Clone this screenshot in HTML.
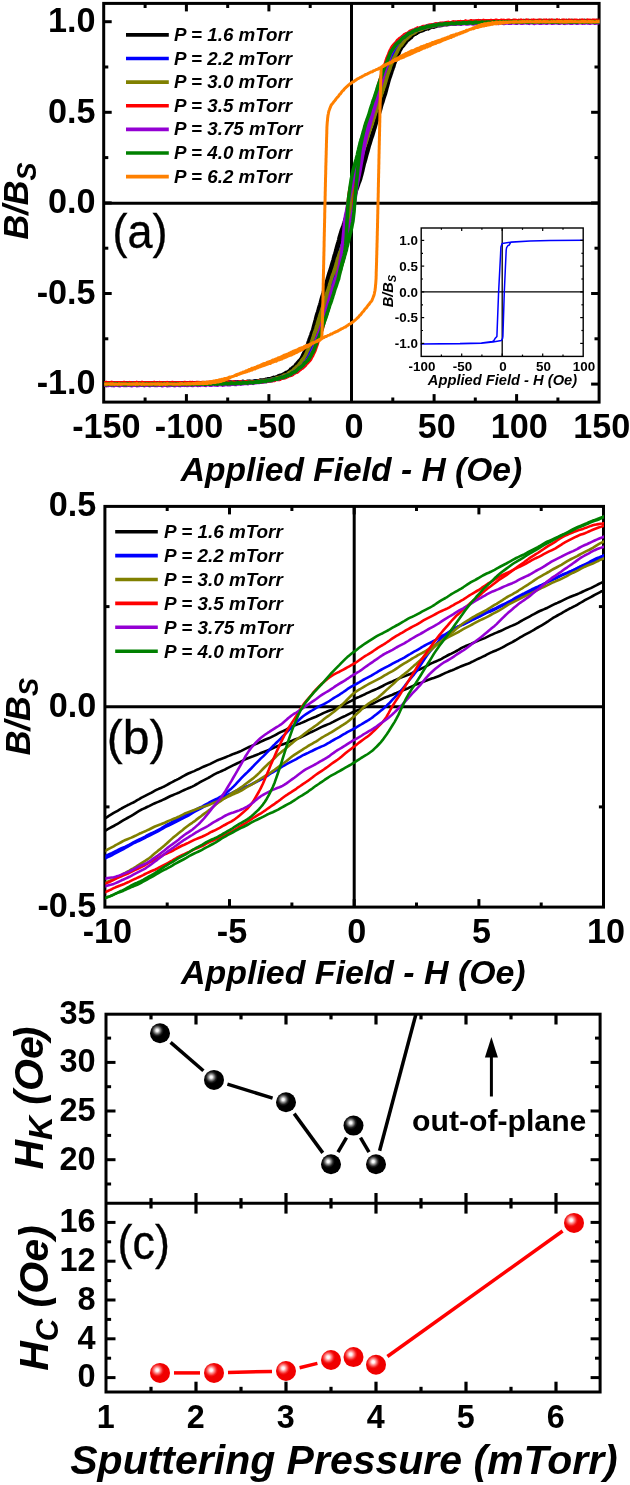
<!DOCTYPE html>
<html lang="en"><head><meta charset="utf-8"><title>Hysteresis loops vs sputtering pressure</title>
<style>html,body{margin:0;padding:0;background:#fff;overflow:hidden}svg{display:block}text{font-family:"Liberation Sans",sans-serif}</style></head><body>
<svg width="630" height="1485" viewBox="0 0 630 1485">
<rect x="0" y="0" width="630" height="1485" fill="#fff"/>
<defs>
<radialGradient id="gk" cx="0.36" cy="0.36" r="0.33" fx="0.36" fy="0.36"><stop offset="0" stop-color="#fff"/><stop offset="0.18" stop-color="#f4f4f4"/><stop offset="0.45" stop-color="#8a8a8a"/><stop offset="0.75" stop-color="#222"/><stop offset="1" stop-color="#000"/></radialGradient>
<radialGradient id="gr" cx="0.36" cy="0.36" r="0.34" fx="0.36" fy="0.36"><stop offset="0" stop-color="#fff"/><stop offset="0.2" stop-color="#fff0f0"/><stop offset="0.5" stop-color="#ff8080"/><stop offset="0.8" stop-color="#f42020"/><stop offset="1" stop-color="#f00000"/></radialGradient>
<clipPath id="ca"><rect x="104.2" y="3.9" width="495.4" height="397.7"/></clipPath>
<clipPath id="cb"><rect x="105.4" y="506.9" width="498.6" height="399.7"/></clipPath>
<clipPath id="cc"><rect x="106" y="1014.2" width="494.1" height="189.1"/></clipPath>
</defs>
<g id="panel-a">
<line x1="351.5" y1="3.4" x2="351.5" y2="402.1" stroke="#000" stroke-width="3" stroke-linecap="butt"/>
<line x1="103.7" y1="203.2" x2="599.1" y2="203.2" stroke="#000" stroke-width="3" stroke-linecap="butt"/>
<line x1="145.1" y1="402.1" x2="145.1" y2="397.5" stroke="#000" stroke-width="3" stroke-linecap="butt"/>
<line x1="145.1" y1="3.4" x2="145.1" y2="8" stroke="#000" stroke-width="3" stroke-linecap="butt"/>
<line x1="186.4" y1="402.1" x2="186.4" y2="394.1" stroke="#000" stroke-width="3" stroke-linecap="butt"/>
<line x1="186.4" y1="3.4" x2="186.4" y2="11.4" stroke="#000" stroke-width="3" stroke-linecap="butt"/>
<line x1="227.7" y1="402.1" x2="227.7" y2="397.5" stroke="#000" stroke-width="3" stroke-linecap="butt"/>
<line x1="227.7" y1="3.4" x2="227.7" y2="8" stroke="#000" stroke-width="3" stroke-linecap="butt"/>
<line x1="268.9" y1="402.1" x2="268.9" y2="394.1" stroke="#000" stroke-width="3" stroke-linecap="butt"/>
<line x1="268.9" y1="3.4" x2="268.9" y2="11.4" stroke="#000" stroke-width="3" stroke-linecap="butt"/>
<line x1="310.2" y1="402.1" x2="310.2" y2="397.5" stroke="#000" stroke-width="3" stroke-linecap="butt"/>
<line x1="310.2" y1="3.4" x2="310.2" y2="8" stroke="#000" stroke-width="3" stroke-linecap="butt"/>
<line x1="351.5" y1="402.1" x2="351.5" y2="394.1" stroke="#000" stroke-width="3" stroke-linecap="butt"/>
<line x1="351.5" y1="3.4" x2="351.5" y2="11.4" stroke="#000" stroke-width="3" stroke-linecap="butt"/>
<line x1="392.8" y1="402.1" x2="392.8" y2="397.5" stroke="#000" stroke-width="3" stroke-linecap="butt"/>
<line x1="392.8" y1="3.4" x2="392.8" y2="8" stroke="#000" stroke-width="3" stroke-linecap="butt"/>
<line x1="434.1" y1="402.1" x2="434.1" y2="394.1" stroke="#000" stroke-width="3" stroke-linecap="butt"/>
<line x1="434.1" y1="3.4" x2="434.1" y2="11.4" stroke="#000" stroke-width="3" stroke-linecap="butt"/>
<line x1="475.3" y1="402.1" x2="475.3" y2="397.5" stroke="#000" stroke-width="3" stroke-linecap="butt"/>
<line x1="475.3" y1="3.4" x2="475.3" y2="8" stroke="#000" stroke-width="3" stroke-linecap="butt"/>
<line x1="516.6" y1="402.1" x2="516.6" y2="394.1" stroke="#000" stroke-width="3" stroke-linecap="butt"/>
<line x1="516.6" y1="3.4" x2="516.6" y2="11.4" stroke="#000" stroke-width="3" stroke-linecap="butt"/>
<line x1="557.9" y1="402.1" x2="557.9" y2="397.5" stroke="#000" stroke-width="3" stroke-linecap="butt"/>
<line x1="557.9" y1="3.4" x2="557.9" y2="8" stroke="#000" stroke-width="3" stroke-linecap="butt"/>
<line x1="103.7" y1="384.1" x2="111.7" y2="384.1" stroke="#000" stroke-width="3" stroke-linecap="butt"/>
<line x1="599.1" y1="384.1" x2="591.1" y2="384.1" stroke="#000" stroke-width="3" stroke-linecap="butt"/>
<line x1="103.7" y1="338.8" x2="108.3" y2="338.8" stroke="#000" stroke-width="3" stroke-linecap="butt"/>
<line x1="599.1" y1="338.8" x2="594.5" y2="338.8" stroke="#000" stroke-width="3" stroke-linecap="butt"/>
<line x1="103.7" y1="293.5" x2="111.7" y2="293.5" stroke="#000" stroke-width="3" stroke-linecap="butt"/>
<line x1="599.1" y1="293.5" x2="591.1" y2="293.5" stroke="#000" stroke-width="3" stroke-linecap="butt"/>
<line x1="103.7" y1="248.2" x2="108.3" y2="248.2" stroke="#000" stroke-width="3" stroke-linecap="butt"/>
<line x1="599.1" y1="248.2" x2="594.5" y2="248.2" stroke="#000" stroke-width="3" stroke-linecap="butt"/>
<line x1="103.7" y1="202.9" x2="111.7" y2="202.9" stroke="#000" stroke-width="3" stroke-linecap="butt"/>
<line x1="599.1" y1="202.9" x2="591.1" y2="202.9" stroke="#000" stroke-width="3" stroke-linecap="butt"/>
<line x1="103.7" y1="157.6" x2="108.3" y2="157.6" stroke="#000" stroke-width="3" stroke-linecap="butt"/>
<line x1="599.1" y1="157.6" x2="594.5" y2="157.6" stroke="#000" stroke-width="3" stroke-linecap="butt"/>
<line x1="103.7" y1="112.3" x2="111.7" y2="112.3" stroke="#000" stroke-width="3" stroke-linecap="butt"/>
<line x1="599.1" y1="112.3" x2="591.1" y2="112.3" stroke="#000" stroke-width="3" stroke-linecap="butt"/>
<line x1="103.7" y1="67" x2="108.3" y2="67" stroke="#000" stroke-width="3" stroke-linecap="butt"/>
<line x1="599.1" y1="67" x2="594.5" y2="67" stroke="#000" stroke-width="3" stroke-linecap="butt"/>
<line x1="103.7" y1="21.7" x2="111.7" y2="21.7" stroke="#000" stroke-width="3" stroke-linecap="butt"/>
<line x1="599.1" y1="21.7" x2="591.1" y2="21.7" stroke="#000" stroke-width="3" stroke-linecap="butt"/>
<rect x="103.7" y="3.4" width="495.4" height="398.7" fill="none" stroke="#000" stroke-width="3"/>
<g clip-path="url(#ca)">
<polyline points="103.8,383.1 104.4,383.5 104.9,383.6 105.5,383.8 106,383.5 106.6,383.4 107.1,383.3 107.7,383.4 108.2,383.1 108.8,383 109.3,383 109.9,383.5 110.4,383.6 111,383.6 111.5,383.4 112.1,383.6 112.6,383.7 113.2,383.5 113.7,383.1 114.3,383 114.8,383.2 115.4,383.3 115.9,383.3 116.5,383.3 117,383.5 117.6,383.8 118.1,383.8 118.7,383.4 119.2,383.3 119.8,383.2 120.3,383.3 120.9,383.1 121.4,383 122,383.1 122.5,383.6 123.1,383.7 123.6,383.6 124.2,383.4 124.7,383.6 125.3,383.5 125.8,383.4 126.4,382.9 126.9,383.1 127.5,383.2 128.1,383.5 128.6,383.3 129.2,383.5 129.7,383.5 130.3,383.9 130.8,383.6 131.4,383.4 131.9,383 132.5,383.3 133,383.2 133.6,383.3 134.1,383 134.7,383.4 135.2,383.6 135.8,383.9 136.3,383.5 136.9,383.5 137.4,383.3 138,383.5 138.5,383.1 139.1,383.1 139.6,382.9 140.2,383.4 140.7,383.4 141.3,383.6 141.8,383.4 142.4,383.7 142.9,383.6 143.5,383.6 144,383.1 144.6,383.1 145.1,383.1 145.7,383.4 146.2,383.2 146.8,383.3 147.3,383.4 147.9,383.8 148.4,383.7 149,383.6 149.5,383.2 150.1,383.4 150.6,383.3 151.2,383.2 151.7,382.9 152.3,383.2 152.8,383.4 153.4,383.7 154,383.5 154.5,383.5 155.1,383.5 155.6,383.7 156.2,383.4 156.7,383.1 157.3,382.9 157.8,383.2 158.4,383.4 158.9,383.4 159.5,383.3 160,383.6 160.6,383.8 161.1,383.7 161.7,383.4 162.2,383.2 162.8,383.2 163.3,383.3 163.9,383.2 164.4,383 165,383.3 165.5,383.6 166.1,383.8 166.6,383.6 167.2,383.5 167.7,383.4 168.3,383.5 168.8,383.2 169.4,383.1 169.9,382.9 170.5,383.3 171,383.4 171.6,383.6 172.1,383.4 172.7,383.7 173.2,383.7 173.8,383.7 174.3,383.2 174.9,383.1 175.4,383 176,383.4 176.5,383.1 177.1,383.3 177.6,383.3 178.2,383.8 178.7,383.7 179.3,383.6 179.8,383.2 180.4,383.4 181,383.2 181.5,383.3 182.1,382.8 182.6,383.1 183.2,383.2 183.7,383.7 184.3,383.4 184.8,383.5 185.4,383.4 185.9,383.7 186.5,383.3 187,383.1 187.6,382.8 188.1,383.1 188.7,383.1 189.2,383.3 189.8,383.1 190.3,383.4 190.9,383.5 191.4,383.7 192,383.2 192.5,383.1 193.1,382.9 193.6,383.2 194.2,382.9 194.7,382.9 195.3,382.9 195.8,383.4 196.4,383.4 196.9,383.4 197.5,383.1 198,383.3 198.6,383.2 199.1,383.1 199.7,382.7 200.2,382.7 200.8,382.8 201.3,383.2 201.9,383.1 202.4,383.1 203,383.2 203.5,383.4 204.1,383.3 204.6,383 205.2,382.7 205.7,382.7 206.3,382.8 206.9,382.8 207.4,382.7 208,382.8 208.5,383.2 209.1,383.3 209.6,383.1 210.2,382.8 210.7,382.9 211.3,382.8 211.8,382.7 212.4,382.4 212.9,382.5 213.5,382.7 214,383 214.6,382.9 215.1,382.9 215.7,382.9 216.2,383.1 216.8,382.8 217.3,382.6 217.9,382.2 218.4,382.5 219,382.5 219.5,382.7 220.1,382.4 220.6,382.8 221.2,382.9 221.7,383.1 222.3,382.6 222.8,382.6 223.4,382.3 223.9,382.6 224.5,382.2 225,382.2 225.6,382.1 226.1,382.6 226.7,382.7 227.2,382.8 227.8,382.4 228.3,382.6 228.9,382.5 229.4,382.5 230,382 230.5,382 231.1,382 231.6,382.4 232.2,382.2 232.7,382.4 233.3,382.3 233.9,382.7 234.4,382.5 235,382.4 235.5,381.9 236.1,382.1 236.6,382 237.2,382.1 237.7,381.8 238.3,382.1 238.8,382.2 239.4,382.6 239.9,382.2 240.5,382.2 241,382 241.6,382.1 242.1,381.8 242.7,381.6 243.2,381.4 243.8,381.8 244.3,381.9 244.9,382 245.4,381.8 246,382 246.5,382 247.1,382 247.6,381.5 248.2,381.3 248.7,381.3 249.3,381.5 249.8,381.4 250.4,381.4 250.9,381.5 251.5,381.8 252,381.8 252.6,381.6 253.1,381.3 253.7,381.2 254.2,381.2 254.8,381 255.3,380.8 255.9,380.7 256.4,381 257,381.2 257.5,381.2 258.1,380.9 258.6,380.9 259.2,380.8 259.8,380.7 260.3,380.2 260.9,380.1 261.4,380 262,380.3 262.5,380.1 263.1,380.1 263.6,380 264.2,380.3 264.7,380.1 265.3,379.8 265.8,379.3 266.4,379.3 266.9,379.1 267.5,379.1 268,378.7 268.6,378.9 269.1,378.9 269.7,379.2 270.2,378.8 270.8,378.7 271.3,378.3 271.9,378.5 272.4,378 273,377.7 273.5,377.3 274.1,377.6 274.6,377.5 275.2,377.6 275.7,377.1 276.3,377.3 276.8,377 277.4,377 277.9,376.3 278.5,376 279,375.6 279.6,375.8 280.1,375.4 280.7,375.3 281.2,375 281.8,375.3 282.3,375 282.9,374.8 283.4,374.1 284,374 284.5,373.6 285.1,373.4 285.7,372.7 286.2,372.5 286.8,372.3 287.3,372.4 287.9,372 288.4,371.6 289,371.1 289.5,370.9 290.1,370.2 290.6,369.6 291.2,368.8 291.7,368.5 292.3,368.1 292.8,367.7 293.4,367.1 293.9,366.8 294.5,366.5 295,366.1 295.6,365.2 296.1,364.4 296.7,363.7 297.2,363.2 297.8,362.5 298.3,361.7 298.9,361.1 299.4,360.6 300,360.2 300.5,359.4 301.1,358.4 301.6,357.5 302.2,356.7 302.7,355.6 303.3,354.3 303.8,352.9 304.4,352 304.9,350.9 305.5,349.8 306,348.3 306.6,347.1 307.1,345.7 307.7,344.4 308.2,342.5 308.8,340.8 309.3,339.1 309.9,337.8 310.4,336.1 311,334.6 311.5,332.8 312.1,331.6 312.7,329.7 313.2,327.9 313.8,325.5 314.3,323.7 314.9,321.5 315.4,319.7 316,317.2 316.5,315.3 317.1,313.4 317.6,312 318.2,309.9 318.7,308.1 319.3,306.1 319.8,304.6 320.4,302.5 320.9,300.5 321.5,298.2 322,296.6 322.6,294.7 323.1,293.2 323.7,291.1 324.2,289.5 324.8,287.8 325.3,286.3 325.9,284.1 326.4,282.2 327,280 327.5,278.4 328.1,276.3 328.6,274.5 329.2,272.5 329.7,271.1 330.3,269.4 330.8,267.7 331.4,265.6 331.9,263.8 332.5,261.9 333,260.2 333.6,257.9 334.1,255.9 334.7,254.1 335.2,252.4 335.8,250.3 336.3,248.2 336.9,246 337.4,244.3 338,242.3 338.6,240.1 339.1,237.8 339.7,235.9 340.2,234.1 340.8,232.4 341.3,230.5 341.9,228.9 342.4,227.5 343,226.2 343.5,224.4 344.1,222.6 344.6,220.9 345.2,219.2 345.7,217.5 346.3,215.4 346.8,213.6 347.4,211.9 347.9,210.6 348.5,208.9 349,207.2 349.6,205.5 350.1,204.2 350.7,202.4 351.2,200.6 351.8,198.4 352.3,196.7 352.9,195 353.4,193.4 354,191.4 354.5,189.9 355.1,188.3 355.6,187 356.2,185 356.7,183.1 357.3,181 357.8,179.3 358.4,177.2 358.9,175.3 359.5,173.2 360,172 360.6,170.4 361.1,169 361.7,167 362.2,165.4 362.8,163.4 363.3,161.7 363.9,159.2 364.4,157.3 365,155.4 365.6,154.1 366.1,152.2 366.7,150.7 367.2,148.9 367.8,147.7 368.3,146 368.9,144.3 369.4,142 370,140.4 370.5,138.6 371.1,137.1 371.6,135 372.2,133.5 372.7,131.9 373.3,130.7 373.8,128.8 374.4,127.1 374.9,125.1 375.5,123.7 376,121.7 376.6,119.9 377.1,117.8 377.7,116.4 378.2,114.9 378.8,113.5 379.3,111.6 379.9,110 380.4,108.4 381,106.9 381.5,104.8 382.1,102.9 382.6,101 383.2,99.5 383.7,97.8 384.3,96 384.8,94.3 385.4,92.8 385.9,91.2 386.5,89.4 387,87.2 387.6,85.2 388.1,83.4 388.7,81.5 389.2,79.5 389.8,77.5 390.3,76 390.9,74.6 391.5,73 392,71.2 392.6,69.6 393.1,68.1 393.7,66.7 394.2,64.8 394.8,63 395.3,61.4 395.9,60.3 396.4,58.8 397,57.5 397.5,56.1 398.1,55.1 398.6,53.9 399.2,52.7 399.7,51.1 400.3,50.1 400.8,49 401.4,48.3 401.9,47.1 402.5,46.5 403,45.8 403.6,45.6 404.1,44.7 404.7,44.1 405.2,43.1 405.8,42.7 406.3,41.9 406.9,41.2 407.4,40.2 408,39.9 408.5,39.5 409.1,39.3 409.6,38.5 410.2,38.3 410.7,37.8 411.3,37.6 411.8,36.7 412.4,36.1 412.9,35.3 413.5,35.2 414,34.6 414.6,34.3 415.1,33.7 415.7,33.8 416.2,33.6 416.8,33.4 417.3,32.7 417.9,32.5 418.5,32.1 419,31.9 419.6,31.3 420.1,31 420.7,30.8 421.2,31 421.8,30.8 422.3,30.6 422.9,30.2 423.4,30.3 424,30 424.5,29.7 425.1,29 425.6,28.9 426.2,28.7 426.7,28.8 427.3,28.4 427.8,28.4 428.4,28.4 428.9,28.5 429.5,28.2 430,27.8 430.6,27.4 431.1,27.3 431.7,27.2 432.2,26.9 432.8,26.6 433.3,26.7 433.9,26.9 434.4,26.9 435,26.6 435.5,26.4 436.1,26.4 436.6,26.2 437.2,25.9 437.7,25.4 438.3,25.3 438.8,25.4 439.4,25.6 439.9,25.3 440.5,25.3 441,25.3 441.6,25.5 442.1,25.1 442.7,24.8 443.2,24.4 443.8,24.5 444.4,24.3 444.9,24.3 445.5,24 446,24.3 446.6,24.4 447.1,24.6 447.7,24.1 448.2,24.1 448.8,23.9 449.3,24 449.9,23.5 450.4,23.4 451,23.2 451.5,23.7 452.1,23.6 452.6,23.7 453.2,23.4 453.7,23.8 454.3,23.6 454.8,23.5 455.4,22.9 455.9,23 456.5,22.9 457,23.2 457.6,22.8 458.1,23 458.7,23 459.2,23.5 459.8,23.2 460.3,23.1 460.9,22.6 461.4,22.8 462,22.6 462.5,22.6 463.1,22.2 463.6,22.5 464.2,22.6 464.7,22.9 465.3,22.6 465.8,22.7 466.4,22.6 466.9,22.7 467.5,22.3 468,22.1 468.6,21.8 469.1,22.2 469.7,22.2 470.3,22.3 470.8,22.1 471.4,22.4 471.9,22.5 472.5,22.4 473,22 473.6,21.8 474.1,21.8 474.7,21.9 475.2,21.7 475.8,21.6 476.3,21.8 476.9,22.2 477.4,22.2 478,22.1 478.5,21.9 479.1,21.9 479.6,21.9 480.2,21.6 480.7,21.4 481.3,21.4 481.8,21.7 482.4,21.8 482.9,21.8 483.5,21.7 484,22 484.6,22 485.1,21.9 485.7,21.4 486.2,21.4 486.8,21.4 487.3,21.6 487.9,21.4 488.4,21.5 489,21.6 489.5,22 490.1,21.9 490.6,21.8 491.2,21.4 491.7,21.6 492.3,21.4 492.8,21.4 493.4,21 493.9,21.3 494.5,21.4 495,21.8 495.6,21.5 496.1,21.6 496.7,21.5 497.3,21.8 497.8,21.3 498.4,21.2 498.9,20.9 499.5,21.3 500,21.2 500.6,21.4 501.1,21.2 501.7,21.6 502.2,21.6 502.8,21.8 503.3,21.2 503.9,21.2 504.4,21 505,21.3 505.5,20.9 506.1,21 506.6,21 507.2,21.5 507.7,21.5 508.3,21.5 508.8,21.2 509.4,21.4 509.9,21.2 510.5,21.2 511,20.7 511.6,20.8 512.1,20.9 512.7,21.3 513.2,21.1 513.8,21.2 514.3,21.2 514.9,21.6 515.4,21.3 516,21.1 516.5,20.7 517.1,20.9 517.6,20.9 518.2,20.9 518.7,20.8 519.3,21.1 519.8,21.3 520.4,21.5 520.9,21.2 521.5,21 522,21 522.6,21.1 523.2,20.8 523.7,20.6 524.3,20.7 524.8,21 525.4,21.2 525.9,21.2 526.5,21.1 527,21.2 527.6,21.3 528.1,21.1 528.7,20.8 529.2,20.6 529.8,20.8 530.3,20.9 530.9,20.9 531.4,20.8 532,21.1 532.5,21.3 533.1,21.4 533.6,21 534.2,20.9 534.7,20.8 535.3,21 535.8,20.7 536.4,20.7 536.9,20.7 537.5,21.2 538,21.2 538.6,21.3 539.1,21 539.7,21.2 540.2,21.1 540.8,21.1 541.3,20.5 541.9,20.7 542.4,20.7 543,21.1 543.5,20.9 544.1,21.1 544.6,21 545.2,21.5 545.7,21.2 546.3,21.1 546.8,20.6 547.4,20.9 547.9,20.8 548.5,20.9 549,20.6 549.6,21 550.2,21.1 550.7,21.5 551.3,21.1 551.8,21.1 552.4,20.9 552.9,21.1 553.5,20.8 554,20.7 554.6,20.5 555.1,21 555.7,21 556.2,21.2 556.8,21 557.3,21.3 557.9,21.2 558.4,21.3 559,20.8 559.5,20.7 560.1,20.7 560.6,21 561.2,20.8 561.7,20.9 562.3,20.9 562.8,21.4 563.4,21.3 563.9,21.2 564.5,20.9 565,20.9 565.6,20.9 566.1,20.8 566.7,20.6 567.2,20.7 567.8,21 568.3,21.3 568.9,21.2 569.4,21.1 570,21.1 570.5,21.2 571.1,21.1 571.6,20.7 572.2,20.6 572.7,20.7 573.3,21 573.8,21 574.4,21 574.9,21.1 575.5,21.4 576.1,21.3 576.6,21.1 577.2,20.7 577.7,20.8 578.3,20.8 578.8,20.9 579.4,20.6 579.9,20.9 580.5,21.1 581,21.4 581.6,21.2 582.1,21.1 582.7,21 583.2,21.2 583.8,20.8 584.3,20.7 584.9,20.5 585.4,20.9 586,21 586.5,21.2 587.1,20.9 587.6,21.3 588.2,21.2 588.7,21.4 589.3,20.8 589.8,20.8 590.4,20.6 590.9,21 591.5,20.7 592,20.9 592.6,20.8 593.1,21.4 593.7,21.3 594.2,21.3 594.8,20.9 595.3,21 595.9,20.9 596.4,20.9 597,20.5 597.5,20.7 598.1,20.8 598.6,21.3 599.2,21.1 599.2,21.2 598.6,21.1 598.1,21.3 597.5,20.9 597,20.7 596.4,20.5 595.9,20.9 595.3,20.9 594.8,21 594.2,20.9 593.7,21.2 593.1,21.3 592.6,21.3 592,20.9 591.5,20.8 590.9,20.8 590.4,20.9 589.8,20.7 589.3,20.7 588.7,20.8 588.2,21.2 587.6,21.3 587.1,21.2 586.5,21.1 586,21.1 585.4,21.1 584.9,20.8 584.3,20.6 583.8,20.6 583.2,20.9 582.7,21 582.1,21 581.6,21 581,21.3 580.5,21.3 579.9,21.2 579.4,20.8 578.8,20.7 578.3,20.7 577.7,20.9 577.2,20.7 576.6,20.8 576.1,20.9 575.5,21.4 574.9,21.3 574.4,21.2 573.8,20.9 573.3,21.1 572.7,20.9 572.2,20.9 571.6,20.5 571.1,20.8 570.5,20.9 570,21.3 569.4,21 568.9,21.2 568.3,21.1 567.8,21.4 567.2,21 566.7,20.8 566.1,20.5 565.6,20.9 565,20.8 564.5,21 563.9,20.8 563.4,21.2 562.8,21.3 562.3,21.4 561.7,20.9 561.2,21 560.6,20.8 560.1,21 559.5,20.6 559,20.7 558.4,20.7 557.9,21.2 557.3,21.2 556.8,21.3 556.2,21 555.7,21.2 555.1,21.1 554.6,21 554,20.5 553.5,20.7 552.9,20.7 552.4,21.1 551.8,20.9 551.3,21.1 550.7,21.1 550.2,21.5 549.6,21.2 549,21 548.5,20.7 547.9,20.9 547.4,20.8 546.8,20.8 546.3,20.6 545.7,21 545.2,21.2 544.6,21.4 544.1,21.1 543.5,21 543,21 542.4,21.1 541.9,20.8 541.3,20.6 540.8,20.6 540.2,20.9 539.7,21.1 539.1,21.1 538.6,21.1 538,21.2 537.5,21.4 536.9,21.1 536.4,20.8 535.8,20.6 535.3,20.8 534.7,20.8 534.2,20.9 533.6,20.8 533.1,21.1 532.5,21.3 532,21.4 531.4,21 530.9,21 530.3,20.9 529.8,21 529.2,20.7 528.7,20.7 528.1,20.6 527.6,21.2 527,21.2 526.5,21.3 525.9,21 525.4,21.3 524.8,21.2 524.3,21.1 523.7,20.6 523.2,20.7 522.6,20.7 522,21.1 521.5,20.9 520.9,21.1 520.4,21.1 519.8,21.6 519.3,21.3 518.7,21.2 518.2,20.8 517.6,21 517.1,20.9 516.5,21 516,20.7 515.4,21.1 514.9,21.2 514.3,21.6 513.8,21.2 513.2,21.3 512.7,21.1 512.1,21.4 511.6,21 511,20.9 510.5,20.7 509.9,21.1 509.4,21.2 508.8,21.4 508.3,21.2 507.7,21.5 507.2,21.5 506.6,21.5 506.1,21 505.5,21 505,21 504.4,21.2 503.9,21 503.3,21.1 502.8,21.2 502.2,21.7 501.7,21.7 501.1,21.5 500.6,21.3 500,21.4 499.5,21.3 498.9,21.2 498.4,21 497.8,21.1 497.3,21.4 496.7,21.7 496.1,21.6 495.6,21.5 495,21.6 494.5,21.7 493.9,21.6 493.4,21.2 492.8,21.1 492.3,21.3 491.7,21.5 491.2,21.4 490.6,21.5 490.1,21.6 489.5,22 489,21.9 488.4,21.7 487.9,21.4 487.3,21.5 486.8,21.5 486.2,21.5 485.7,21.2 485.1,21.5 484.6,21.7 484,22.1 483.5,21.9 482.9,21.9 482.4,21.8 481.8,22 481.3,21.6 480.7,21.5 480.2,21.3 479.6,21.7 479.1,21.8 478.5,22 478,21.8 477.4,22.2 476.9,22.2 476.3,22.3 475.8,21.8 475.2,21.8 474.7,21.6 474.1,22 473.6,21.7 473,21.9 472.5,21.9 471.9,22.5 471.4,22.4 470.8,22.5 470.3,22.1 469.7,22.4 469.1,22.2 468.6,22.3 468,21.9 467.5,22.1 466.9,22.2 466.4,22.7 465.8,22.6 465.3,22.7 464.7,22.7 464.2,23 463.6,22.7 463.1,22.6 462.5,22.2 462,22.6 461.4,22.6 460.9,22.8 460.3,22.7 459.8,23 459.2,23.2 458.7,23.5 458.1,23.1 457.6,23 457,23 456.5,23.2 455.9,23 455.4,22.9 454.8,23 454.3,23.5 453.7,23.7 453.2,23.7 452.6,23.6 452.1,23.7 451.5,23.8 451,23.7 450.4,23.4 449.9,23.3 449.3,23.6 448.8,23.9 448.2,24 447.7,24 447.1,24.3 446.6,24.5 446,24.6 445.5,24.4 444.9,24.2 444.4,24.3 443.8,24.5 443.2,24.5 442.7,24.6 442.1,24.7 441.6,25.3 441,25.5 440.5,25.6 439.9,25.3 439.4,25.6 438.8,25.6 438.3,25.7 437.7,25.4 437.2,25.6 436.6,25.8 436.1,26.4 435.5,26.4 435,26.6 434.4,26.6 433.9,27.1 433.3,27 432.8,27 432.2,26.7 431.7,27.1 431.1,27.2 430.6,27.6 430,27.4 429.5,28 428.9,28.3 428.4,28.8 427.8,28.5 427.3,28.7 426.7,28.6 426.2,29.1 425.6,28.9 425.1,29.1 424.5,29.1 424,29.9 423.4,30.1 422.9,30.5 422.3,30.4 421.8,30.9 421.2,31 420.7,31.3 420.1,31 419.6,31.3 419,31.5 418.5,32.2 417.9,32.3 417.3,32.7 416.8,33 416.2,33.7 415.7,34 415.1,34.2 414.6,34.2 414,34.7 413.5,35.1 412.9,35.6 412.4,35.8 411.8,36.4 411.3,37.2 410.7,38 410.2,38.3 409.6,38.7 409.1,39.2 408.5,39.8 408,40.1 407.4,40.4 406.9,40.9 406.3,41.7 405.8,42.6 405.2,43.3 404.7,43.8 404.1,44.6 403.6,45.5 403,46.2 402.5,46.7 401.9,47.2 401.4,48.1 400.8,49.1 400.3,50.1 399.7,51 399.2,52.3 398.6,53.8 398.1,55.3 397.5,56.4 397,57.6 396.4,58.8 395.9,60.4 395.3,61.7 394.8,63 394.2,64.4 393.7,66.4 393.1,68 392.6,69.8 392,71.1 391.5,73 390.9,74.7 390.3,76.6 389.8,77.9 389.2,79.8 388.7,81.6 388.1,83.9 387.6,85.7 387,87.8 386.5,89.7 385.9,92.1 385.4,93.9 384.8,95.7 384.3,97 383.7,99 383.2,100.7 382.6,102.6 382.1,104 381.5,106.1 381,108 380.4,110.3 379.9,111.8 379.3,113.6 378.8,115.2 378.2,117.3 377.7,118.7 377.1,120.4 376.6,121.8 376,124 375.5,125.8 374.9,127.9 374.4,129.4 373.8,131.5 373.3,133.3 372.7,135.3 372.2,136.7 371.6,138.3 371.1,139.9 370.5,142 370,143.6 369.4,145.5 368.9,147.2 368.3,149.5 367.8,151.5 367.2,153.6 366.7,155.3 366.1,157.5 365.6,159.5 365,161.6 364.4,163.4 363.9,165.6 363.3,168 362.8,170.5 362.2,172.7 361.7,174.7 361.1,176.8 360.6,178.9 360,180.6 359.5,182 358.9,183.3 358.4,184.9 357.8,186.6 357.3,188.2 356.7,189.7 356.2,191.3 355.6,193.2 355.1,194.9 354.5,196.4 354,197.6 353.4,199.2 352.9,200.8 352.3,202.5 351.8,203.8 351.2,205.7 350.7,207.7 350.1,210 349.6,211.7 349,213.6 348.5,215.2 347.9,217 347.4,218.3 346.8,219.6 346.3,220.6 345.7,222.4 345.2,224.1 344.6,226 344.1,227.5 343.5,229.6 343,231.4 342.4,233.5 341.9,235 341.3,236.8 340.8,238.4 340.2,240.6 339.7,242.2 339.1,244 338.6,245.5 338,247.8 337.4,249.8 336.9,252 336.3,253.6 335.8,255.9 335.2,258 334.7,260.1 334.1,261.3 333.6,263.1 333,264.8 332.5,267 331.9,268.6 331.4,270.4 330.8,272 330.3,274.1 329.7,275.6 329.2,277.2 328.6,278.4 328.1,280.3 327.5,282 327,283.9 326.4,285.4 325.9,287.3 325.3,289.2 324.8,291.3 324.2,292.7 323.7,294.2 323.1,295.7 322.6,297.6 322,299.1 321.5,300.7 320.9,302.2 320.4,304.3 319.8,306.3 319.3,308.1 318.7,309.7 318.2,311.5 317.6,313.3 317.1,315.1 316.5,316.6 316,318.2 315.4,320.1 314.9,322.3 314.3,324.2 313.8,326 313.2,327.9 312.7,329.9 312.1,331.8 311.5,333.3 311,334.7 310.4,336.1 309.9,337.8 309.3,339.3 308.8,340.7 308.2,342.1 307.7,344 307.1,345.7 306.6,347.3 306,348.4 305.5,349.8 304.9,351 304.4,352.4 303.8,353.1 303.3,354.2 302.7,355.2 302.2,356.6 301.6,357.5 301.1,358.4 300.5,359.1 300,360.3 299.4,360.9 298.9,361.5 298.3,361.7 297.8,362.5 297.2,363 296.7,363.9 296.1,364.2 295.6,365 295,365.7 294.5,366.7 293.9,366.9 293.4,367.4 292.8,367.6 292.3,368.3 291.7,368.6 291.2,369 290.6,369.1 290.1,370 289.5,370.6 289,371.3 288.4,371.4 287.9,372 287.3,372.3 286.8,372.9 286.2,372.7 285.7,372.9 285.1,373 284.5,373.6 284,373.8 283.4,374.2 282.9,374.3 282.3,375 281.8,375.3 281.2,375.5 280.7,375.3 280.1,375.5 279.6,375.7 279,376 278.5,375.9 277.9,376.2 277.4,376.5 276.8,377.1 276.3,377.3 275.7,377.4 275.2,377.4 274.6,377.7 274.1,377.7 273.5,377.7 273,377.5 272.4,377.8 271.9,378.2 271.3,378.5 270.8,378.5 270.2,378.7 269.7,379 269.1,379.3 268.6,379.2 268,378.9 267.5,378.9 266.9,379.1 266.4,379.3 265.8,379.3 265.3,379.4 264.7,379.8 264.2,380.2 263.6,380.3 263.1,380.2 262.5,380.1 262,380.3 261.4,380.3 260.9,380.2 260.3,380 259.8,380.4 259.2,380.7 258.6,381 258.1,380.9 257.5,381.1 257,381.1 256.4,381.4 255.9,381 255.3,380.9 254.8,380.8 254.2,381.2 253.7,381.1 253.1,381.3 252.6,381.2 252,381.7 251.5,381.8 250.9,381.9 250.4,381.4 249.8,381.5 249.3,381.4 248.7,381.6 248.2,381.3 247.6,381.4 247.1,381.4 246.5,382 246,382 245.4,382.1 244.9,381.8 244.3,382.1 243.8,381.9 243.2,381.9 242.7,381.4 242.1,381.7 241.6,381.8 241,382.1 240.5,381.9 239.9,382.2 239.4,382.2 238.8,382.6 238.3,382.3 237.7,382.1 237.2,381.8 236.6,382.1 236.1,382 235.5,382 235,381.9 234.4,382.3 233.9,382.5 233.3,382.7 232.7,382.4 232.2,382.4 231.6,382.3 231.1,382.4 230.5,382.1 230,382 229.4,382 228.9,382.4 228.3,382.5 227.8,382.6 227.2,382.5 226.7,382.7 226.1,382.8 225.6,382.6 225,382.3 224.5,382.2 223.9,382.3 223.4,382.5 222.8,382.4 222.3,382.4 221.7,382.7 221.2,383 220.6,383 220.1,382.7 219.5,382.6 219,382.6 218.4,382.7 217.9,382.4 217.3,382.3 216.8,382.4 216.2,382.9 215.7,383 215.1,383 214.6,382.8 214,383 213.5,383 212.9,382.9 212.4,382.4 211.8,382.5 211.3,382.6 210.7,382.9 210.2,382.7 209.6,382.9 209.1,383 208.5,383.4 208,383.1 207.4,383 206.9,382.6 206.3,382.9 205.7,382.7 205.2,382.8 204.6,382.6 204.1,383 203.5,383.2 203,383.5 202.4,383.1 201.9,383.2 201.3,383 200.8,383.3 200.2,382.8 199.7,382.8 199.1,382.6 198.6,383.1 198,383.1 197.5,383.3 196.9,383.1 196.4,383.5 195.8,383.4 195.3,383.4 194.7,382.9 194.2,382.9 193.6,382.9 193.1,383.2 192.5,382.9 192,383.1 191.4,383.2 190.9,383.7 190.3,383.5 189.8,383.5 189.2,383.1 188.7,383.3 188.1,383.2 187.6,383.1 187,382.8 186.5,383 185.9,383.3 185.4,383.6 184.8,383.4 184.3,383.5 183.7,383.5 183.2,383.6 182.6,383.3 182.1,383.1 181.5,382.9 181,383.2 180.4,383.3 179.8,383.3 179.3,383.3 178.7,383.5 178.2,383.8 177.6,383.7 177.1,383.4 176.5,383.2 176,383.3 175.4,383.3 174.9,383.2 174.3,383 173.8,383.2 173.2,383.5 172.7,383.8 172.1,383.5 171.6,383.5 171,383.5 170.5,383.6 169.9,383.3 169.4,383.1 168.8,382.9 168.3,383.3 167.7,383.4 167.2,383.5 166.6,383.3 166.1,383.7 165.5,383.7 165,383.7 164.4,383.2 163.9,383.2 163.3,383.1 162.8,383.4 162.2,383.1 161.7,383.2 161.1,383.2 160.6,383.8 160,383.7 159.5,383.7 158.9,383.3 158.4,383.5 157.8,383.3 157.3,383.3 156.7,382.9 156.2,383.1 155.6,383.2 155.1,383.7 154.5,383.4 154,383.6 153.4,383.5 152.8,383.8 152.3,383.4 151.7,383.3 151.2,382.9 150.6,383.3 150.1,383.2 149.5,383.4 149,383.2 148.4,383.6 147.9,383.7 147.3,383.9 146.8,383.4 146.2,383.4 145.7,383.2 145.1,383.4 144.6,383.1 144,383.1 143.5,383.1 142.9,383.6 142.4,383.6 141.8,383.7 141.3,383.4 140.7,383.6 140.2,383.5 139.6,383.4 139.1,383 138.5,383 138,383.1 137.4,383.4 136.9,383.4 136.3,383.4 135.8,383.5 135.2,383.8 134.7,383.7 134.1,383.4 133.6,383.1 133,383.2 132.5,383.3 131.9,383.2 131.4,383.1 130.8,383.3 130.3,383.6 129.7,383.7 129.2,383.6 128.6,383.4 128.1,383.5 127.5,383.4 126.9,383.3 126.4,382.9 125.8,383 125.3,383.2 124.7,383.6 124.2,383.5 123.6,383.5 123.1,383.5 122.5,383.8 122,383.5 121.4,383.3 120.9,383 120.3,383.2 119.8,383.2 119.2,383.3 118.7,383.1 118.1,383.5 117.6,383.6 117,383.9 116.5,383.5 115.9,383.4 115.4,383.2 114.8,383.5 114.3,383.1 113.7,383.1 113.2,383 112.6,383.5 112.1,383.5 111.5,383.7 111,383.4 110.4,383.7 109.9,383.5 109.3,383.6 108.8,383 108.2,383.1 107.7,383 107.1,383.5 106.6,383.3 106,383.4 105.5,383.4 104.9,383.9 104.4,383.6 103.8,383.5" fill="none" stroke="#000000" stroke-width="3.6" stroke-linejoin="round" stroke-linecap="butt" />
<polyline points="103.8,383.7 104.4,383.9 104.9,383.9 105.5,383.6 106,383.5 106.6,383.5 107.1,383.5 107.7,383.3 108.2,383.2 108.8,383.3 109.3,383.7 109.9,383.8 110.4,383.7 111,383.7 111.5,383.8 112.1,383.8 112.6,383.5 113.2,383.3 113.7,383.2 114.3,383.4 114.8,383.5 115.4,383.5 115.9,383.5 116.5,383.8 117,383.9 117.6,383.9 118.1,383.5 118.7,383.4 119.2,383.4 119.8,383.5 120.3,383.2 120.9,383.3 121.4,383.4 122,383.9 122.5,383.8 123.1,383.8 123.6,383.5 124.2,383.8 124.7,383.6 125.3,383.5 125.8,383 126.4,383.3 126.9,383.4 127.5,383.8 128.1,383.5 128.6,383.7 129.2,383.7 129.7,384.1 130.3,383.6 130.8,383.5 131.4,383.2 131.9,383.5 132.5,383.3 133,383.5 133.6,383.2 134.1,383.7 134.7,383.8 135.2,384 135.8,383.6 136.3,383.6 136.9,383.5 137.4,383.7 138,383.2 138.5,383.2 139.1,383.2 139.6,383.7 140.2,383.7 140.7,383.8 141.3,383.6 141.8,383.9 142.4,383.8 142.9,383.7 143.5,383.2 144,383.3 144.6,383.3 145.1,383.6 145.7,383.4 146.2,383.5 146.8,383.7 147.3,384 147.9,383.9 148.4,383.7 149,383.4 149.5,383.5 150.1,383.4 150.6,383.3 151.2,383.2 151.7,383.4 152.3,383.7 152.8,383.9 153.4,383.7 154,383.7 154.5,383.7 155.1,383.7 155.6,383.5 156.2,383.2 156.7,383.2 157.3,383.4 157.8,383.6 158.4,383.5 158.9,383.6 159.5,383.7 160,384 160.6,383.8 161.1,383.5 161.7,383.2 162.2,383.4 162.8,383.4 163.3,383.4 163.9,383.2 164.4,383.6 165,383.8 165.5,384 166.1,383.7 166.6,383.7 167.2,383.5 167.7,383.7 168.3,383.3 168.8,383.2 169.4,383.1 169.9,383.6 170.5,383.6 171,383.8 171.6,383.5 172.1,383.9 172.7,383.8 173.2,383.8 173.8,383.2 174.3,383.3 174.9,383.2 175.4,383.6 176,383.3 176.5,383.5 177.1,383.5 177.6,384 178.2,383.8 178.7,383.8 179.3,383.3 179.8,383.6 180.4,383.4 181,383.4 181.5,383 182.1,383.4 182.6,383.5 183.2,383.9 183.7,383.6 184.3,383.7 184.8,383.6 185.4,383.8 185.9,383.4 186.5,383.2 187,383 187.6,383.4 188.1,383.4 188.7,383.5 189.2,383.4 189.8,383.7 190.3,383.8 190.9,383.8 191.4,383.4 192,383.3 192.5,383.2 193.1,383.4 193.6,383.1 194.2,383.1 194.7,383.2 195.3,383.7 195.8,383.7 196.4,383.6 196.9,383.4 197.5,383.5 198,383.4 198.6,383.2 199.1,382.9 199.7,382.9 200.2,383.2 200.8,383.4 201.3,383.4 201.9,383.4 202.4,383.5 203,383.6 203.5,383.5 204.1,383.1 204.6,383 205.2,383 205.7,383.2 206.3,383 206.9,383.1 207.4,383.2 208,383.6 208.5,383.5 209.1,383.4 209.6,383.1 210.2,383.2 210.7,383.1 211.3,383 211.8,382.7 212.4,382.9 212.9,383.1 213.5,383.5 214,383.2 214.6,383.3 215.1,383.2 215.7,383.5 216.2,383.1 216.8,382.9 217.3,382.6 217.9,382.9 218.4,382.9 219,383.1 219.5,382.8 220.1,383.2 220.6,383.3 221.2,383.5 221.7,382.9 222.3,382.9 222.8,382.7 223.4,383 223.9,382.6 224.5,382.7 225,382.6 225.6,383.2 226.1,383.1 226.7,383.2 227.2,382.8 227.8,383 228.3,382.9 228.9,382.9 229.4,382.3 230,382.5 230.5,382.5 231.1,382.9 231.6,382.7 232.2,382.9 232.7,382.8 233.3,383.2 233.9,382.9 234.4,382.7 235,382.3 235.5,382.5 236.1,382.5 236.6,382.5 237.2,382.3 237.7,382.6 238.3,382.8 238.8,383 239.4,382.7 239.9,382.6 240.5,382.5 241,382.6 241.6,382.3 242.1,382.1 242.7,382.1 243.2,382.4 243.8,382.6 244.3,382.6 244.9,382.4 245.4,382.5 246,382.6 246.5,382.4 247.1,382.1 247.6,381.8 248.2,382 248.7,382.1 249.3,382.1 249.8,382 250.4,382.2 250.9,382.4 251.5,382.5 252,382.1 252.6,382 253.1,381.8 253.7,381.9 254.2,381.7 254.8,381.6 255.3,381.5 255.9,382 256.4,382 257,382.1 257.5,381.7 258.1,381.9 258.6,381.7 259.2,381.7 259.8,381.1 260.3,381.1 260.9,381.1 261.4,381.4 262,381.2 262.5,381.3 263.1,381.2 263.6,381.6 264.2,381.3 264.7,381.1 265.3,380.5 265.8,380.7 266.4,380.5 266.9,380.6 267.5,380.2 268,380.5 268.6,380.5 269.1,380.9 269.7,380.4 270.2,380.3 270.8,380 271.3,380.2 271.9,379.7 272.4,379.5 273,379.2 273.5,379.5 274.1,379.5 274.6,379.6 275.2,379.2 275.7,379.3 276.3,379.2 276.8,379.1 277.4,378.4 277.9,378.2 278.5,378 279,378.1 279.6,377.8 280.1,377.7 280.7,377.6 281.2,377.8 281.8,377.6 282.3,377.3 282.9,376.8 283.4,376.6 284,376.4 284.5,376.2 285.1,375.7 285.7,375.6 286.2,375.6 286.8,375.7 287.3,375.4 287.9,375 288.4,374.8 289,374.6 289.5,374.1 290.1,373.5 290.6,373 291.2,372.8 291.7,372.7 292.3,372.4 292.8,372 293.4,371.7 293.9,371.7 294.5,371.2 295,370.6 295.6,369.8 296.1,369.3 296.7,368.8 297.2,368.4 297.8,367.6 298.3,367.2 298.9,366.9 299.4,366.7 300,365.8 300.5,365.1 301.1,364.3 301.6,363.9 302.2,362.9 302.7,362 303.3,361 303.8,360.7 304.4,360 304.9,359.4 305.5,358.3 306,357.7 306.6,356.8 307.1,356 307.7,354.5 308.2,353.4 308.8,352.2 309.3,351.4 309.9,350.1 310.4,349.1 311,347.8 311.5,347 312.1,345.5 312.7,344.1 313.2,342.1 313.8,340.7 314.3,338.9 314.9,337.3 315.4,335.1 316,333.6 316.5,332 317.1,330.7 317.6,328.8 318.2,327.2 318.7,325.3 319.3,323.9 319.8,321.8 320.4,319.9 320.9,317.7 321.5,316.2 322,314.4 322.6,312.8 323.1,310.7 323.7,309.1 324.2,307.4 324.8,305.7 325.3,303.5 325.9,301.5 326.4,299.4 327,297.8 327.5,295.8 328.1,293.9 328.6,292 329.2,290.5 329.7,288.9 330.3,287 330.8,284.9 331.4,283.1 331.9,281.3 332.5,279.3 333,277.1 333.6,275.1 334.1,273.4 334.7,271.8 335.2,270 335.8,268 336.3,266.2 336.9,264.5 337.4,262.6 338,260.3 338.6,258 339.1,255.9 339.7,254.1 340.2,252.1 340.8,250.2 341.3,248.3 341.9,246.7 342.4,244.8 343,242.3 343.5,238.7 344.1,234.9 344.6,231.2 345.2,227.4 345.7,223.2 346.3,219.6 346.8,216 347.4,212.4 347.9,208.4 348.5,205.7 349,203.4 349.6,201.6 350.1,199.1 350.7,196.7 351.2,194 351.8,192 352.3,189.8 352.9,187.9 353.4,185.5 354,183.7 354.5,181.7 355.1,180 355.6,177.5 356.2,175.4 356.7,173 357.3,171.2 357.8,168.8 358.4,166.7 358.9,164.4 359.5,163 360,161.1 360.6,159.5 361.1,157.3 361.7,155.7 362.2,153.7 362.8,151.9 363.3,149.4 363.9,147.5 364.4,145.5 365,144.2 365.6,142.3 366.1,140.6 366.7,138.8 367.2,137.5 367.8,135.7 368.3,133.8 368.9,131.5 369.4,129.7 370,127.8 370.5,126.1 371.1,124 371.6,122.3 372.2,120.6 372.7,119.2 373.3,117.1 373.8,115.2 374.4,113.2 374.9,111.5 375.5,109.5 376,107.4 376.6,105.4 377.1,103.8 377.7,102.2 378.2,100.5 378.8,98.5 379.3,96.7 379.9,95 380.4,93.2 381,91 381.5,88.9 382.1,87.1 382.6,85.5 383.2,83.8 383.7,82 384.3,80.4 384.8,78.9 385.4,77.5 385.9,75.6 386.5,73.6 387,71.7 387.6,70.1 388.1,68.3 388.7,66.5 389.2,64.7 389.8,63.5 390.3,62.2 390.9,60.9 391.5,59.2 392,58 392.6,56.8 393.1,55.7 393.7,54.1 394.2,53 394.8,51.8 395.3,51.2 395.9,50.2 396.4,49.3 397,48.3 397.5,47.9 398.1,47 398.6,46.1 399.2,44.8 399.7,44.1 400.3,43.3 400.8,42.8 401.4,41.7 401.9,41.3 402.5,40.8 403,40.6 403.6,39.8 404.1,39.2 404.7,38.4 405.2,38.1 405.8,37.3 406.3,36.7 406.9,35.8 407.4,35.7 408,35.3 408.5,35.2 409.1,34.5 409.6,34.4 410.2,34 410.7,33.8 411.3,33 411.8,32.5 412.4,32 412.9,32 413.5,31.6 414,31.3 414.6,30.9 415.1,31.1 415.7,31 416.2,30.8 416.8,30.1 417.3,29.9 417.9,29.7 418.5,29.5 419,29 419.6,28.8 420.1,28.7 420.7,28.9 421.2,28.8 421.8,28.5 422.3,28.3 422.9,28.3 423.4,28 424,27.6 424.5,27.1 425.1,27 425.6,27.1 426.2,27 426.7,26.8 427.3,26.7 427.8,26.8 428.4,26.9 428.9,26.6 429.5,26.1 430,25.9 430.6,25.8 431.1,25.7 431.7,25.4 432.2,25.3 432.8,25.4 433.3,25.7 433.9,25.5 434.4,25.4 435,25.1 435.5,25.2 436.1,24.9 436.6,24.7 437.2,24.2 437.7,24.4 438.3,24.5 438.8,24.7 439.4,24.4 439.9,24.5 440.5,24.5 441,24.7 441.6,24.2 442.1,24 442.7,23.6 443.2,23.9 443.8,23.6 444.4,23.7 444.9,23.4 445.5,23.9 446,23.9 446.6,24 447.1,23.5 447.7,23.6 448.2,23.3 448.8,23.5 449.3,23 449.9,23 450.4,22.9 451,23.4 451.5,23.3 452.1,23.4 452.6,23.1 453.2,23.4 453.7,23.2 454.3,23.1 454.8,22.5 455.4,22.7 455.9,22.6 456.5,22.9 457,22.6 457.6,22.8 458.1,22.9 458.7,23.2 459.2,22.9 459.8,22.7 460.3,22.4 460.9,22.6 461.4,22.4 462,22.3 462.5,22.1 463.1,22.4 463.6,22.6 464.2,22.8 464.7,22.5 465.3,22.5 465.8,22.4 466.4,22.5 466.9,22.1 467.5,21.9 468,21.8 468.6,22.1 469.1,22.2 469.7,22.2 470.3,22.1 470.8,22.3 471.4,22.5 471.9,22.3 472.5,21.9 473,21.7 473.6,21.8 474.1,21.8 474.7,21.7 475.2,21.6 475.8,21.9 476.3,22.2 476.9,22.3 477.4,21.9 478,21.9 478.5,21.8 479.1,21.9 479.6,21.5 480.2,21.4 480.7,21.4 481.3,21.8 481.8,21.8 482.4,21.9 482.9,21.7 483.5,22 484,21.9 484.6,21.9 485.1,21.3 485.7,21.4 486.2,21.4 486.8,21.7 487.3,21.4 487.9,21.6 488.4,21.7 489,22.1 489.5,21.9 490.1,21.8 490.6,21.4 491.2,21.6 491.7,21.4 492.3,21.4 492.8,21 493.4,21.4 493.9,21.6 494.5,21.9 495,21.6 495.6,21.7 496.1,21.6 496.7,21.8 497.3,21.3 497.8,21.2 498.4,21 498.9,21.4 499.5,21.3 500,21.5 500.6,21.3 501.1,21.7 501.7,21.7 502.2,21.8 502.8,21.3 503.3,21.3 503.9,21.1 504.4,21.3 505,21 505.5,21.1 506.1,21.2 506.6,21.7 507.2,21.6 507.7,21.6 508.3,21.3 508.8,21.5 509.4,21.3 509.9,21.2 510.5,20.8 511,21 511.6,21.2 512.1,21.4 512.7,21.3 513.2,21.4 513.8,21.5 514.3,21.6 514.9,21.4 515.4,21.1 516,20.9 516.5,21 517.1,21.1 517.6,21.1 518.2,21 518.7,21.3 519.3,21.6 519.8,21.6 520.4,21.4 520.9,21.1 521.5,21.2 522,21.1 522.6,21 523.2,20.7 523.7,21 524.3,21.2 524.8,21.5 525.4,21.3 525.9,21.3 526.5,21.3 527,21.5 527.6,21.1 528.1,20.9 528.7,20.7 529.2,21.1 529.8,21.1 530.3,21.2 530.9,21 531.4,21.4 532,21.5 532.5,21.6 533.1,21.1 533.6,21.1 534.2,20.9 534.7,21.2 535.3,20.8 535.8,20.9 536.4,20.9 536.9,21.5 537.5,21.4 538,21.5 538.6,21.1 539.1,21.4 539.7,21.2 540.2,21.2 540.8,20.7 541.3,20.9 541.9,20.9 542.4,21.4 543,21.1 543.5,21.3 544.1,21.3 544.6,21.6 545.2,21.3 545.7,21.2 546.3,20.8 546.8,21.1 547.4,21 547.9,21.1 548.5,20.8 549,21.2 549.6,21.4 550.2,21.6 550.7,21.3 551.3,21.2 551.8,21.1 552.4,21.3 552.9,20.9 553.5,20.8 554,20.8 554.6,21.2 555.1,21.3 555.7,21.4 556.2,21.2 556.8,21.4 557.3,21.4 557.9,21.3 558.4,20.9 559,20.8 559.5,20.9 560.1,21.1 560.6,21.1 561.2,21.1 561.7,21.3 562.3,21.5 562.8,21.5 563.4,21.2 563.9,21 564.5,21 565,21.1 565.6,20.9 566.1,20.8 566.7,20.9 567.2,21.3 567.8,21.4 568.3,21.4 568.9,21.2 569.4,21.4 570,21.3 570.5,21.2 571.1,20.8 571.6,20.8 572.2,20.9 572.7,21.3 573.3,21.1 573.8,21.2 574.4,21.3 574.9,21.6 575.5,21.4 576.1,21.2 576.6,20.8 577.2,21.1 577.7,21 578.3,21.1 578.8,20.8 579.4,21.2 579.9,21.3 580.5,21.7 581,21.3 581.6,21.3 582.1,21.1 582.7,21.3 583.2,20.9 583.8,20.9 584.3,20.7 584.9,21.2 585.4,21.2 586,21.4 586.5,21.1 587.1,21.5 587.6,21.4 588.2,21.5 588.7,20.9 589.3,20.9 589.8,20.8 590.4,21.2 590.9,20.9 591.5,21.1 592,21.1 592.6,21.6 593.1,21.5 593.7,21.4 594.2,21 594.8,21.2 595.3,21 595.9,21 596.4,20.7 597,20.9 597.5,21.1 598.1,21.5 598.6,21.3 599.2,21.3 599.2,21.2 598.6,21.4 598.1,21.3 597.5,21.6 597,21.2 596.4,21 595.9,20.7 595.3,21 594.8,21 594.2,21.1 593.7,21 593.1,21.4 592.6,21.5 592,21.6 591.5,21.2 590.9,21.1 590.4,21 589.8,21.2 589.3,20.9 588.7,20.9 588.2,20.9 587.6,21.4 587.1,21.4 586.5,21.4 586,21.2 585.4,21.4 584.9,21.3 584.3,21.2 583.8,20.8 583.2,20.8 582.7,21 582.1,21.2 581.6,21.2 581,21.2 580.5,21.3 579.9,21.6 579.4,21.5 578.8,21.1 578.3,20.9 577.7,21 577.2,21.1 576.6,20.9 576.1,20.9 575.5,21.1 574.9,21.5 574.4,21.5 573.8,21.4 573.3,21.2 572.7,21.3 572.2,21.2 571.6,21.1 571.1,20.7 570.5,20.8 570,21 569.4,21.4 568.9,21.2 568.3,21.3 567.8,21.3 567.2,21.6 566.7,21.3 566.1,21.1 565.6,20.7 565,21 564.5,21 563.9,21.1 563.4,20.9 562.8,21.3 562.3,21.4 561.7,21.7 561.2,21.2 560.6,21.2 560.1,21 559.5,21.2 559,20.8 558.4,20.9 557.9,20.8 557.3,21.3 556.8,21.3 556.2,21.5 555.7,21.2 555.1,21.4 554.6,21.3 554,21.3 553.5,20.8 552.9,20.9 552.4,20.8 551.8,21.3 551.3,21 550.7,21.2 550.2,21.2 549.6,21.7 549,21.4 548.5,21.3 547.9,20.9 547.4,21.1 546.8,21 546.3,21 545.7,20.8 545.2,21.1 544.6,21.3 544.1,21.6 543.5,21.3 543,21.3 542.4,21.2 541.9,21.3 541.3,21 540.8,20.8 540.2,20.7 539.7,21.1 539.1,21.2 538.6,21.3 538,21.2 537.5,21.4 536.9,21.5 536.4,21.4 535.8,21 535.3,20.9 534.7,20.9 534.2,21.1 533.6,21 533.1,20.9 532.5,21.1 532,21.5 531.4,21.6 530.9,21.3 530.3,21.2 529.8,21.1 529.2,21.2 528.7,21 528.1,20.8 527.6,20.8 527,21.2 526.5,21.4 525.9,21.4 525.4,21.2 524.8,21.4 524.3,21.4 523.7,21.4 523.2,20.9 522.6,20.9 522,20.9 521.5,21.2 520.9,21.1 520.4,21.2 519.8,21.2 519.3,21.7 518.7,21.5 518.2,21.4 517.6,21 517.1,21.2 516.5,21.1 516,21.1 515.4,20.8 514.9,21.1 514.3,21.3 513.8,21.7 513.2,21.4 512.7,21.5 512.1,21.3 511.6,21.6 511,21.2 510.5,21.1 509.9,20.8 509.4,21.2 508.8,21.3 508.3,21.5 507.7,21.2 507.2,21.6 506.6,21.6 506.1,21.8 505.5,21.2 505,21.2 504.4,21 503.9,21.4 503.3,21.1 502.8,21.2 502.2,21.2 501.7,21.7 501.1,21.7 500.6,21.7 500,21.4 499.5,21.5 498.9,21.4 498.4,21.4 497.8,21 497.3,21.2 496.7,21.3 496.1,21.7 495.6,21.6 495,21.7 494.5,21.7 493.9,21.9 493.4,21.7 492.8,21.4 492.3,21.1 491.7,21.3 491.2,21.5 490.6,21.5 490.1,21.4 489.5,21.6 489,21.9 488.4,22 487.9,21.8 487.3,21.5 486.8,21.5 486.2,21.6 485.7,21.5 485.1,21.3 484.6,21.4 484,21.7 483.5,22 482.9,21.9 482.4,21.9 481.8,21.8 481.3,22 480.7,21.8 480.2,21.6 479.6,21.3 479.1,21.6 478.5,21.7 478,21.9 477.4,21.8 476.9,22.1 476.3,22.1 475.8,22.3 475.2,21.9 474.7,21.8 474.1,21.6 473.6,21.9 473,21.7 472.5,21.8 471.9,21.8 471.4,22.3 470.8,22.4 470.3,22.5 469.7,22.1 469.1,22.3 468.6,22.2 468,22.3 467.5,21.8 466.9,21.9 466.4,22 465.8,22.5 465.3,22.4 464.7,22.6 464.2,22.5 463.6,22.9 463.1,22.6 462.5,22.5 462,22.1 461.4,22.4 460.9,22.4 460.3,22.6 459.8,22.4 459.2,22.7 458.7,22.9 458.1,23.3 457.6,22.9 457,22.9 456.5,22.7 455.9,22.9 455.4,22.7 454.8,22.7 454.3,22.6 453.7,23.1 453.2,23.2 452.6,23.4 452.1,23.2 451.5,23.4 451,23.4 450.4,23.4 449.9,23 449.3,23 448.8,23.1 448.2,23.4 447.7,23.4 447.1,23.5 446.6,23.6 446,24 445.5,24.1 444.9,23.9 444.4,23.6 443.8,23.7 443.2,23.8 442.7,23.8 442.1,23.8 441.6,23.9 441,24.3 440.5,24.6 439.9,24.7 439.4,24.5 438.8,24.6 438.3,24.7 437.7,24.7 437.2,24.4 436.6,24.4 436.1,24.6 435.5,25.1 435,25.1 434.4,25.3 433.9,25.3 433.3,25.8 432.8,25.7 432.2,25.6 431.7,25.3 431.1,25.6 430.6,25.7 430,26 429.5,25.9 428.9,26.3 428.4,26.6 427.8,27.1 427.3,26.9 426.7,27 426.2,26.9 425.6,27.3 425.1,27.1 424.5,27.3 424,27.2 423.4,27.8 422.9,28.1 422.3,28.5 421.8,28.4 421.2,28.8 420.7,28.9 420.1,29.2 419.6,28.9 419,29 418.5,29.1 417.9,29.7 417.3,29.8 416.8,30.2 416.2,30.3 415.7,31 415.1,31.2 414.6,31.5 414,31.3 413.5,31.7 412.9,31.9 412.4,32.3 411.8,32.3 411.3,32.8 410.7,33.3 410.2,34.2 409.6,34.4 409.1,34.7 408.5,35 408,35.6 407.4,35.8 406.9,36.1 406.3,36.3 405.8,37.1 405.2,37.8 404.7,38.6 404.1,39 403.6,39.7 403,40.5 402.5,41.2 401.9,41.5 401.4,41.9 400.8,42.5 400.3,43.4 399.7,44.1 399.2,44.8 398.6,45.6 398.1,46.8 397.5,47.9 397,48.7 396.4,49.4 395.9,50.2 395.3,51.3 394.8,52.2 394.2,53 393.7,53.9 393.1,55.3 392.6,56.7 392,58.1 391.5,59.2 390.9,60.8 390.3,62.3 389.8,63.9 389.2,65.1 388.7,66.5 388.1,68.1 387.6,70.1 387,71.8 386.5,73.6 385.9,75.3 385.4,77.4 384.8,79.2 384.3,80.9 383.7,82.1 383.2,84 382.6,85.6 382.1,87.5 381.5,89 381,91 380.4,92.9 379.9,95.3 379.3,97 378.8,98.9 378.2,100.5 377.7,102.7 377.1,104.3 376.6,106 376,107.4 375.5,109.6 374.9,111.5 374.4,113.6 373.8,115.2 373.3,117.3 372.7,119.2 372.2,121.4 371.6,122.8 371.1,124.5 370.5,126.1 370,128.3 369.4,130 368.9,131.9 368.3,133.6 367.8,135.9 367.2,137.7 366.7,139.6 366.1,140.9 365.6,142.8 365,144.5 364.4,146.4 363.9,147.8 363.3,149.7 362.8,151.7 362.2,154.1 361.7,155.9 361.1,157.9 360.6,159.6 360,161.8 359.5,163.5 358.9,165 358.4,166.2 357.8,168.5 357.3,171.8 356.7,175.8 356.2,180.7 355.6,186.6 355.1,191.8 354.5,196.6 354,200.5 353.4,203.9 352.9,206.9 352.3,209.4 351.8,211.4 351.2,213.3 350.7,215.4 350.1,217.8 349.6,220.3 349,222.2 348.5,224 347.9,225.8 347.4,227.9 346.8,229.7 346.3,231.8 345.7,233.7 345.2,235.9 344.6,237.9 344.1,240 343.5,241.5 343,243.4 342.4,245.4 341.9,247.6 341.3,249.2 340.8,251 340.2,252.7 339.7,254.9 339.1,256.8 338.6,258.8 338,260.6 337.4,263 336.9,265.1 336.3,267.2 335.8,268.7 335.2,270.7 334.7,272.4 334.1,274.4 333.6,275.8 333,277.6 332.5,279.4 331.9,281.8 331.4,283.5 330.8,285.5 330.3,287.2 329.7,289.5 329.2,291.2 328.6,293 328.1,294.2 327.5,296.2 327,298 326.4,300.1 325.9,301.6 325.3,303.7 324.8,305.6 324.2,308 323.7,309.6 323.1,311.3 322.6,312.8 322,314.9 321.5,316.5 320.9,318.3 320.4,319.7 319.8,321.9 319.3,323.8 318.7,325.8 318.2,327.2 317.6,329 317.1,330.7 316.5,332.6 316,333.9 315.4,335.4 314.9,337 314.3,338.9 313.8,340.6 313.2,342.2 312.7,343.7 312.1,345.5 311.5,347 311,348.3 310.4,349.1 309.9,350.2 309.3,351.3 308.8,352.4 308.2,353.3 307.7,354.3 307.1,355.5 306.6,356.8 306,357.8 305.5,358.5 304.9,359.3 304.4,360.1 303.8,360.9 303.3,361.4 302.7,361.9 302.2,362.6 301.6,363.6 301.1,364.4 300.5,365.1 300,365.6 299.4,366.5 298.9,367.2 298.3,367.6 297.8,367.7 297.2,368.3 296.7,368.8 296.1,369.5 295.6,369.7 295,370.3 294.5,370.8 293.9,371.7 293.4,371.9 292.8,372.3 292.3,372.3 291.7,372.9 291.2,373 290.6,373.3 290.1,373.2 289.5,373.9 289,374.3 288.4,375 287.9,374.9 287.3,375.4 286.8,375.6 286.2,376.1 285.7,375.8 285.1,375.9 284.5,375.8 284,376.4 283.4,376.5 282.9,376.9 282.3,376.9 281.8,377.5 281.2,377.8 280.7,378.1 280.1,377.7 279.6,377.9 279,378 278.5,378.3 277.9,378.1 277.4,378.3 276.8,378.5 276.3,379.2 275.7,379.3 275.2,379.5 274.6,379.3 274.1,379.7 273.5,379.7 273,379.7 272.4,379.3 271.9,379.6 271.3,379.8 270.8,380.2 270.2,380.1 269.7,380.4 269.1,380.5 268.6,380.9 268,380.7 267.5,380.6 266.9,380.4 266.4,380.6 265.8,380.7 265.3,380.7 264.7,380.7 264.2,381 263.6,381.4 263.1,381.5 262.5,381.4 262,381.3 261.4,381.4 260.9,381.4 260.3,381.3 259.8,381.1 259.2,381.2 258.6,381.6 258.1,381.8 257.5,381.8 257,381.9 256.4,382 255.9,382.2 255.3,381.9 254.8,381.7 254.2,381.5 253.7,381.8 253.1,381.8 252.6,381.9 252,381.8 251.5,382.2 250.9,382.4 250.4,382.6 249.8,382.2 249.3,382.2 248.7,382.1 248.2,382.3 247.6,381.9 247.1,382 246.5,382 246,382.5 245.4,382.5 244.9,382.6 244.3,382.4 243.8,382.7 243.2,382.5 242.7,382.5 242.1,382 241.6,382.2 241,382.2 240.5,382.6 239.9,382.4 239.4,382.6 238.8,382.6 238.3,383.1 237.7,382.8 237.2,382.7 236.6,382.3 236.1,382.6 235.5,382.4 235,382.5 234.4,382.3 233.9,382.7 233.3,382.9 232.7,383.2 232.2,382.8 231.6,382.9 231.1,382.8 230.5,383 230,382.6 229.4,382.5 228.9,382.3 228.3,382.8 227.8,382.9 227.2,383 226.7,382.8 226.1,383.2 225.6,383.2 225,383.2 224.5,382.7 223.9,382.7 223.4,382.7 222.8,382.9 222.3,382.7 221.7,382.8 221.2,383 220.6,383.4 220.1,383.4 219.5,383.2 219,383 218.4,383 217.9,383 217.3,382.9 216.8,382.6 216.2,382.8 215.7,383.1 215.1,383.3 214.6,383.3 214,383.2 213.5,383.3 212.9,383.4 212.4,383.2 211.8,382.8 211.3,382.8 210.7,382.9 210.2,383.2 209.6,383.1 209.1,383.2 208.5,383.3 208,383.7 207.4,383.5 206.9,383.3 206.3,383 205.7,383.2 205.2,383.1 204.6,383.1 204.1,382.8 203.5,383.2 203,383.4 202.4,383.7 201.9,383.4 201.3,383.5 200.8,383.4 200.2,383.6 199.7,383.2 199.1,383.1 198.6,382.8 198,383.3 197.5,383.3 196.9,383.5 196.4,383.3 195.8,383.7 195.3,383.7 194.7,383.8 194.2,383.2 193.6,383.2 193.1,383.1 192.5,383.4 192,383.1 191.4,383.3 190.9,383.3 190.3,383.8 189.8,383.7 189.2,383.8 188.7,383.4 188.1,383.6 187.6,383.4 187,383.4 186.5,383 185.9,383.2 185.4,383.4 184.8,383.8 184.3,383.6 183.7,383.7 183.2,383.6 182.6,383.9 182.1,383.6 181.5,383.4 181,383.1 180.4,383.4 179.8,383.4 179.3,383.5 178.7,383.4 178.2,383.7 177.6,383.9 177.1,384 176.5,383.6 176,383.5 175.4,383.4 174.9,383.5 174.3,383.3 173.8,383.2 173.2,383.3 172.7,383.7 172.1,383.9 171.6,383.8 171,383.7 170.5,383.7 169.9,383.8 169.4,383.6 168.8,383.3 168.3,383.1 167.7,383.4 167.2,383.6 166.6,383.6 166.1,383.5 165.5,383.8 165,383.9 164.4,383.9 163.9,383.5 163.3,383.4 162.8,383.3 162.2,383.5 161.7,383.3 161.1,383.3 160.6,383.4 160,383.9 159.5,383.9 158.9,383.9 158.4,383.5 157.8,383.7 157.3,383.6 156.7,383.5 156.2,383.1 155.6,383.3 155.1,383.4 154.5,383.8 154,383.6 153.4,383.7 152.8,383.6 152.3,384 151.7,383.7 151.2,383.5 150.6,383.1 150.1,383.4 149.5,383.4 149,383.5 148.4,383.3 147.9,383.7 147.3,383.8 146.8,384.1 146.2,383.6 145.7,383.6 145.1,383.4 144.6,383.6 144,383.3 143.5,383.3 142.9,383.1 142.4,383.7 141.8,383.7 141.3,383.9 140.7,383.6 140.2,383.8 139.6,383.7 139.1,383.7 138.5,383.2 138,383.2 137.4,383.2 136.9,383.6 136.3,383.5 135.8,383.6 135.2,383.6 134.7,384 134.1,383.9 133.6,383.7 133,383.3 132.5,383.4 131.9,383.4 131.4,383.4 130.8,383.2 130.3,383.4 129.7,383.7 129.2,384 128.6,383.8 128.1,383.7 127.5,383.6 126.9,383.7 126.4,383.5 125.8,383.2 125.3,383.1 124.7,383.4 124.2,383.6 123.6,383.7 123.1,383.6 122.5,383.7 122,383.9 121.4,383.8 120.9,383.5 120.3,383.2 119.8,383.3 119.2,383.4 118.7,383.5 118.1,383.3 117.6,383.5 117,383.8 116.5,384 115.9,383.7 115.4,383.6 114.8,383.5 114.3,383.6 113.7,383.4 113.2,383.3 112.6,383.1 112.1,383.6 111.5,383.7 111,383.9 110.4,383.6 109.9,383.8 109.3,383.7 108.8,383.8 108.2,383.3 107.7,383.3 107.1,383.2 106.6,383.6 106,383.4 105.5,383.6 104.9,383.5 104.4,384 103.8,383.9" fill="none" stroke="#0000ff" stroke-width="3.6" stroke-linejoin="round" stroke-linecap="butt" />
<polyline points="103.8,384.4 104.4,384.4 104.9,384 105.5,384.1 106,384 106.6,384 107.1,383.7 107.7,383.9 108.2,384.1 108.8,384.4 109.3,384.3 109.9,384.3 110.4,384.2 111,384.4 111.5,384.1 112.1,383.9 112.6,383.7 113.2,383.9 113.7,384.1 114.3,384.1 114.8,384.1 115.4,384.2 115.9,384.5 116.5,384.5 117,384.2 117.6,383.9 118.1,383.9 118.7,384 119.2,383.9 119.8,383.8 120.3,384 120.9,384.2 121.4,384.5 122,384.3 122.5,384.2 123.1,384.1 123.6,384.3 124.2,384 124.7,383.8 125.3,383.6 125.8,384 126.4,384.1 126.9,384.3 127.5,384.1 128.1,384.4 128.6,384.4 129.2,384.5 129.7,383.9 130.3,383.9 130.8,383.7 131.4,384.1 131.9,383.9 132.5,384 133,384 133.6,384.5 134.1,384.4 134.7,384.4 135.2,384 135.8,384.2 136.3,384 136.9,384.1 137.4,383.6 138,383.9 138.5,384 139.1,384.4 139.6,384.2 140.2,384.3 140.7,384.2 141.3,384.5 141.8,384.1 142.4,384 142.9,383.6 143.5,383.9 144,383.9 144.6,384.2 145.1,383.9 145.7,384.3 146.2,384.4 146.8,384.6 147.3,384.1 147.9,384 148.4,383.8 149,384.1 149.5,383.9 150.1,383.9 150.6,383.8 151.2,384.3 151.7,384.4 152.3,384.4 152.8,384.1 153.4,384.2 154,384.2 154.5,384.2 155.1,383.8 155.6,383.7 156.2,383.8 156.7,384.2 157.3,384.2 157.8,384.2 158.4,384.2 158.9,384.5 159.5,384.4 160,384.1 160.6,383.8 161.1,383.8 161.7,384 162.2,384 162.8,383.9 163.3,384 163.9,384.3 164.4,384.5 165,384.4 165.5,384.1 166.1,384.1 166.6,384.1 167.2,384 167.7,383.7 168.3,383.8 168.8,383.9 169.4,384.3 169.9,384.2 170.5,384.3 171,384.2 171.6,384.5 172.1,384.2 172.7,384 173.2,383.6 173.8,383.9 174.3,383.9 174.9,384.1 175.4,383.9 176,384.2 176.5,384.3 177.1,384.6 177.6,384.2 178.2,384.1 178.7,383.8 179.3,384.1 179.8,383.8 180.4,383.8 181,383.7 181.5,384.2 182.1,384.3 182.6,384.4 183.2,384.1 183.7,384.3 184.3,384.1 184.8,384.2 185.4,383.7 185.9,383.7 186.5,383.6 187,384.1 187.6,384 188.1,384.1 188.7,384 189.2,384.4 189.8,384.3 190.3,384.2 190.9,383.7 191.4,383.8 192,383.8 192.5,383.9 193.1,383.6 193.6,383.9 194.2,384 194.7,384.4 195.3,384.2 195.8,384.1 196.4,383.9 196.9,384.1 197.5,383.8 198,383.6 198.6,383.4 199.1,383.8 199.7,383.9 200.2,384.1 200.8,383.9 201.3,384 201.9,384.1 202.4,384.1 203,383.8 203.5,383.5 204.1,383.5 204.6,383.7 205.2,383.7 205.7,383.6 206.3,383.7 206.9,384 207.4,384.2 208,384 208.5,383.7 209.1,383.6 209.6,383.7 210.2,383.6 210.7,383.4 211.3,383.3 211.8,383.7 212.4,383.9 212.9,384 213.5,383.7 214,383.8 214.6,383.8 215.1,383.8 215.7,383.4 216.2,383.3 216.8,383.2 217.3,383.6 217.9,383.5 218.4,383.6 219,383.5 219.5,384 220.1,383.9 220.6,383.8 221.2,383.3 221.7,383.4 222.3,383.3 222.8,383.4 223.4,383.1 223.9,383.3 224.5,383.4 225,383.9 225.6,383.6 226.1,383.6 226.7,383.3 227.2,383.6 227.8,383.3 228.3,383.2 228.9,382.8 229.4,383.1 230,383.2 230.5,383.5 231.1,383.2 231.6,383.4 232.2,383.4 232.7,383.6 233.3,383.1 233.9,382.9 234.4,382.7 235,383 235.5,382.9 236.1,382.9 236.6,382.8 237.2,383.3 237.7,383.3 238.3,383.3 238.8,382.9 239.4,382.9 239.9,382.8 240.5,382.8 241,382.4 241.6,382.4 242.1,382.5 242.7,383 243.2,382.9 243.8,382.8 244.3,382.7 244.9,382.9 245.4,382.7 246,382.5 246.5,382.1 247.1,382.2 247.6,382.3 248.2,382.4 248.7,382.3 249.3,382.3 249.8,382.5 250.4,382.7 250.9,382.4 251.5,382.1 252,381.9 252.6,382 253.1,381.9 253.7,381.7 254.2,381.7 254.8,381.9 255.3,382.2 255.9,382.1 256.4,382 257,381.8 257.5,381.9 258.1,381.7 258.6,381.4 259.2,381 259.8,381.2 260.3,381.3 260.9,381.5 261.4,381.2 262,381.3 262.5,381.3 263.1,381.5 263.6,381 264.2,380.7 264.7,380.4 265.3,380.6 265.8,380.4 266.4,380.4 266.9,380.2 267.5,380.6 268,380.6 268.6,380.6 269.1,380.1 269.7,380.1 270.2,379.8 270.8,379.8 271.3,379.3 271.9,379.2 272.4,379.1 273,379.5 273.5,379.3 274.1,379.2 274.6,378.9 275.2,379.1 275.7,378.7 276.3,378.5 276.8,377.8 277.4,377.8 277.9,377.6 278.5,377.8 279,377.3 279.6,377.4 280.1,377.3 280.7,377.5 281.2,376.9 281.8,376.6 282.3,376.1 282.9,376.1 283.4,375.7 284,375.5 284.5,375 285.1,375.2 285.7,375.1 286.2,375.1 286.8,374.5 287.3,374.3 287.9,373.9 288.4,373.7 289,372.9 289.5,372.4 290.1,372 290.6,372 291.2,371.6 291.7,371.2 292.3,370.8 292.8,370.6 293.4,370.3 293.9,369.6 294.5,368.8 295,368.2 295.6,367.8 296.1,367.3 296.7,366.6 297.2,366.1 297.8,365.8 298.3,365.5 298.9,364.8 299.4,363.9 300,363.2 300.5,362.5 301.1,361.8 301.6,360.7 302.2,359.8 302.7,359.1 303.3,358.7 303.8,357.9 304.4,357 304.9,355.9 305.5,355.2 306,354.1 306.6,352.9 307.1,351.4 307.7,350.3 308.2,349.2 308.8,348.3 309.3,346.9 309.9,345.8 310.4,344.7 311,343.8 311.5,342.2 312.1,340.7 312.7,339.1 313.2,338 313.8,336.4 314.3,334.9 314.9,333.2 315.4,332.2 316,330.8 316.5,329.7 317.1,327.9 317.6,326.6 318.2,325.1 318.7,323.9 319.3,322 319.8,320.5 320.4,318.9 320.9,317.9 321.5,316.4 322,315.2 322.6,313.5 323.1,312.6 323.7,311.1 324.2,309.7 324.8,307.8 325.3,306.4 325.9,304.9 326.4,303.7 327,302 327.5,300.7 328.1,299.4 328.6,298.6 329.2,297.1 329.7,295.7 330.3,294.1 330.8,292.9 331.4,291.4 331.9,289.9 332.5,288.2 333,287.1 333.6,285.9 334.1,284.9 334.7,283.4 335.2,282 335.8,280.2 336.3,278.4 336.9,275.9 337.4,273.2 338,270.3 338.6,267.7 339.1,264.6 339.7,261.2 340.2,258.1 340.8,255.6 341.3,253.1 341.9,250.1 342.4,246.7 343,243.9 343.5,241.6 344.1,239 344.6,236.1 345.2,232.8 345.7,229.3 346.3,226 346.8,222.8 347.4,219.5 347.9,216.7 348.5,213.9 349,211.2 349.6,208.1 350.1,205.1 350.7,201.9 351.2,198.3 351.8,195.3 352.3,193.2 352.9,191 353.4,189.2 354,187.1 354.5,184.9 355.1,182.2 355.6,180 356.2,177.6 356.7,175.6 357.3,173.1 357.8,170.9 358.4,168.7 358.9,167.2 359.5,165.2 360,163.4 360.6,161.1 361.1,159.4 361.7,157.1 362.2,155 362.8,152.5 363.3,150.8 363.9,149 364.4,147.6 365,145.5 365.6,143.9 366.1,142.1 366.7,140.7 367.2,138.6 367.8,136.7 368.3,134.7 368.9,133.4 369.4,131.6 370,130.1 370.5,128.2 371.1,127 371.6,125.5 372.2,124 372.7,121.9 373.3,120.3 373.8,118.5 374.4,117 374.9,114.9 375.5,113.2 376,111.4 376.6,110.2 377.1,108.6 377.7,107 378.2,105 378.8,103.6 379.3,101.8 379.9,99.9 380.4,97.7 381,96 381.5,94.3 382.1,92.9 382.6,91 383.2,89.4 383.7,87.8 384.3,86.4 384.8,84.7 385.4,82.7 385.9,80.7 386.5,79 387,77.2 387.6,75.3 388.1,73.4 388.7,71.8 389.2,70.5 389.8,68.9 390.3,67.2 390.9,65.5 391.5,64.1 392,62.7 392.6,61.2 393.1,59.5 393.7,58.4 394.2,57.3 394.8,56.5 395.3,55.2 395.9,54.2 396.4,53.2 397,52.4 397.5,51.2 398.1,50 398.6,48.7 399.2,48 399.7,47 400.3,46.2 400.8,45.2 401.4,44.8 401.9,44.3 402.5,43.8 403,42.8 403.6,42.1 404.1,41.3 404.7,40.8 405.2,39.8 405.8,39.2 406.3,38.5 406.9,38.4 407.4,37.9 408,37.6 408.5,36.8 409.1,36.7 409.6,36.1 410.2,35.7 410.7,34.7 411.3,34.4 411.8,33.9 412.4,33.8 412.9,33.2 413.5,33 414,32.6 414.6,32.8 415.1,32.3 415.7,31.9 416.2,31.2 416.8,31.1 417.3,30.7 417.9,30.5 418.5,29.9 419,30 419.6,29.9 420.1,30.1 420.7,29.6 421.2,29.5 421.8,29.1 422.3,29.2 422.9,28.6 423.4,28.2 424,27.8 424.5,28 425.1,27.9 425.6,27.8 426.2,27.5 426.7,27.6 427.3,27.6 427.8,27.5 428.4,26.9 428.9,26.6 429.5,26.4 430,26.4 430.6,26.2 431.1,26 431.7,26 432.2,26.3 432.8,26.3 433.3,26.1 433.9,25.8 434.4,25.7 435,25.6 435.5,25.3 436.1,25 436.6,24.8 437.2,25.1 437.7,25.2 438.3,25.2 438.8,25 439.4,25.1 439.9,25.1 440.5,25 441,24.5 441.6,24.3 442.1,24.2 442.7,24.4 443.2,24.2 443.8,24.2 444.4,24.2 444.9,24.6 445.5,24.5 446,24.3 446.6,23.9 447.1,24 447.7,23.8 448.2,23.8 448.8,23.3 449.3,23.6 449.9,23.7 450.4,24.1 451,23.8 451.5,23.8 452.1,23.7 452.6,23.9 453.2,23.5 453.7,23.3 454.3,22.9 454.8,23.3 455.4,23.2 455.9,23.4 456.5,23.1 457,23.5 457.6,23.5 458.1,23.7 458.7,23.2 459.2,23.1 459.8,22.9 460.3,23.1 460.9,22.8 461.4,22.8 462,22.7 462.5,23.2 463.1,23.2 463.6,23.3 464.2,22.9 464.7,23.1 465.3,22.9 465.8,22.9 466.4,22.4 466.9,22.4 467.5,22.5 468,22.9 468.6,22.7 469.1,22.8 469.7,22.8 470.3,23.1 470.8,22.8 471.4,22.6 471.9,22.2 472.5,22.4 473,22.4 473.6,22.4 474.1,22.2 474.7,22.4 475.2,22.7 475.8,22.9 476.3,22.6 476.9,22.4 477.4,22.4 478,22.4 478.5,22.2 479.1,22 479.6,22 480.2,22.2 480.7,22.5 481.3,22.5 481.8,22.4 482.4,22.4 482.9,22.6 483.5,22.4 484,22.1 484.6,21.8 485.1,22 485.7,22.1 486.2,22.2 486.8,22 487.3,22.3 487.9,22.5 488.4,22.6 489,22.2 489.5,22.1 490.1,21.9 490.6,22.1 491.2,21.9 491.7,21.8 492.3,21.7 492.8,22.2 493.4,22.3 493.9,22.4 494.5,22.1 495,22.3 495.6,22.1 496.1,22.2 496.7,21.6 497.3,21.7 497.8,21.7 498.4,22.1 498.9,21.9 499.5,22.1 500,22 500.6,22.4 501.1,22.2 501.7,22.1 502.2,21.6 502.8,21.8 503.3,21.7 503.9,21.9 504.4,21.5 505,21.9 505.5,22 506.1,22.4 506.6,22 507.2,22 507.7,21.8 508.3,22 508.8,21.7 509.4,21.6 509.9,21.3 510.5,21.8 511,21.9 511.6,22.1 512.1,21.8 512.7,22.1 513.2,22.1 513.8,22.1 514.3,21.6 514.9,21.5 515.4,21.4 516,21.7 516.5,21.6 517.1,21.7 517.6,21.7 518.2,22.1 518.7,22.1 519.3,22 519.8,21.7 520.4,21.7 520.9,21.7 521.5,21.6 522,21.4 522.6,21.4 523.2,21.7 523.7,22 524.3,22 524.8,21.8 525.4,21.9 525.9,21.9 526.5,21.8 527,21.5 527.6,21.3 528.1,21.4 528.7,21.7 529.2,21.7 529.8,21.7 530.3,21.8 530.9,22.1 531.4,22 532,21.9 532.5,21.5 533.1,21.6 533.6,21.5 534.2,21.6 534.7,21.3 535.3,21.6 535.8,21.7 536.4,22.2 536.9,21.9 537.5,21.9 538,21.7 538.6,21.9 539.1,21.6 539.7,21.5 540.2,21.2 540.8,21.6 541.3,21.7 541.9,21.9 542.4,21.7 543,22 543.5,21.9 544.1,22.1 544.6,21.6 545.2,21.5 545.7,21.3 546.3,21.7 546.8,21.5 547.4,21.6 547.9,21.5 548.5,22.1 549,22 549.6,22.1 550.2,21.6 550.7,21.7 551.3,21.6 551.8,21.7 552.4,21.3 552.9,21.4 553.5,21.5 554,22 554.6,21.9 555.1,21.9 555.7,21.8 556.2,22.1 556.8,21.8 557.3,21.6 557.9,21.2 558.4,21.5 559,21.5 559.5,21.8 560.1,21.6 560.6,21.8 561.2,22 561.7,22.2 562.3,21.8 562.8,21.6 563.4,21.5 563.9,21.6 564.5,21.5 565,21.4 565.6,21.4 566.1,21.8 566.7,22 567.2,22 567.8,21.8 568.3,21.8 568.9,21.8 569.4,21.8 570,21.4 570.5,21.3 571.1,21.4 571.6,21.7 572.2,21.8 572.7,21.7 573.3,21.8 573.8,22 574.4,22.1 574.9,21.7 575.5,21.5 576.1,21.4 576.6,21.6 577.2,21.5 577.7,21.5 578.3,21.5 578.8,21.9 579.4,22 579.9,22.1 580.5,21.7 581,21.8 581.6,21.7 582.1,21.7 582.7,21.3 583.2,21.4 583.8,21.4 584.3,21.9 584.9,21.8 585.4,21.9 586,21.7 586.5,22.1 587.1,21.8 587.6,21.7 588.2,21.2 588.7,21.5 589.3,21.5 589.8,21.8 590.4,21.5 590.9,21.8 591.5,21.9 592,22.2 592.6,21.8 593.1,21.8 593.7,21.4 594.2,21.7 594.8,21.5 595.3,21.5 595.9,21.3 596.4,21.8 597,21.9 597.5,22.1 598.1,21.7 598.6,21.9 599.2,21.8 599.2,21.9 598.6,21.8 598.1,21.9 597.5,21.8 597,22.1 596.4,21.9 595.9,21.8 595.3,21.3 594.8,21.5 594.2,21.5 593.7,21.7 593.1,21.5 592.6,21.7 592,21.9 591.5,22.2 590.9,22 590.4,21.8 589.8,21.6 589.3,21.7 588.7,21.6 588.2,21.4 587.6,21.3 587.1,21.6 586.5,21.9 586,22 585.4,21.8 584.9,21.8 584.3,22 583.8,21.9 583.2,21.6 582.7,21.3 582.1,21.4 581.6,21.6 581,21.7 580.5,21.6 579.9,21.8 579.4,21.9 578.8,22.2 578.3,21.9 577.7,21.7 577.2,21.4 576.6,21.7 576.1,21.5 575.5,21.5 574.9,21.3 574.4,21.8 573.8,21.9 573.3,22.1 572.7,21.8 572.2,21.9 571.6,21.7 571.1,21.9 570.5,21.4 570,21.4 569.4,21.3 568.9,21.8 568.3,21.7 567.8,21.9 567.2,21.7 566.7,22.1 566.1,22 565.6,21.9 565,21.4 564.5,21.5 563.9,21.4 563.4,21.7 562.8,21.4 562.3,21.6 561.7,21.7 561.2,22.2 560.6,21.9 560.1,21.9 559.5,21.6 559,21.8 558.4,21.5 557.9,21.5 557.3,21.2 556.8,21.6 556.2,21.7 555.7,22 555.1,21.7 554.6,21.9 554,21.9 553.5,22 552.9,21.6 552.4,21.4 551.8,21.3 551.3,21.6 550.7,21.6 550.2,21.7 549.6,21.6 549,22 548.5,22.1 547.9,22 547.4,21.6 546.8,21.6 546.3,21.6 545.7,21.6 545.2,21.4 544.6,21.4 544.1,21.6 543.5,22 543,22 542.4,21.9 541.9,21.8 541.3,21.9 540.8,21.8 540.2,21.5 539.7,21.3 539.1,21.4 538.6,21.7 538,21.8 537.5,21.7 536.9,21.7 536.4,22 535.8,22.1 535.3,21.9 534.7,21.5 534.2,21.5 533.6,21.5 533.1,21.6 532.5,21.4 532,21.5 531.4,21.7 530.9,22.1 530.3,22 529.8,21.9 529.2,21.6 528.7,21.8 528.1,21.6 527.6,21.5 527,21.2 526.5,21.5 525.9,21.7 525.4,22 524.8,21.7 524.3,21.9 523.7,21.9 523.2,22.1 522.6,21.7 522,21.5 521.5,21.3 520.9,21.7 520.4,21.6 519.8,21.7 519.3,21.6 518.7,22.1 518.2,22.1 517.6,22.2 517.1,21.7 516.5,21.8 516,21.6 515.4,21.8 514.9,21.4 514.3,21.5 513.8,21.5 513.2,22.1 512.7,22 512.1,22.1 511.6,21.8 511,22.1 510.5,21.9 509.9,21.8 509.4,21.4 508.8,21.6 508.3,21.7 507.7,22 507.2,21.8 506.6,22 506.1,22.1 505.5,22.4 505,22.1 504.4,21.9 503.9,21.6 503.3,21.8 502.8,21.8 502.2,21.7 501.7,21.6 501.1,22 500.6,22.2 500,22.4 499.5,22.1 498.9,22 498.4,22.1 497.8,22.1 497.3,21.8 496.7,21.6 496.1,21.7 495.6,22 495,22.2 494.5,22.2 493.9,22.2 493.4,22.3 492.8,22.4 492.3,22.2 491.7,21.9 491.2,21.7 490.6,22 490.1,22 489.5,22 489,22 488.4,22.3 487.9,22.5 487.3,22.6 486.8,22.2 486.2,22.2 485.7,22.1 485.1,22.2 484.6,21.9 484,21.9 483.5,21.9 482.9,22.5 482.4,22.5 481.8,22.5 481.3,22.3 480.7,22.6 480.2,22.5 479.6,22.4 479.1,21.9 478.5,22.1 478,22.1 477.4,22.5 476.9,22.3 476.3,22.5 475.8,22.5 475.2,23 474.7,22.7 474.1,22.6 473.6,22.2 473,22.5 472.5,22.3 471.9,22.4 471.4,22.2 470.8,22.6 470.3,22.8 469.7,23.1 469.1,22.8 468.6,22.9 468,22.7 467.5,23 466.9,22.5 466.4,22.5 465.8,22.4 465.3,22.9 464.7,22.9 464.2,23.1 463.6,22.9 463.1,23.3 462.5,23.3 462,23.3 461.4,22.8 460.9,22.8 460.3,22.8 459.8,23.1 459.2,22.9 458.7,23 458.1,23.2 457.6,23.7 457,23.6 456.5,23.5 455.9,23.3 455.4,23.4 454.8,23.4 454.3,23.3 453.7,23 453.2,23.3 452.6,23.6 452.1,23.9 451.5,23.8 451,23.8 450.4,23.9 449.9,24 449.3,23.8 448.8,23.5 448.2,23.5 447.7,23.7 447.1,23.9 446.6,23.9 446,24 445.5,24.2 444.9,24.6 444.4,24.6 443.8,24.4 443.2,24.2 442.7,24.4 442.1,24.4 441.6,24.4 441,24.2 440.5,24.6 439.9,24.9 439.4,25.3 438.8,25.1 438.3,25.2 437.7,25.2 437.2,25.4 436.6,25.1 436.1,25.1 435.5,25 435,25.5 434.4,25.6 433.9,25.9 433.3,25.8 432.8,26.2 432.2,26.3 431.7,26.5 431.1,26.1 430.6,26.2 430,26.2 429.5,26.7 428.9,26.5 428.4,26.8 427.8,27 427.3,27.7 426.7,27.7 426.2,27.9 425.6,27.6 425.1,28.1 424.5,28 424,28.2 423.4,28 422.9,28.4 422.3,28.7 421.8,29.4 421.2,29.3 420.7,29.7 420.1,29.8 419.6,30.3 419,30.2 418.5,30.2 417.9,30.2 417.3,30.7 416.8,31 416.2,31.4 415.7,31.5 415.1,32.2 414.6,32.6 414,33.1 413.5,33.1 412.9,33.4 412.4,33.7 411.8,34.2 411.3,34.3 410.7,34.7 410.2,35.2 409.6,36.1 409.1,36.6 408.5,37.1 408,37.4 407.4,38 406.9,38.6 406.3,38.9 405.8,39.2 405.2,39.7 404.7,40.5 404.1,41.3 403.6,42 403,42.6 402.5,43.5 401.9,44.4 401.4,45.2 400.8,45.5 400.3,46.2 399.7,47 399.2,48 398.6,48.8 398.1,49.7 397.5,50.8 397,52.3 396.4,53.3 395.9,54.4 395.3,55.2 394.8,56.5 394.2,57.5 393.7,58.7 393.1,59.5 392.6,60.9 392,62.3 391.5,64.1 390.9,65.3 390.3,66.9 389.8,68.3 389.2,70.1 388.7,71.3 388.1,72.7 387.6,73.9 387,75.8 386.5,77.3 385.9,79.1 385.4,80.4 384.8,82.3 384.3,84 383.7,85.8 383.2,86.8 382.6,88.4 382.1,89.7 381.5,91.5 381,92.7 380.4,94.2 379.9,95.6 379.3,97.7 378.8,99.3 378.2,101 377.7,102.2 377.1,104 376.6,105.4 376,107 375.5,107.9 374.9,109.5 374.4,111 373.8,112.8 373.3,114.2 372.7,115.8 372.2,117.3 371.6,119.2 371.1,120.5 370.5,121.8 370,122.9 369.4,124.5 368.9,125.9 368.3,127.3 367.8,128.8 367.2,131 366.7,133.3 366.1,135.7 365.6,137.6 365,139.7 364.4,141.8 363.9,144.1 363.3,146.2 362.8,148.2 362.2,150.4 361.7,152.9 361.1,155.4 360.6,157.7 360,159.9 359.5,162.3 358.9,164.8 358.4,167.4 357.8,170.1 357.3,172.8 356.7,176.1 356.2,179.6 355.6,183 355.1,186.2 354.5,189.8 354,193.5 353.4,197.2 352.9,199.9 352.3,202.3 351.8,205.5 351.2,208.8 350.7,211.1 350.1,213.4 349.6,215.6 349,218.3 348.5,220.7 347.9,223.4 347.4,225.8 346.8,228.8 346.3,231.4 345.7,234 345.2,235.8 344.6,238 344.1,240.1 343.5,242.5 343,244.1 342.4,245.9 341.9,247.3 341.3,249.2 340.8,250.4 340.2,251.7 339.7,252.8 339.1,254.7 338.6,256.2 338,258 337.4,259.3 336.9,261.4 336.3,263.4 335.8,265.7 335.2,267.4 334.7,269.2 334.1,270.7 333.6,272.7 333,274 332.5,275.6 331.9,276.9 331.4,279 330.8,280.8 330.3,282.7 329.7,284.2 329.2,286.2 328.6,288 328.1,289.8 327.5,291.1 327,292.7 326.4,294.3 325.9,296.3 325.3,297.8 324.8,299.7 324.2,301.4 323.7,303.7 323.1,305.5 322.6,307.3 322,308.7 321.5,310.6 320.9,312.3 320.4,314 319.8,315.4 319.3,317.2 318.7,319.1 318.2,321.2 317.6,322.9 317.1,324.7 316.5,326.5 316,328.5 315.4,330.2 314.9,331.7 314.3,333.2 313.8,335.1 313.2,337 312.7,338.7 312.1,340.3 311.5,341.9 311,343.6 310.4,345 309.9,346.1 309.3,347 308.8,348.2 308.2,349.4 307.7,350.5 307.1,351.3 306.6,352.5 306,353.8 305.5,355.2 304.9,356.1 304.4,357 303.8,357.8 303.3,358.9 302.7,359.5 302.2,360.1 301.6,360.5 301.1,361.6 300.5,362.3 300,363.3 299.4,363.7 298.9,364.7 298.3,365.4 297.8,366.2 297.2,366.3 296.7,366.8 296.1,367.1 295.6,367.9 295,368.2 294.5,368.8 293.9,369.1 293.4,370.1 292.8,370.6 292.3,371.2 291.7,371.2 291.2,371.8 290.6,372 290.1,372.5 289.5,372.3 289,372.8 288.4,373.2 287.9,374 287.3,374.2 286.8,374.6 286.2,374.7 285.7,375.4 285.1,375.4 284.5,375.5 284,375.2 283.4,375.7 282.9,375.9 282.3,376.3 281.8,376.3 281.2,376.8 280.7,377.1 280.1,377.7 279.6,377.5 279,377.6 278.5,377.6 277.9,377.9 277.4,377.9 276.8,377.9 276.3,378 275.7,378.5 275.2,378.9 274.6,379.2 274.1,379.1 273.5,379.3 273,379.5 272.4,379.6 271.9,379.3 271.3,379.3 270.8,379.4 270.2,379.8 269.7,380 269.1,380 268.6,380.2 268,380.6 267.5,380.8 266.9,380.6 266.4,380.4 265.8,380.4 265.3,380.6 264.7,380.6 264.2,380.6 263.6,380.7 263.1,381.1 262.5,381.4 262,381.5 261.4,381.3 260.9,381.4 260.3,381.5 259.8,381.5 259.2,381.2 258.6,381.2 258.1,381.3 257.5,381.8 257,381.8 256.4,381.9 255.9,381.9 255.3,382.3 254.8,382.2 254.2,382.1 253.7,381.7 253.1,381.9 252.6,381.9 252,382.1 251.5,381.9 250.9,382.2 250.4,382.3 249.8,382.8 249.3,382.5 248.7,382.5 248.2,382.2 247.6,382.5 247.1,382.3 246.5,382.3 246,382 245.4,382.5 244.9,382.6 244.3,382.9 243.8,382.7 243.2,382.9 242.7,382.9 242.1,383.1 241.6,382.6 241,382.5 240.5,382.4 239.9,382.8 239.4,382.7 238.8,382.9 238.3,382.8 237.7,383.3 237.2,383.3 236.6,383.3 236.1,382.9 235.5,383 235,382.9 234.4,383 233.9,382.7 233.3,382.9 232.7,383.1 232.2,383.6 231.6,383.5 231.1,383.4 230.5,383.3 230,383.5 229.4,383.3 228.9,383.1 228.3,382.9 227.8,383.1 227.2,383.3 226.7,383.5 226.1,383.4 225.6,383.5 225,383.7 224.5,383.8 223.9,383.6 223.4,383.3 222.8,383.2 222.3,383.4 221.7,383.4 221.2,383.3 220.6,383.4 220.1,383.6 219.5,384 219,383.9 218.4,383.7 217.9,383.5 217.3,383.7 216.8,383.5 216.2,383.4 215.7,383.1 215.1,383.5 214.6,383.7 214,383.9 213.5,383.7 212.9,383.9 212.4,383.9 211.8,384.1 211.3,383.6 210.7,383.5 210.2,383.3 209.6,383.7 209.1,383.6 208.5,383.7 208,383.6 207.4,384.1 206.9,384.1 206.3,384.2 205.7,383.7 205.2,383.8 204.6,383.6 204.1,383.8 203.5,383.4 203,383.6 202.4,383.6 201.9,384.2 201.3,384 200.8,384.1 200.2,383.9 199.7,384.2 199.1,383.9 198.6,383.9 198,383.4 197.5,383.7 196.9,383.7 196.4,384.1 195.8,383.8 195.3,384.1 194.7,384.1 194.2,384.5 193.6,384.1 193.1,383.9 192.5,383.6 192,383.9 191.4,383.8 190.9,383.8 190.3,383.6 189.8,384.1 189.2,384.3 188.7,384.4 188.1,384.1 187.6,384.1 187,384 186.5,384.1 185.9,383.7 185.4,383.7 184.8,383.7 184.3,384.1 183.7,384.2 183.2,384.2 182.6,384.1 182.1,384.4 181.5,384.4 181,384.2 180.4,383.8 179.8,383.8 179.3,383.9 178.7,384 178.2,383.9 177.6,384 177.1,384.3 176.5,384.5 176,384.4 175.4,384.1 174.9,384 174.3,384 173.8,384.1 173.2,383.8 172.7,383.7 172.1,383.9 171.6,384.3 171,384.3 170.5,384.3 169.9,384.2 169.4,384.4 168.8,384.3 168.3,384.1 167.7,383.7 167.2,383.8 166.6,383.9 166.1,384.2 165.5,384 165,384.2 164.4,384.3 163.9,384.6 163.3,384.3 162.8,384.1 162.2,383.8 161.7,384.1 161.1,383.9 160.6,383.9 160,383.7 159.5,384.2 158.9,384.3 158.4,384.6 157.8,384.2 157.3,384.3 156.7,384.1 156.2,384.3 155.6,383.8 155.1,383.8 154.5,383.7 154,384.2 153.4,384.1 152.8,384.3 152.3,384.1 151.7,384.5 151.2,384.4 150.6,384.4 150.1,383.8 149.5,383.9 149,383.8 148.4,384.1 147.9,383.8 147.3,384 146.8,384.1 146.2,384.6 145.7,384.4 145.1,384.3 144.6,384 144,384.2 143.5,384 142.9,383.9 142.4,383.6 141.8,383.9 141.3,384.1 140.7,384.4 140.2,384.2 139.6,384.3 139.1,384.3 138.5,384.4 138,384.1 137.4,383.8 136.9,383.7 136.3,384 135.8,384 135.2,384 134.7,384 134.1,384.3 133.6,384.5 133,384.4 132.5,384.1 131.9,383.9 131.4,384 130.8,384 130.3,383.8 129.7,383.7 129.2,384 128.6,384.3 128.1,384.5 127.5,384.3 126.9,384.2 126.4,384.2 125.8,384.3 125.3,383.9 124.7,383.8 124.2,383.7 123.6,384.1 123.1,384.1 122.5,384.2 122,384.1 121.4,384.4 120.9,384.4 120.3,384.4 119.8,383.9 119.2,383.9 118.7,383.8 118.1,384.1 117.6,383.8 117,384 116.5,384 115.9,384.5 115.4,384.4 114.8,384.4 114.3,384 113.7,384.2 113.2,384 112.6,384 112.1,383.6 111.5,383.9 111,384 110.4,384.4 109.9,384.1 109.3,384.3 108.8,384.2 108.2,384.5 107.7,384.1 107.1,383.9 106.6,383.6 106,384 105.5,383.9 104.9,384.1 104.4,383.9 103.8,384.3" fill="none" stroke="#808000" stroke-width="3.6" stroke-linejoin="round" stroke-linecap="butt" />
<polyline points="103.8,383.1 104.4,382.8 104.9,383 105.5,382.9 106,382.8 106.6,382.6 107.1,382.9 107.7,383.2 108.2,383.4 108.8,383.2 109.3,383.1 109.9,383.1 110.4,383.2 111,382.9 111.5,382.7 112.1,382.6 112.6,382.9 113.2,383.1 113.7,383 114.3,383 114.8,383.2 115.4,383.4 115.9,383.3 116.5,383 117,382.7 117.6,382.9 118.1,382.9 118.7,382.8 119.2,382.7 119.8,383 120.3,383.3 120.9,383.5 121.4,383.1 122,383.1 122.5,383 123.1,383.1 123.6,382.8 124.2,382.7 124.7,382.6 125.3,383.1 125.8,383.1 126.4,383.2 126.9,383 127.5,383.3 128.1,383.3 128.6,383.2 129.2,382.7 129.7,382.8 130.3,382.7 130.8,383 131.4,382.8 131.9,383 132.5,383 133,383.5 133.6,383.3 134.1,383.2 134.7,382.8 135.2,383 135.8,382.9 136.3,382.9 136.9,382.5 137.4,382.9 138,383 138.5,383.4 139.1,383.1 139.6,383.2 140.2,383.1 140.7,383.3 141.3,382.9 141.8,382.8 142.4,382.5 142.9,382.9 143.5,382.9 144,383.1 144.6,382.9 145.1,383.3 145.7,383.3 146.2,383.4 146.8,382.9 147.3,382.9 147.9,382.8 148.4,383 149,382.7 149.5,382.8 150.1,382.8 150.6,383.3 151.2,383.3 151.7,383.3 152.3,383 152.8,383.1 153.4,383.1 154,382.9 154.5,382.6 155.1,382.7 155.6,382.9 156.2,383.2 156.7,383.1 157.3,383.1 157.8,383.2 158.4,383.4 158.9,383.2 159.5,382.9 160,382.7 160.6,382.8 161.1,382.9 161.7,382.8 162.2,382.9 162.8,383 163.3,383.4 163.9,383.4 164.4,383.2 165,382.9 165.5,383 166.1,382.9 166.6,382.9 167.2,382.6 167.7,382.8 168.3,383 168.8,383.3 169.4,383.1 169.9,383.2 170.5,383.1 171,383.4 171.6,383 172.1,382.8 172.7,382.5 173.2,382.9 173.8,382.9 174.3,383.1 174.9,382.9 175.4,383.2 176,383.3 176.5,383.5 177.1,383 177.6,382.9 178.2,382.7 178.7,383 179.3,382.7 179.8,382.8 180.4,382.7 181,383.3 181.5,383.2 182.1,383.3 182.6,383 183.2,383.2 183.7,383 184.3,383 184.8,382.5 185.4,382.7 185.9,382.7 186.5,383.1 187,382.9 187.6,383.1 188.1,383 188.7,383.4 189.2,383.1 189.8,383 190.3,382.6 190.9,382.8 191.4,382.7 192,382.8 192.5,382.6 193.1,382.9 193.6,383.1 194.2,383.4 194.7,383.1 195.3,383 195.8,382.8 196.4,383 196.9,382.7 197.5,382.5 198,382.5 198.6,382.9 199.1,383 199.7,383.1 200.2,382.9 200.8,383.1 201.3,383.1 201.9,383 202.4,382.6 203,382.5 203.5,382.6 204.1,382.8 204.6,382.8 205.2,382.7 205.7,382.9 206.3,383.1 206.9,383.2 207.4,382.9 208,382.7 208.5,382.6 209.1,382.7 209.6,382.5 210.2,382.4 210.7,382.5 211.3,382.9 211.8,383 212.4,383 212.9,382.8 213.5,382.9 214,382.8 214.6,382.8 215.1,382.3 215.7,382.4 216.2,382.4 216.8,382.8 217.3,382.6 217.9,382.8 218.4,382.7 219,383.1 219.5,382.9 220.1,382.8 220.6,382.3 221.2,382.5 221.7,382.4 222.3,382.5 222.8,382.2 223.4,382.6 223.9,382.7 224.5,383.1 225,382.7 225.6,382.7 226.1,382.5 226.7,382.7 227.2,382.3 227.8,382.2 228.3,382 228.9,382.5 229.4,382.5 230,382.8 230.5,382.5 231.1,382.8 231.6,382.7 232.2,382.8 232.7,382.3 233.3,382.2 233.9,382.1 234.4,382.5 235,382.3 235.5,382.4 236.1,382.4 236.6,382.8 237.2,382.8 237.7,382.7 238.3,382.3 238.8,382.4 239.4,382.3 239.9,382.3 240.5,382 241,382.1 241.6,382.3 242.1,382.7 242.7,382.5 243.2,382.5 243.8,382.4 244.3,382.6 244.9,382.4 245.4,382.1 246,381.8 246.5,382 247.1,382.2 247.6,382.3 248.2,382.2 248.7,382.3 249.3,382.6 249.8,382.6 250.4,382.3 250.9,382 251.5,381.9 252,382 252.6,382 253.1,381.8 253.7,381.9 254.2,382.2 254.8,382.4 255.3,382.2 255.9,382.1 256.4,381.9 257,382.1 257.5,381.8 258.1,381.6 258.6,381.3 259.2,381.6 259.8,381.7 260.3,381.9 260.9,381.6 261.4,381.8 262,381.8 262.5,381.9 263.1,381.3 263.6,381.2 264.2,381 264.7,381.3 265.3,381 265.8,381.1 266.4,381 266.9,381.4 267.5,381.3 268,381.3 268.6,380.8 269.1,380.9 269.7,380.6 270.2,380.7 270.8,380.1 271.3,380.3 271.9,380.3 272.4,380.7 273,380.4 273.5,380.4 274.1,380.1 274.6,380.4 275.2,379.9 275.7,379.7 276.3,379.2 276.8,379.4 277.4,379.3 277.9,379.4 278.5,379 279,379.2 279.6,379.1 280.1,379.3 280.7,378.7 281.2,378.4 281.8,378 282.3,378.1 282.9,377.7 283.4,377.6 284,377.3 284.5,377.6 285.1,377.6 285.7,377.5 286.2,377 286.8,376.9 287.3,376.7 287.9,376.4 288.4,375.8 289,375.5 289.5,375.4 290.1,375.5 290.6,375.2 291.2,375 291.7,374.7 292.3,374.7 292.8,374.4 293.4,373.8 293.9,373.2 294.5,372.9 295,372.7 295.6,372.4 296.1,372 296.7,371.8 297.2,371.8 297.8,371.6 298.3,371.2 298.9,370.5 299.4,370.1 300,369.7 300.5,369.3 301.1,368.5 301.6,368.1 302.2,367.8 302.7,367.7 303.3,367.2 303.8,366.7 304.4,366.1 304.9,365.9 305.5,365.2 306,364.4 306.6,363.4 307.1,363 307.7,362.5 308.2,362 308.8,361.1 309.3,360.7 309.9,360.1 310.4,359.6 311,358.4 311.5,357.5 312.1,356.3 312.7,355.4 313.2,354 313.8,352.6 314.3,351 314.9,350 315.4,348.5 316,347.1 316.5,345 317.1,343.5 317.6,341.7 318.2,340.2 318.7,338 319.3,336.3 319.8,334.4 320.4,333.1 320.9,331.1 321.5,329.4 322,327.4 322.6,325.9 323.1,323.9 323.7,321.8 324.2,319.4 324.8,317.6 325.3,315.6 325.9,313.8 326.4,311.6 327,310 327.5,308.3 328.1,306.8 328.6,304.7 329.2,302.8 329.7,300.7 330.3,299 330.8,296.9 331.4,294.9 331.9,292.8 332.5,291.2 333,289.6 333.6,287.9 334.1,285.8 334.7,284.1 335.2,282.4 335.8,280.7 336.3,278.6 336.9,276.6 337.4,274.7 338,273.1 338.6,271.2 339.1,269.2 339.7,267.3 340.2,265.7 340.8,264.1 341.3,262.1 341.9,260 342.4,258 343,256.3 343.5,254 344.1,251 344.6,247.2 345.2,241.8 345.7,233.7 346.3,224.8 346.8,216.6 347.4,210.3 347.9,204.3 348.5,199.2 349,194.6 349.6,191 350.1,188.3 350.7,186.5 351.2,184.4 351.8,182.2 352.3,179.5 352.9,177.4 353.4,174.9 354,172.6 354.5,169.8 355.1,167.8 355.6,165.5 356.2,163.7 356.7,161.3 357.3,159.5 357.8,157.5 358.4,156 358.9,153.6 359.5,151.3 360,148.6 360.6,146.6 361.1,144.2 361.7,142.1 362.2,139.8 362.8,138.2 363.3,136.3 363.9,134.6 364.4,132.4 365,130.6 365.6,128.5 366.1,126.9 366.7,124.8 367.2,123.1 367.8,121.4 368.3,120.1 368.9,118.2 369.4,116.5 370,114.5 370.5,113.1 371.1,111.4 371.6,109.6 372.2,107.3 372.7,105.6 373.3,103.6 373.8,101.9 374.4,99.7 374.9,97.9 375.5,96.2 376,94.8 376.6,92.9 377.1,91.1 377.7,89.1 378.2,87.4 378.8,85.4 379.3,83.3 379.9,81 380.4,79.2 381,77.5 381.5,75.8 382.1,73.8 382.6,72.2 383.2,70.6 383.7,69.1 384.3,67.3 384.8,65.3 385.4,63.5 385.9,62 386.5,60.3 387,58.5 387.6,56.9 388.1,55.6 388.7,54.5 389.2,53.1 389.8,51.7 390.3,50.4 390.9,49.5 391.5,48.4 392,47.4 392.6,46.2 393.1,45.7 393.7,45.1 394.2,44.6 394.8,43.8 395.3,43.3 395.9,42.7 396.4,42.4 397,41.4 397.5,40.7 398.1,39.9 398.6,39.7 399.2,39.1 399.7,38.6 400.3,38 400.8,38 401.4,37.7 401.9,37.4 402.5,36.5 403,36.2 403.6,35.6 404.1,35.4 404.7,34.6 405.2,34.3 405.8,33.9 406.3,34.1 406.9,33.7 407.4,33.5 408,32.9 408.5,33 409.1,32.5 409.6,32.1 410.2,31.3 410.7,31.2 411.3,30.9 411.8,31 412.4,30.4 412.9,30.4 413.5,30.2 414,30.4 414.6,29.9 415.1,29.5 415.7,29 416.2,29 416.8,28.6 417.3,28.5 417.9,28 418.5,28.3 419,28.3 419.6,28.4 420.1,27.9 420.7,27.8 421.2,27.6 421.8,27.6 422.3,27 422.9,26.7 423.4,26.5 424,26.7 424.5,26.6 425.1,26.6 425.6,26.4 426.2,26.5 426.7,26.5 427.3,26.2 427.8,25.7 428.4,25.5 428.9,25.4 429.5,25.4 430,25.1 430.6,25 431.1,25.1 431.7,25.4 432.2,25.3 432.8,25 433.3,24.7 433.9,24.7 434.4,24.6 435,24.2 435.5,24 436.1,23.9 436.6,24.3 437.2,24.3 437.7,24.2 438.3,24 438.8,24.2 439.4,24.1 439.9,23.9 440.5,23.3 441,23.3 441.6,23.3 442.1,23.4 442.7,23.2 443.2,23.3 443.8,23.3 444.4,23.7 444.9,23.4 445.5,23.2 446,22.8 446.6,23 447.1,22.7 447.7,22.7 448.2,22.3 448.8,22.7 449.3,22.8 449.9,23.1 450.4,22.7 451,22.8 451.5,22.6 452.1,22.8 452.6,22.3 453.2,22.2 453.7,21.9 454.3,22.3 454.8,22.2 455.4,22.4 455.9,22.1 456.5,22.5 457,22.5 457.6,22.5 458.1,21.9 458.7,21.9 459.2,21.7 459.8,22 460.3,21.6 460.9,21.7 461.4,21.7 462,22.2 462.5,22.1 463.1,22 463.6,21.7 464.2,21.9 464.7,21.7 465.3,21.6 465.8,21.1 466.4,21.3 466.9,21.4 467.5,21.7 468,21.5 468.6,21.6 469.1,21.6 469.7,21.8 470.3,21.5 470.8,21.2 471.4,20.9 471.9,21.1 472.5,21.1 473,21.1 473.6,21 474.1,21.3 474.7,21.5 475.2,21.5 475.8,21.2 476.3,21 476.9,21.1 477.4,21 478,20.9 478.5,20.6 479.1,20.8 479.6,21.1 480.2,21.3 480.7,21.2 481.3,21.2 481.8,21.2 482.4,21.3 482.9,21 483.5,20.7 484,20.5 484.6,20.8 485.1,20.9 485.7,21 486.2,20.8 486.8,21.2 487.3,21.3 487.9,21.3 488.4,20.9 489,20.8 489.5,20.7 490.1,20.9 490.6,20.6 491.2,20.6 491.7,20.6 492.3,21.2 492.8,21.1 493.4,21.2 493.9,20.8 494.5,21.1 495,20.9 495.6,20.8 496.1,20.3 496.7,20.5 497.3,20.6 497.8,21 498.4,20.8 498.9,21 499.5,20.9 500,21.3 500.6,20.9 501.1,20.8 501.7,20.4 502.2,20.7 502.8,20.6 503.3,20.7 503.9,20.4 504.4,20.8 505,21 505.5,21.2 506.1,20.8 506.6,20.8 507.2,20.6 507.7,20.8 508.3,20.4 508.8,20.4 509.4,20.3 509.9,20.8 510.5,20.8 511,20.9 511.6,20.7 512.1,21 512.7,20.9 513.2,20.9 513.8,20.4 514.3,20.3 514.9,20.4 515.4,20.7 516,20.5 516.5,20.6 517.1,20.7 517.6,21.1 518.2,21 518.7,20.8 519.3,20.5 519.8,20.5 520.4,20.6 520.9,20.4 521.5,20.3 522,20.4 522.6,20.8 523.2,21 523.7,20.9 524.3,20.7 524.8,20.8 525.4,20.8 525.9,20.6 526.5,20.2 527,20.2 527.6,20.4 528.1,20.7 528.7,20.6 529.2,20.7 529.8,20.7 530.3,21.1 530.9,20.9 531.4,20.6 532,20.3 532.5,20.5 533.1,20.4 533.6,20.5 534.2,20.3 534.7,20.6 535.3,20.8 535.8,21.1 536.4,20.7 536.9,20.7 537.5,20.6 538,20.8 538.6,20.4 539.1,20.3 539.7,20.1 540.2,20.6 540.8,20.7 541.3,20.9 541.9,20.6 542.4,20.9 543,20.8 543.5,20.9 544.1,20.3 544.6,20.4 545.2,20.3 545.7,20.6 546.3,20.4 546.8,20.6 547.4,20.6 547.9,21.1 548.5,20.9 549,20.9 549.6,20.4 550.2,20.6 550.7,20.5 551.3,20.5 551.8,20.1 552.4,20.4 552.9,20.6 553.5,21 554,20.8 554.6,20.8 555.1,20.7 555.7,20.9 556.2,20.6 556.8,20.4 557.3,20.1 557.9,20.5 558.4,20.5 559,20.7 559.5,20.5 560.1,20.8 560.6,21 561.2,21 561.7,20.6 562.3,20.4 562.8,20.4 563.4,20.5 563.9,20.4 564.5,20.3 565,20.4 565.6,20.8 566.1,21 566.7,20.9 567.2,20.7 567.8,20.7 568.3,20.7 568.9,20.5 569.4,20.3 570,20.2 570.5,20.5 571.1,20.7 571.6,20.8 572.2,20.6 572.7,20.8 573.3,20.9 573.8,20.9 574.4,20.5 574.9,20.3 575.5,20.3 576.1,20.6 576.6,20.4 577.2,20.5 577.7,20.5 578.3,21 578.8,21 579.4,20.9 579.9,20.5 580.5,20.6 581,20.5 581.6,20.5 582.1,20.1 582.7,20.4 583.2,20.5 583.8,21 584.3,20.7 584.9,20.8 585.4,20.7 586,21 586.5,20.6 587.1,20.5 587.6,20.1 588.2,20.5 588.7,20.5 589.3,20.7 589.8,20.4 590.4,20.8 590.9,20.9 591.5,21.1 592,20.6 592.6,20.6 593.1,20.3 593.7,20.6 594.2,20.3 594.8,20.4 595.3,20.3 595.9,20.8 596.4,20.9 597,21 597.5,20.6 598.1,20.8 598.6,20.7 599.2,20.7 599.2,20.2 598.6,20.7 598.1,20.6 597.5,20.8 597,20.6 596.4,21 595.9,20.9 595.3,20.9 594.8,20.4 594.2,20.4 593.7,20.4 593.1,20.6 592.6,20.4 592,20.5 591.5,20.6 590.9,21 590.4,20.9 589.8,20.8 589.3,20.5 588.7,20.7 588.2,20.6 587.6,20.4 587.1,20.2 586.5,20.4 586,20.7 585.4,20.9 584.9,20.8 584.3,20.7 583.8,20.8 583.2,20.9 582.7,20.7 582.1,20.3 581.6,20.3 581,20.4 580.5,20.6 579.9,20.5 579.4,20.6 578.8,20.8 578.3,21.1 577.7,20.9 577.2,20.7 576.6,20.4 576.1,20.6 575.5,20.5 574.9,20.4 574.4,20.2 573.8,20.5 573.3,20.8 572.7,21 572.2,20.7 571.6,20.8 571.1,20.7 570.5,20.9 570,20.4 569.4,20.3 568.9,20.1 568.3,20.6 567.8,20.6 567.2,20.8 566.7,20.6 566.1,21 565.6,20.9 565,21 564.5,20.4 563.9,20.4 563.4,20.3 562.8,20.6 562.3,20.3 561.7,20.5 561.2,20.5 560.6,21 560.1,20.9 559.5,20.9 559,20.5 558.4,20.8 557.9,20.5 557.3,20.5 556.8,20.1 556.2,20.4 555.7,20.5 555.1,20.9 554.6,20.7 554,20.8 553.5,20.8 552.9,21 552.4,20.6 551.8,20.5 551.3,20.2 550.7,20.5 550.2,20.5 549.6,20.6 549,20.4 548.5,20.8 547.9,20.9 547.4,21.1 546.8,20.6 546.3,20.6 545.7,20.5 545.2,20.6 544.6,20.3 544.1,20.3 543.5,20.4 543,20.8 542.4,20.9 541.9,20.8 541.3,20.7 540.8,20.8 540.2,20.8 539.7,20.6 539.1,20.3 538.6,20.2 538,20.4 537.5,20.6 536.9,20.6 536.4,20.6 535.8,20.8 535.3,21 534.7,20.9 534.2,20.6 533.6,20.4 533.1,20.4 532.5,20.5 532,20.4 531.4,20.4 530.9,20.5 530.3,20.9 529.8,20.9 529.2,20.9 528.7,20.6 528.1,20.8 527.6,20.6 527,20.6 526.5,20.1 525.9,20.3 525.4,20.5 524.8,20.9 524.3,20.7 523.7,20.8 523.2,20.8 522.6,21.1 522,20.7 521.5,20.6 520.9,20.2 520.4,20.5 519.8,20.5 519.3,20.6 518.7,20.4 518.2,20.8 517.6,20.9 517.1,21.2 516.5,20.7 516,20.7 515.4,20.5 514.9,20.8 514.3,20.4 513.8,20.4 513.2,20.3 512.7,20.9 512.1,20.9 511.6,21 511,20.7 510.5,21 509.9,20.9 509.4,20.9 508.8,20.3 508.3,20.4 507.7,20.4 507.2,20.8 506.6,20.6 506.1,20.8 505.5,20.8 505,21.2 504.4,21 503.9,20.9 503.3,20.5 502.8,20.7 502.2,20.6 501.7,20.6 501.1,20.4 500.6,20.7 500,20.9 499.5,21.2 498.9,21 498.4,20.9 497.8,20.9 497.3,21 496.7,20.7 496.1,20.5 495.6,20.4 495,20.7 494.5,20.9 493.9,21 493.4,20.9 492.8,21.1 492.3,21.2 491.7,21.1 491.2,20.8 490.6,20.6 490.1,20.7 489.5,20.8 489,20.8 488.4,20.7 487.9,20.9 487.3,21.2 486.8,21.4 486.2,21.1 485.7,21 485.1,20.9 484.6,21 484,20.7 483.5,20.7 482.9,20.6 482.4,21 481.8,21.2 481.3,21.3 480.7,21 480.2,21.3 479.6,21.2 479.1,21.3 478.5,20.7 478,20.8 477.4,20.7 476.9,21.1 476.3,20.9 475.8,21.1 475.2,21.1 474.7,21.6 474.1,21.5 473.6,21.4 473,21 472.5,21.2 471.9,21.1 471.4,21.2 470.8,20.9 470.3,21.2 469.7,21.4 469.1,21.9 468.6,21.6 468,21.7 467.5,21.5 466.9,21.8 466.4,21.5 465.8,21.4 465.3,21.1 464.7,21.6 464.2,21.6 463.6,21.9 463.1,21.7 462.5,22.1 462,22.1 461.4,22.3 460.9,21.8 460.3,21.8 459.8,21.7 459.2,22 458.7,21.8 458.1,21.9 457.6,21.9 457,22.5 456.5,22.5 455.9,22.5 455.4,22.2 454.8,22.4 454.3,22.3 453.7,22.3 453.2,22 452.6,22.1 452.1,22.4 451.5,22.7 451,22.7 450.4,22.7 449.9,22.8 449.3,23 448.8,22.9 448.2,22.7 447.7,22.5 447.1,22.6 446.6,22.9 446,22.9 445.5,22.9 444.9,23.1 444.4,23.5 443.8,23.6 443.2,23.5 442.7,23.3 442.1,23.4 441.6,23.4 441,23.5 440.5,23.2 439.9,23.5 439.4,23.8 438.8,24.2 438.3,24.1 437.7,24.2 437.2,24.2 436.6,24.5 436.1,24.3 435.5,24.2 435,24 434.4,24.4 433.9,24.5 433.3,24.8 432.8,24.7 432.2,25.1 431.7,25.3 431.1,25.6 430.6,25.2 430,25.2 429.5,25.1 428.9,25.6 428.4,25.4 427.8,25.6 427.3,25.7 426.7,26.4 426.2,26.5 425.6,26.8 425.1,26.5 424.5,26.8 424,26.8 423.4,27 422.9,26.6 422.3,26.9 421.8,27.1 421.2,27.7 420.7,27.7 420.1,28 419.6,28 419,28.6 418.5,28.5 417.9,28.5 417.3,28.2 416.8,28.7 416.2,28.8 415.7,29.2 415.1,29.2 414.6,29.7 414,30.1 413.5,30.7 412.9,30.6 412.4,30.7 411.8,30.8 411.3,31.2 410.7,31.3 410.2,31.4 409.6,31.6 409.1,32.3 408.5,32.8 408,33.2 407.4,33.3 406.9,33.7 406.3,34.1 405.8,34.4 405.2,34.4 404.7,34.6 404.1,35 403.6,35.7 403,36.1 402.5,36.5 401.9,37 401.4,37.7 400.8,38.2 400.3,38.4 399.7,38.6 399.2,39 398.6,39.7 398.1,40.1 397.5,40.5 397,41.1 396.4,42.1 395.9,42.8 395.3,43.5 394.8,43.8 394.2,44.6 393.7,45.3 393.1,46 392.6,46.3 392,47.2 391.5,48.1 390.9,49.4 390.3,50.3 389.8,51.6 389.2,52.8 388.7,54.5 388.1,55.8 387.6,57.1 387,58.2 386.5,60 385.9,61.6 385.4,63.4 384.8,64.8 384.3,66.7 383.7,68.4 383.2,70.5 382.6,71.9 382.1,73.7 381.5,75.2 381,77.3 380.4,78.8 379.9,80.6 379.3,82.2 378.8,84.6 378.2,86.6 377.7,88.7 377.1,90.2 376.6,92.3 376,94 375.5,96 374.9,97.2 374.4,99 373.8,100.7 373.3,102.9 372.7,104.5 372.2,106.5 371.6,108.2 371.1,110.5 370.5,112.2 370,114 369.4,115.3 368.9,117.3 368.3,119 367.8,120.2 367.2,120.7 366.7,122 366.1,123.5 365.6,125.6 365,127.7 364.4,130 363.9,132.3 363.3,135.1 362.8,137.5 362.2,139.9 361.7,142.2 361.1,145 360.6,148 360,151.1 359.5,154.2 358.9,157.7 358.4,161.5 357.8,165.4 357.3,169.5 356.7,174 356.2,179.2 355.6,185 355.1,191.1 354.5,196.9 354,203.1 353.4,209.6 352.9,213.8 352.3,217 351.8,219.7 351.2,222.4 350.7,225.4 350.1,227.9 349.6,230.5 349,232.9 348.5,235.9 347.9,238.8 347.4,241.7 346.8,244.1 346.3,246.9 345.7,249.5 345.2,252.1 344.6,254 344.1,256.1 343.5,258.2 343,260.7 342.4,262.5 341.9,264.4 341.3,266.1 340.8,268.3 340.2,270.1 339.7,272.1 339.1,273.5 338.6,275.5 338,277.2 337.4,279.2 336.9,280.6 336.3,282.5 335.8,284.3 335.2,286.6 334.7,288.1 334.1,289.9 333.6,291.5 333,293.6 332.5,295.1 331.9,296.7 331.4,298.1 330.8,300.1 330.3,302 329.7,304 329.2,305.6 328.6,307.6 328.1,309.4 327.5,311.5 327,312.8 326.4,314.5 325.9,316 325.3,318.1 324.8,319.8 324.2,321.7 323.7,323.4 323.1,325.7 322.6,327.7 322,329.6 321.5,331.1 320.9,332.9 320.4,334.6 319.8,336.3 319.3,337.6 318.7,339.1 318.2,340.8 317.6,342.7 317.1,344.4 316.5,346 316,347.5 315.4,349.3 314.9,350.7 314.3,351.9 313.8,352.9 313.2,354.1 312.7,355.4 312.1,356.5 311.5,357.3 311,358.2 310.4,359.3 309.9,360.3 309.3,360.9 308.8,361.3 308.2,361.9 307.7,362.6 307.1,363.2 306.6,363.5 306,364.1 305.5,364.8 304.9,365.8 304.4,366.3 303.8,366.7 303.3,367.1 302.7,367.8 302.2,368.1 301.6,368.4 301.1,368.4 300.5,369 300,369.5 299.4,370.2 298.9,370.3 298.3,371 297.8,371.4 297.2,372.1 296.7,372.1 296.1,372.3 295.6,372.3 295,372.9 294.5,373 293.9,373.3 293.4,373.4 292.8,374.1 292.3,374.5 291.7,375.1 291.2,374.9 290.6,375.3 290.1,375.4 289.5,375.8 289,375.6 288.4,375.8 287.9,375.9 287.3,376.7 286.8,376.8 286.2,377.1 285.7,377.1 285.1,377.7 284.5,377.8 284,377.9 283.4,377.5 282.9,377.8 282.3,377.9 281.8,378.3 281.2,378.2 280.7,378.5 280.1,378.8 279.6,379.4 279,379.3 278.5,379.3 277.9,379.2 277.4,379.5 276.8,379.4 276.3,379.5 275.7,379.3 275.2,379.7 274.6,380 274.1,380.4 273.5,380.3 273,380.4 272.4,380.6 271.9,380.8 271.3,380.5 270.8,380.3 270.2,380.3 269.7,380.6 269.1,380.8 268.6,380.8 268,380.9 267.5,381.2 266.9,381.5 266.4,381.4 265.8,381.2 265.3,381.1 264.7,381.2 264.2,381.2 263.6,381.1 263.1,381.1 262.5,381.4 262,381.8 261.4,382 260.9,381.8 260.3,381.8 259.8,381.8 259.2,381.9 258.6,381.6 258.1,381.5 257.5,381.5 257,381.9 256.4,381.9 255.9,382.1 255.3,382 254.8,382.4 254.2,382.4 253.7,382.3 253.1,381.9 252.6,381.9 252,381.9 251.5,382.1 250.9,381.8 250.4,382 249.8,382.1 249.3,382.7 248.7,382.5 248.2,382.5 247.6,382.1 247.1,382.4 246.5,382.2 246,382.2 245.4,381.8 244.9,382.1 244.3,382.3 243.8,382.6 243.2,382.4 242.7,382.6 242.1,382.5 241.6,382.8 241,382.3 240.5,382.2 239.9,381.9 239.4,382.3 238.8,382.2 238.3,382.4 237.7,382.2 237.2,382.7 236.6,382.8 236.1,382.9 235.5,382.4 235,382.4 234.4,382.3 233.9,382.5 233.3,382.1 232.7,382.2 232.2,382.2 231.6,382.7 231.1,382.7 230.5,382.7 230,382.5 229.4,382.8 228.9,382.6 228.3,382.5 227.8,382.1 227.2,382.2 226.7,382.4 226.1,382.6 225.6,382.5 225,382.6 224.5,382.8 223.9,383 223.4,382.8 222.8,382.5 222.3,382.4 221.7,382.5 221.2,382.5 220.6,382.4 220.1,382.4 219.5,382.6 219,383 218.4,383 217.9,382.9 217.3,382.7 216.8,382.8 216.2,382.7 215.7,382.6 215.1,382.2 214.6,382.4 214,382.6 213.5,382.9 212.9,382.8 212.4,382.9 211.8,382.9 211.3,383.2 210.7,382.8 210.2,382.6 209.6,382.4 209.1,382.7 208.5,382.6 208,382.7 207.4,382.5 206.9,383 206.3,383.1 205.7,383.3 205.2,382.8 204.6,382.8 204.1,382.7 203.5,382.9 203,382.5 202.4,382.5 201.9,382.5 201.3,383.1 200.8,383 200.2,383.2 199.7,382.9 199.1,383.2 198.6,383 198,383 197.5,382.5 196.9,382.6 196.4,382.6 195.8,383 195.3,382.8 194.7,383 194.2,383 193.6,383.4 193.1,383.1 192.5,383 192,382.6 191.4,382.9 190.9,382.7 190.3,382.8 189.8,382.5 189.2,382.9 188.7,383.1 188.1,383.4 187.6,383.1 187,383.1 186.5,383 185.9,383.2 185.4,382.8 184.8,382.6 184.3,382.5 183.7,382.9 183.2,383 182.6,383.1 182.1,383 181.5,383.3 181,383.3 180.4,383.3 179.8,382.8 179.3,382.7 178.7,382.8 178.2,382.9 177.6,382.8 177.1,382.8 176.5,383 176,383.4 175.4,383.4 174.9,383.2 174.3,383 173.8,383 173.2,383 172.7,382.8 172.1,382.6 171.6,382.7 171,383.1 170.5,383.2 169.9,383.2 169.4,383.1 168.8,383.3 168.3,383.3 167.7,383.1 167.2,382.7 166.6,382.7 166.1,382.7 165.5,383 165,382.9 164.4,383 163.9,383.1 163.3,383.5 162.8,383.3 162.2,383.2 161.7,382.8 161.1,383 160.6,382.8 160,382.9 159.5,382.6 158.9,382.9 158.4,383.1 157.8,383.5 157.3,383.1 156.7,383.2 156.2,383 155.6,383.3 155.1,382.9 154.5,382.8 154,382.5 153.4,383 152.8,383 152.3,383.2 151.7,382.9 151.2,383.3 150.6,383.3 150.1,383.4 149.5,382.8 149,382.8 148.4,382.7 147.9,383 147.3,382.7 146.8,382.9 146.2,382.9 145.7,383.4 145.1,383.3 144.6,383.3 144,382.9 143.5,383.1 142.9,383 142.4,382.9 141.8,382.5 141.3,382.7 140.7,382.9 140.2,383.3 139.6,383.1 139.1,383.2 138.5,383.2 138,383.4 137.4,383.1 136.9,382.9 136.3,382.6 135.8,382.8 135.2,382.9 134.7,383 134.1,382.8 133.6,383.1 133,383.4 132.5,383.4 131.9,383.1 131.4,382.9 130.8,382.9 130.3,383 129.7,382.8 129.2,382.6 128.6,382.8 128.1,383.1 127.5,383.3 126.9,383.2 126.4,383.1 125.8,383.1 125.3,383.3 124.7,383 124.2,382.7 123.6,382.6 123.1,382.9 122.5,383 122,383.1 121.4,382.9 120.9,383.2 120.3,383.3 119.8,383.4 119.2,383 118.7,382.9 118.1,382.7 117.6,383 117,382.7 116.5,382.8 115.9,382.8 115.4,383.3 114.8,383.3 114.3,383.3 113.7,383 113.2,383.2 112.6,383 112.1,383 111.5,382.5 111,382.7 110.4,382.8 109.9,383.3 109.3,383 108.8,383.2 108.2,383.1 107.7,383.5 107.1,383.1 106.6,383 106,382.6 105.5,382.9 104.9,382.8 104.4,383 103.8,382.7" fill="none" stroke="#ff0000" stroke-width="3.6" stroke-linejoin="round" stroke-linecap="butt" />
<polyline points="103.8,384.9 104.4,385.2 104.9,384.9 105.5,385 106,385 106.6,385.5 107.1,385.5 107.7,385.5 108.2,385.1 108.8,385.4 109.3,385.2 109.9,385.2 110.4,384.7 111,384.9 111.5,385 112.1,385.4 112.6,385.2 113.2,385.4 113.7,385.3 114.3,385.7 114.8,385.3 115.4,385.1 115.9,384.8 116.5,385.1 117,385 117.6,385.1 118.1,384.9 118.7,385.3 119.2,385.5 119.8,385.7 120.3,385.2 120.9,385.2 121.4,385.1 122,385.3 122.5,384.9 123.1,384.9 123.6,384.8 124.2,385.3 124.7,385.4 125.3,385.4 125.8,385.2 126.4,385.5 126.9,385.4 127.5,385.3 128.1,384.9 128.6,384.8 129.2,384.9 129.7,385.2 130.3,385.1 130.8,385.2 131.4,385.3 131.9,385.6 132.5,385.5 133,385.2 133.6,385 134.1,385.1 134.7,385.1 135.2,385 135.8,384.8 136.3,385 136.9,385.4 137.4,385.5 138,385.4 138.5,385.2 139.1,385.4 139.6,385.3 140.2,385.2 140.7,384.8 141.3,384.8 141.8,385 142.4,385.3 142.9,385.2 143.5,385.3 144,385.3 144.6,385.6 145.1,385.4 145.7,385.2 146.2,384.8 146.8,385.1 147.3,385 147.9,385.1 148.4,384.9 149,385.2 149.5,385.4 150.1,385.7 150.6,385.3 151.2,385.3 151.7,385.1 152.3,385.3 152.8,384.9 153.4,384.9 154,384.7 154.5,385.3 155.1,385.3 155.6,385.5 156.2,385.2 156.7,385.5 157.3,385.4 157.8,385.4 158.4,384.9 158.9,384.9 159.5,384.9 160,385.2 160.6,385 161.1,385.2 161.7,385.2 162.2,385.7 162.8,385.5 163.3,385.4 163.9,385 164.4,385.2 165,385 165.5,385.1 166.1,384.7 166.6,385 167.2,385.2 167.7,385.6 168.3,385.3 168.8,385.4 169.4,385.3 169.9,385.5 170.5,385.1 171,384.9 171.6,384.7 172.1,385.1 172.7,385.2 173.2,385.3 173.8,385.1 174.3,385.4 174.9,385.5 175.4,385.5 176,385.1 176.5,385 177.1,385 177.6,385.1 178.2,385 178.7,384.9 179.3,385 179.8,385.4 180.4,385.6 181,385.4 181.5,385.2 182.1,385.2 182.6,385.2 183.2,385 183.7,384.8 184.3,384.7 184.8,385.1 185.4,385.2 185.9,385.3 186.5,385.1 187,385.4 187.6,385.4 188.1,385.4 188.7,384.9 189.2,384.8 189.8,384.8 190.3,385.1 190.9,384.9 191.4,385 192,385 192.5,385.5 193.1,385.4 193.6,385.3 194.2,384.9 194.7,385 195.3,384.9 195.8,384.9 196.4,384.5 196.9,384.8 197.5,384.9 198,385.4 198.6,385.1 199.1,385.2 199.7,385 200.2,385.3 200.8,384.9 201.3,384.8 201.9,384.4 202.4,384.8 203,384.8 203.5,385 204.1,384.7 204.6,385.1 205.2,385.2 205.7,385.4 206.3,384.8 206.9,384.8 207.4,384.6 208,384.8 208.5,384.5 209.1,384.6 209.6,384.5 210.2,385.1 210.7,385.1 211.3,385.1 211.8,384.8 212.4,384.9 212.9,384.8 213.5,384.8 214,384.3 214.6,384.4 215.1,384.5 215.7,384.9 216.2,384.7 216.8,384.8 217.3,384.8 217.9,385.1 218.4,384.9 219,384.6 219.5,384.3 220.1,384.4 220.6,384.5 221.2,384.5 221.7,384.4 222.3,384.6 222.8,384.8 223.4,385 223.9,384.8 224.5,384.5 225,384.5 225.6,384.5 226.1,384.4 226.7,384.1 227.2,384.1 227.8,384.4 228.3,384.7 228.9,384.6 229.4,384.5 230,384.5 230.5,384.6 231.1,384.4 231.6,384.1 232.2,383.8 232.7,384 233.3,384 233.9,384.1 234.4,383.9 235,384.2 235.5,384.3 236.1,384.5 236.6,384 237.2,383.9 237.7,383.7 238.3,383.9 238.8,383.6 239.4,383.5 239.9,383.4 240.5,383.9 241,383.9 241.6,384 242.1,383.6 242.7,383.8 243.2,383.6 243.8,383.6 244.3,383 244.9,383.1 245.4,383 246,383.5 246.5,383.3 247.1,383.4 247.6,383.3 248.2,383.6 248.7,383.4 249.3,383.2 249.8,382.7 250.4,382.9 250.9,382.7 251.5,382.9 252,382.5 252.6,382.8 253.1,382.9 253.7,383.2 254.2,382.8 254.8,382.8 255.3,382.5 255.9,382.6 256.4,382.3 257,382.1 257.5,381.8 258.1,382.2 258.6,382.3 259.2,382.4 259.8,382.1 260.3,382.2 260.9,382.2 261.4,382.1 262,381.6 262.5,381.4 263.1,381.3 263.6,381.5 264.2,381.3 264.7,381.3 265.3,381.2 265.8,381.5 266.4,381.5 266.9,381.2 267.5,380.8 268,380.7 268.6,380.6 269.1,380.5 269.7,380.2 270.2,380.1 270.8,380.3 271.3,380.5 271.9,380.4 272.4,380.1 273,380 273.5,379.9 274.1,379.7 274.6,379.2 275.2,378.9 275.7,378.9 276.3,379.1 276.8,378.9 277.4,378.8 277.9,378.7 278.5,378.9 279,378.6 279.6,378.3 280.1,377.7 280.7,377.7 281.2,377.5 281.8,377.4 282.3,377 282.9,377 283.4,377 284,377.3 284.5,376.8 285.1,376.6 285.7,376.2 286.2,376.2 286.8,375.7 287.3,375.4 287.9,374.8 288.4,375 289,374.9 289.5,374.9 290.1,374.3 290.6,374.3 291.2,374 291.7,373.9 292.3,373 292.8,372.6 293.4,372.1 293.9,372.2 294.5,371.7 295,371.4 295.6,371 296.1,371.1 296.7,370.7 297.2,370.3 297.8,369.4 298.3,369.1 298.9,368.6 299.4,368.2 300,367.3 300.5,367 301.1,366.6 301.6,366.6 302.2,365.9 302.7,365.5 303.3,364.8 303.8,364.5 304.4,363.7 304.9,362.9 305.5,361.9 306,361.6 306.6,361 307.1,360.5 307.7,359.6 308.2,359.1 308.8,358.5 309.3,357.9 309.9,356.7 310.4,355.5 311,354.4 311.5,353.4 312.1,352.1 312.7,350.7 313.2,349.3 313.8,348.2 314.3,347 314.9,345.4 315.4,343.6 316,342 316.5,340.4 317.1,338.6 317.6,336.7 318.2,334.9 318.7,333.5 319.3,332.1 319.8,330.6 320.4,328.7 320.9,327.1 321.5,325.4 322,323.7 322.6,321.5 323.1,319.4 323.7,317.4 324.2,315.8 324.8,313.8 325.3,312 325.9,310.1 326.4,308.8 327,307 327.5,305.3 328.1,303.1 328.6,301.3 329.2,299.4 329.7,297.7 330.3,295.5 330.8,293.8 331.4,292.1 331.9,290.8 332.5,288.9 333,287.1 333.6,285.2 334.1,283.7 334.7,281.6 335.2,280.3 335.8,278.9 336.3,277.8 336.9,276.3 337.4,274.8 338,272.4 338.6,270 339.1,267.2 339.7,264.6 340.2,261.2 340.8,258.3 341.3,254.9 341.9,250.9 342.4,246.1 343,240.9 343.5,234.5 344.1,228.5 344.6,222.3 345.2,218.2 345.7,214.8 346.3,212.7 346.8,209.9 347.4,206.9 347.9,204.1 348.5,201.7 349,199 349.6,196.8 350.1,194.2 350.7,191.9 351.2,189.5 351.8,187.3 352.3,184.7 352.9,182 353.4,179.3 354,177.2 354.5,175.2 355.1,173.1 355.6,170.7 356.2,168.6 356.7,166.5 357.3,164.6 357.8,162.2 358.4,159.8 358.9,157.5 359.5,155.4 360,153.2 360.6,150.9 361.1,149 361.7,147.5 362.2,146.1 362.8,144.4 363.3,142.2 363.9,140.1 364.4,138.2 365,136.2 365.6,134 366.1,131.8 366.7,130 367.2,128.3 367.8,126.7 368.3,124.8 368.9,123.1 369.4,121.5 370,120 370.5,117.9 371.1,115.9 371.6,113.8 372.2,112.2 372.7,110.2 373.3,108.4 373.8,106.3 374.4,105 374.9,103.3 375.5,101.7 376,99.6 376.6,97.9 377.1,96 377.7,94.3 378.2,91.9 378.8,90 379.3,87.9 379.9,86.5 380.4,84.6 381,82.9 381.5,80.9 382.1,79.5 382.6,77.6 383.2,75.9 383.7,73.6 384.3,72.1 384.8,70.4 385.4,69 385.9,67 386.5,65.5 387,64 387.6,62.9 388.1,61 388.7,59.5 389.2,57.6 389.8,56.4 390.3,54.8 390.9,53.4 391.5,51.8 392,51 392.6,50.1 393.1,49.5 393.7,48.4 394.2,47.8 394.8,47 395.3,46.5 395.9,45.3 396.4,44.5 397,43.6 397.5,43.3 398.1,42.6 398.6,42.1 399.2,41.5 399.7,41.3 400.3,40.9 400.8,40.4 401.4,39.5 401.9,39 402.5,38.4 403,38 403.6,37.3 404.1,36.7 404.7,36.5 405.2,36.4 405.8,36.1 406.3,35.6 406.9,35.1 407.4,34.9 408,34.5 408.5,33.9 409.1,33.2 409.6,32.9 410.2,32.9 410.7,32.6 411.3,32.3 411.8,32 412.4,32 412.9,31.8 413.5,31.5 414,30.8 414.6,30.5 415.1,30.2 415.7,30.1 416.2,29.6 416.8,29.5 417.3,29.5 417.9,29.7 418.5,29.5 419,29.2 419.6,28.8 420.1,28.8 420.7,28.5 421.2,28.2 421.8,27.6 422.3,27.7 422.9,27.7 423.4,27.9 424,27.5 424.5,27.5 425.1,27.4 425.6,27.5 426.2,27 426.7,26.7 427.3,26.3 427.8,26.5 428.4,26.2 428.9,26.3 429.5,26 430,26.3 430.6,26.3 431.1,26.4 431.7,25.9 432.2,25.8 432.8,25.6 433.3,25.7 433.9,25.2 434.4,25.1 435,25 435.5,25.5 436.1,25.4 436.6,25.4 437.2,25.1 437.7,25.4 438.3,25.2 438.8,25 439.4,24.5 439.9,24.5 440.5,24.5 441,24.8 441.6,24.5 442.1,24.6 442.7,24.7 443.2,25 443.8,24.7 444.4,24.5 444.9,24.2 445.5,24.3 446,24.2 446.6,24 447.1,23.8 447.7,24.1 448.2,24.4 448.8,24.5 449.3,24.3 449.9,24.2 450.4,24.2 451,24.2 451.5,23.9 452.1,23.6 452.6,23.6 453.2,23.9 453.7,24 454.3,24 454.8,24 455.4,24.1 455.9,24.3 456.5,24 457,23.7 457.6,23.5 458.1,23.7 458.7,23.6 459.2,23.6 459.8,23.5 460.3,23.8 460.9,24 461.4,24.2 462,23.8 462.5,23.8 463.1,23.6 463.6,23.8 464.2,23.4 464.7,23.3 465.3,23.3 465.8,23.7 466.4,23.7 466.9,23.9 467.5,23.6 468,23.9 468.6,23.8 469.1,23.8 469.7,23.2 470.3,23.3 470.8,23.3 471.4,23.6 471.9,23.3 472.5,23.5 473,23.6 473.6,24 474.1,23.8 474.7,23.7 475.2,23.3 475.8,23.5 476.3,23.3 476.9,23.3 477.4,23 478,23.4 478.5,23.5 479.1,23.8 479.6,23.5 480.2,23.6 480.7,23.5 481.3,23.7 481.8,23.2 482.4,23.1 482.9,22.9 483.5,23.3 484,23.3 484.6,23.4 485.1,23.2 485.7,23.6 486.2,23.6 486.8,23.6 487.3,23.1 487.9,23.1 488.4,23 489,23.2 489.5,23 490.1,23 490.6,23.1 491.2,23.5 491.7,23.5 492.3,23.4 492.8,23.2 493.4,23.3 493.9,23.2 494.5,23 495,22.7 495.6,22.8 496.1,23.1 496.7,23.3 497.3,23.2 497.8,23.2 498.4,23.3 498.9,23.4 499.5,23.2 500,22.9 500.6,22.7 501.1,22.8 501.7,23 502.2,22.9 502.8,22.9 503.3,23 503.9,23.4 504.4,23.3 505,23.2 505.5,22.9 506.1,23 506.6,22.9 507.2,22.8 507.7,22.5 508.3,22.8 508.8,23 509.4,23.3 509.9,23.1 510.5,23.1 511,23 511.6,23.2 512.1,22.8 512.7,22.7 513.2,22.4 513.8,22.8 514.3,22.8 514.9,23 515.4,22.7 516,23.1 516.5,23.2 517.1,23.3 517.6,22.8 518.2,22.8 518.7,22.6 519.3,22.8 519.8,22.5 520.4,22.6 520.9,22.6 521.5,23.2 522,23.1 522.6,23.2 523.2,22.8 523.7,23 524.3,22.8 524.8,22.8 525.4,22.3 525.9,22.5 526.5,22.6 527,23 527.6,22.8 528.1,23 528.7,22.9 529.2,23.3 529.8,22.9 530.3,22.8 530.9,22.4 531.4,22.6 532,22.6 532.5,22.7 533.1,22.5 533.6,22.9 534.2,23 534.7,23.3 535.3,22.9 535.8,22.8 536.4,22.7 536.9,22.8 537.5,22.6 538,22.4 538.6,22.4 539.1,22.8 539.7,23 540.2,23 540.8,22.9 541.3,23 541.9,23.1 542.4,22.9 543,22.5 543.5,22.4 544.1,22.6 544.6,22.7 545.2,22.7 545.7,22.7 546.3,22.9 546.8,23.1 547.4,23.2 547.9,22.8 548.5,22.7 549,22.6 549.6,22.8 550.2,22.5 550.7,22.5 551.3,22.5 551.8,23 552.4,23.1 552.9,23.1 553.5,22.8 554,23 554.6,22.9 555.1,22.8 555.7,22.4 556.2,22.5 556.8,22.5 557.3,22.9 557.9,22.8 558.4,22.9 559,22.9 559.5,23.3 560.1,23 560.6,22.9 561.2,22.4 561.7,22.7 562.3,22.6 562.8,22.7 563.4,22.4 563.9,22.8 564.5,22.9 565,23.3 565.6,22.9 566.1,22.9 566.7,22.7 567.2,22.9 567.8,22.6 568.3,22.5 568.9,22.3 569.4,22.8 570,22.9 570.5,23.1 571.1,22.8 571.6,23.1 572.2,23 572.7,23.1 573.3,22.5 573.8,22.5 574.4,22.4 574.9,22.8 575.5,22.6 576.1,22.7 576.6,22.8 577.2,23.2 577.7,23.1 578.3,23 578.8,22.6 579.4,22.7 579.9,22.7 580.5,22.7 581,22.4 581.6,22.6 582.1,22.8 582.7,23.1 583.2,23 583.8,22.9 584.3,22.9 584.9,23 585.4,22.8 586,22.5 586.5,22.3 587.1,22.6 587.6,22.8 588.2,22.8 588.7,22.8 589.3,22.9 589.8,23.2 590.4,23.1 590.9,22.8 591.5,22.5 592,22.6 592.6,22.6 593.1,22.6 593.7,22.5 594.2,22.7 594.8,22.9 595.3,23.2 595.9,23 596.4,22.9 597,22.8 597.5,22.9 598.1,22.6 598.6,22.5 599.2,22.3 599.2,22.6 598.6,22.4 598.1,22.4 597.5,22.7 597,22.8 596.4,22.9 595.9,22.8 595.3,23.1 594.8,23.1 594.2,23.1 593.7,22.6 593.1,22.6 592.6,22.5 592,22.8 591.5,22.5 590.9,22.6 590.4,22.7 589.8,23.2 589.3,23.1 588.7,23 588.2,22.7 587.6,23 587.1,22.7 586.5,22.7 586,22.3 585.4,22.6 584.9,22.7 584.3,23.1 583.8,22.8 583.2,23 582.7,22.9 582.1,23.2 581.6,22.8 581,22.7 580.5,22.3 579.9,22.7 579.4,22.6 578.8,22.8 578.3,22.5 577.7,23 577.2,23.1 576.6,23.3 576.1,22.8 575.5,22.8 574.9,22.6 574.4,22.8 573.8,22.4 573.3,22.5 572.7,22.5 572.2,23 571.6,23 571.1,23.1 570.5,22.8 570,23.1 569.4,22.9 568.9,22.8 568.3,22.4 567.8,22.5 567.2,22.6 566.7,22.9 566.1,22.7 565.6,22.8 565,23 564.5,23.2 563.9,23.1 563.4,22.8 562.8,22.5 562.3,22.7 561.7,22.7 561.2,22.6 560.6,22.5 560.1,22.7 559.5,23 559,23.2 558.4,23 557.9,22.8 557.3,22.9 556.8,22.9 556.2,22.7 555.7,22.4 555.1,22.5 554.6,22.7 554,23 553.5,22.8 552.9,22.9 552.4,23 551.8,23.2 551.3,22.9 550.7,22.7 550.2,22.4 549.6,22.6 549,22.6 548.5,22.7 547.9,22.5 547.4,22.9 546.8,23.1 546.3,23.3 545.7,22.8 545.2,22.8 544.6,22.7 544.1,22.9 543.5,22.5 543,22.5 542.4,22.4 541.9,22.9 541.3,22.9 540.8,23.1 540.2,22.8 539.7,23.1 539.1,23 538.6,23 538,22.4 537.5,22.5 536.9,22.5 536.4,22.9 535.8,22.6 535.3,22.8 534.7,22.8 534.2,23.3 533.6,23 533.1,22.9 532.5,22.5 532,22.8 531.4,22.6 530.9,22.7 530.3,22.3 529.8,22.7 529.2,22.9 528.7,23.2 528.1,22.9 527.6,23 527,22.8 526.5,23 525.9,22.7 525.4,22.5 524.8,22.3 524.3,22.7 523.7,22.8 523.2,22.9 522.6,22.8 522,23.1 521.5,23.2 520.9,23.1 520.4,22.7 519.8,22.6 519.3,22.6 518.7,22.8 518.2,22.6 517.6,22.6 517.1,22.8 516.5,23.2 516,23.3 515.4,23.1 514.9,22.9 514.3,22.9 513.8,22.9 513.2,22.7 512.7,22.5 512.1,22.6 511.6,22.9 511,23.1 510.5,23.1 509.9,23 509.4,23.2 508.8,23.2 508.3,23.1 507.7,22.7 507.2,22.6 506.6,22.7 506.1,23 505.5,22.8 505,22.9 504.4,23 503.9,23.5 503.3,23.3 502.8,23.2 502.2,22.8 501.7,23 501.1,22.9 500.6,22.9 500,22.6 499.5,22.9 498.9,23.1 498.4,23.5 497.8,23.2 497.3,23.3 496.7,23.2 496.1,23.4 495.6,23 495,22.9 494.5,22.6 493.9,23.1 493.4,23.1 492.8,23.3 492.3,23.1 491.7,23.5 491.2,23.5 490.6,23.6 490.1,23.1 489.5,23.1 489,22.9 488.4,23.2 487.9,23 487.3,23.1 486.8,23.1 486.2,23.6 485.7,23.6 485.1,23.6 484.6,23.3 484,23.5 483.5,23.3 482.9,23.3 482.4,22.9 481.8,23.1 481.3,23.2 480.7,23.6 480.2,23.5 479.6,23.6 479.1,23.6 478.5,23.8 478,23.6 477.4,23.4 476.9,23.1 476.3,23.3 475.8,23.4 475.2,23.5 474.7,23.3 474.1,23.6 473.6,23.8 473,24 472.5,23.7 471.9,23.5 471.4,23.5 470.8,23.5 470.3,23.4 469.7,23.2 469.1,23.3 468.6,23.6 468,23.9 467.5,23.8 466.9,23.7 466.4,23.8 465.8,23.9 465.3,23.7 464.7,23.4 464.2,23.2 463.6,23.5 463.1,23.6 462.5,23.7 462,23.6 461.4,23.9 460.9,24.1 460.3,24.2 459.8,23.8 459.2,23.6 458.7,23.5 458.1,23.8 457.6,23.6 457,23.6 456.5,23.6 455.9,24.1 455.4,24.2 454.8,24.3 454.3,23.9 453.7,24.1 453.2,24 452.6,24 452.1,23.6 451.5,23.7 451,23.8 450.4,24.3 449.9,24.1 449.3,24.3 448.8,24.2 448.2,24.6 447.7,24.4 447.1,24.3 446.6,23.8 446,24.2 445.5,24.1 444.9,24.4 444.4,24.1 443.8,24.5 443.2,24.7 442.7,25.1 442.1,24.7 441.6,24.7 441,24.6 440.5,24.9 439.9,24.6 439.4,24.6 438.8,24.5 438.3,25 437.7,25.2 437.2,25.4 436.6,25.2 436.1,25.5 435.5,25.5 435,25.6 434.4,25.2 433.9,25.2 433.3,25.3 432.8,25.7 432.2,25.7 431.7,25.8 431.1,26 430.6,26.4 430,26.5 429.5,26.4 428.9,26.2 428.4,26.3 427.8,26.5 427.3,26.5 426.7,26.4 426.2,26.7 425.6,27.1 425.1,27.6 424.5,27.6 424,27.6 423.4,27.8 422.9,28 422.3,28 421.8,27.8 421.2,27.9 420.7,28.2 420.1,28.7 419.6,28.9 419,29.1 418.5,29.3 417.9,29.8 417.3,29.9 416.8,29.8 416.2,29.7 415.7,30 415.1,30.3 414.6,30.6 414,30.6 413.5,31.1 412.9,31.6 412.4,32.2 411.8,32.2 411.3,32.5 410.7,32.6 410.2,33.1 409.6,33.1 409.1,33.3 408.5,33.5 408,34.3 407.4,34.7 406.9,35.3 406.3,35.4 405.8,36.1 405.2,36.4 404.7,37 404.1,36.9 403.6,37.3 403,37.6 402.5,38.5 401.9,38.8 401.4,39.5 400.8,39.9 400.3,41 399.7,41.4 399.2,41.9 398.6,42 398.1,42.8 397.5,43.2 397,44 396.4,44.2 395.9,45.1 395.3,46 394.8,47.2 394.2,47.8 393.7,48.6 393.1,49.3 392.6,50.5 392,51.2 391.5,52.2 390.9,53.1 390.3,54.8 389.8,56.4 389.2,58.2 388.7,59.7 388.1,61.6 387.6,63.4 387,65.3 386.5,66.6 385.9,68.2 385.4,69.9 384.8,71.8 384.3,73.4 383.7,75.2 383.2,77 382.6,79.3 382.1,81.3 381.5,83.2 381,84.9 380.4,86.9 379.9,88.9 379.3,90.8 378.8,92.5 378.2,94.4 377.7,96.6 377.1,98.8 376.6,100.9 376,102.7 375.5,104.7 374.9,106.8 374.4,108.7 373.8,110.2 373.3,111.9 372.7,113.8 372.2,116 371.6,117.9 371.1,119.8 370.5,121.8 370,124.1 369.4,126.1 368.9,128 368.3,129.5 367.8,131.3 367.2,132.9 366.7,135.1 366.1,137.1 365.6,139.7 365,142.4 364.4,145.7 363.9,148.7 363.3,151.8 362.8,154.5 362.2,157.8 361.7,160.7 361.1,164 360.6,166.9 360,170.4 359.5,173.3 358.9,176.3 358.4,178.6 357.8,181.5 357.3,184 356.7,187.2 356.2,190.6 355.6,194.9 355.1,198.7 354.5,202.9 354,206.2 353.4,209.3 352.9,211.9 352.3,214.8 351.8,217.1 351.2,219.5 350.7,221.6 350.1,224.2 349.6,226.3 349,228.5 348.5,230.1 347.9,232.5 347.4,235.3 346.8,238.4 346.3,240.2 345.7,242.1 345.2,244.4 344.6,247.5 344.1,249.6 343.5,250.8 343,251.7 342.4,253.9 341.9,256.3 341.3,258.7 340.8,260.7 340.2,263.3 339.7,266.2 339.1,269.3 338.6,271.9 338,274.4 337.4,276.5 336.9,278.7 336.3,280.5 335.8,282 335.2,283.3 334.7,285 334.1,287 333.6,288.8 333,290.4 332.5,292.1 331.9,294 331.4,295.6 330.8,297.1 330.3,298.5 329.7,300.3 329.2,302.1 328.6,304 328.1,305.6 327.5,307.4 327,309.4 326.4,311.3 325.9,312.8 325.3,314.3 324.8,315.9 324.2,317.8 323.7,319.4 323.1,321.2 322.6,322.8 322,325 321.5,326.9 320.9,328.8 320.4,330.1 319.8,331.9 319.3,333.4 318.7,335 318.2,336.1 317.6,337.6 317.1,339.1 316.5,341.1 316,342.5 315.4,344.2 314.9,345.6 314.3,347.4 313.8,348.7 313.2,350 312.7,350.8 312.1,352.1 311.5,353.2 311,354.6 310.4,355.3 309.9,356.5 309.3,357.4 308.8,358.7 308.2,359.2 307.7,359.9 307.1,360.3 306.6,361.3 306,361.7 305.5,362.2 304.9,362.5 304.4,363.5 303.8,364.2 303.3,365 302.7,365.3 302.2,366 301.6,366.5 301.1,367.2 300.5,367.2 300,367.5 299.4,367.8 298.9,368.6 298.3,369 297.8,369.5 297.2,369.8 296.7,370.7 296.1,371.1 295.6,371.5 295,371.4 294.5,371.8 293.9,372.1 293.4,372.5 292.8,372.5 292.3,372.8 291.7,373.3 291.2,374 290.6,374.3 290.1,374.5 289.5,374.7 289,375.1 288.4,375.3 287.9,375.2 287.3,375.2 286.8,375.5 286.2,376 285.7,376.3 285.1,376.4 284.5,376.6 284,377.1 283.4,377.4 282.9,377.4 282.3,377.1 281.8,377.3 281.2,377.5 280.7,377.7 280.1,377.7 279.6,378 279,378.3 278.5,378.9 277.9,378.9 277.4,378.9 276.8,378.8 276.3,379.2 275.7,379.1 275.2,379.2 274.6,378.9 274.1,379.4 273.5,379.7 273,380.1 272.4,380 271.9,380.3 271.3,380.4 270.8,380.7 270.2,380.4 269.7,380.4 269.1,380.2 268.6,380.7 268,380.6 267.5,380.9 266.9,380.8 266.4,381.4 265.8,381.5 265.3,381.7 264.7,381.3 264.2,381.5 263.6,381.4 263.1,381.6 262.5,381.3 262,381.5 261.4,381.6 260.9,382.2 260.3,382.2 259.8,382.3 259.2,382.1 258.6,382.5 258.1,382.4 257.5,382.4 257,381.9 256.4,382.2 255.9,382.3 255.3,382.7 254.8,382.5 254.2,382.8 253.7,382.9 253.1,383.3 252.6,383 252,382.9 251.5,382.6 250.9,382.9 250.4,382.8 249.8,382.8 249.3,382.7 248.7,383.1 248.2,383.4 247.6,383.6 247.1,383.4 246.5,383.4 246,383.4 245.4,383.5 244.9,383.2 244.3,383 243.8,383.1 243.2,383.5 242.7,383.7 242.1,383.7 241.6,383.7 241,383.9 240.5,384.1 239.9,383.9 239.4,383.6 238.8,383.5 238.3,383.7 237.7,383.8 237.2,383.8 236.6,383.8 236.1,384.1 235.5,384.4 235,384.5 234.4,384.1 233.9,384.1 233.3,384.1 232.7,384.2 232.2,383.9 231.6,383.9 231.1,384 230.5,384.5 230,384.5 229.4,384.6 228.9,384.4 228.3,384.7 227.8,384.6 227.2,384.6 226.7,384.1 226.1,384.2 225.6,384.2 225,384.6 224.5,384.4 223.9,384.6 223.4,384.7 222.8,385.1 222.3,384.8 221.7,384.7 221.2,384.3 220.6,384.6 220.1,384.4 219.5,384.5 219,384.2 218.4,384.7 217.9,384.8 217.3,385.1 216.8,384.8 216.2,384.9 215.7,384.7 215.1,385 214.6,384.5 214,384.4 213.5,384.3 212.9,384.8 212.4,384.8 211.8,384.9 211.3,384.7 210.7,385.1 210.2,385.1 209.6,385.1 209.1,384.6 208.5,384.6 208,384.6 207.4,384.8 206.9,384.6 206.3,384.7 205.7,384.8 205.2,385.3 204.6,385.2 204.1,385.1 203.5,384.8 203,385 202.4,384.9 201.9,384.8 201.3,384.5 200.8,384.7 200.2,385 199.7,385.2 199.1,385.1 198.6,385.1 198,385.2 197.5,385.3 196.9,385.1 196.4,384.7 195.8,384.6 195.3,384.8 194.7,385 194.2,384.9 193.6,385 193.1,385.2 192.5,385.5 192,385.4 191.4,385.2 190.9,384.9 190.3,385 189.8,385 189.2,384.9 188.7,384.7 188.1,385 187.6,385.2 187,385.5 186.5,385.2 185.9,385.3 185.4,385.2 184.8,385.4 184.3,385 183.7,384.9 183.2,384.7 182.6,385.1 182.1,385.1 181.5,385.3 181,385.1 180.4,385.5 179.8,385.5 179.3,385.5 178.7,385 178.2,385 177.6,384.9 177.1,385.2 176.5,384.9 176,385 175.4,385 174.9,385.6 174.3,385.5 173.8,385.5 173.2,385.1 172.7,385.3 172.1,385.1 171.6,385.1 171,384.7 170.5,384.9 169.9,385 169.4,385.5 168.8,385.2 168.3,385.4 167.7,385.3 167.2,385.6 166.6,385.3 166.1,385.1 165.5,384.7 165,385.1 164.4,385 163.9,385.1 163.3,385 162.8,385.3 162.2,385.5 161.7,385.7 161.1,385.2 160.6,385.2 160,385.1 159.5,385.2 158.9,384.9 158.4,384.9 157.8,384.9 157.3,385.3 156.7,385.4 156.2,385.4 155.6,385.3 155.1,385.4 154.5,385.4 154,385.2 153.4,384.9 152.8,384.8 152.3,385 151.7,385.2 151.2,385.2 150.6,385.2 150.1,385.4 149.5,385.6 149,385.5 148.4,385.2 147.9,385 147.3,385 146.8,385.1 146.2,384.9 145.7,384.9 145.1,385 144.6,385.5 144,385.5 143.5,385.5 142.9,385.2 142.4,385.3 141.8,385.2 141.3,385.2 140.7,384.7 140.2,384.9 139.6,385 139.1,385.4 138.5,385.2 138,385.3 137.4,385.3 136.9,385.6 136.3,385.3 135.8,385.2 135.2,384.8 134.7,385.1 134.1,385 133.6,385.1 133,384.9 132.5,385.3 131.9,385.4 131.4,385.7 130.8,385.3 130.3,385.3 129.7,385 129.2,385.3 128.6,384.9 128.1,384.9 127.5,384.8 126.9,385.3 126.4,385.3 125.8,385.5 125.3,385.2 124.7,385.5 124.2,385.4 123.6,385.4 123.1,384.8 122.5,384.9 122,384.9 121.4,385.2 120.9,385 120.3,385.2 119.8,385.2 119.2,385.7 118.7,385.5 118.1,385.4 117.6,385 117,385.1 116.5,385 115.9,385.1 115.4,384.8 114.8,385 114.3,385.3 113.7,385.6 113.2,385.4 112.6,385.3 112.1,385.3 111.5,385.4 111,385.1 110.4,384.9 109.9,384.7 109.3,385 108.8,385.2 108.2,385.3 107.7,385.2 107.1,385.4 106.6,385.6 106,385.5 105.5,385.1 104.9,384.9 104.4,385 103.8,385.1" fill="none" stroke="#9400d3" stroke-width="3.6" stroke-linejoin="round" stroke-linecap="butt" />
<polyline points="103.8,384.3 104.4,383.9 104.9,384.1 105.5,384.1 106,384.7 106.6,384.6 107.1,384.6 107.7,384.2 108.2,384.4 108.8,384.3 109.3,384.2 109.9,383.8 110.4,384 111,384.2 111.5,384.5 112.1,384.3 112.6,384.4 113.2,384.5 113.7,384.7 114.3,384.4 114.8,384.1 115.4,383.9 115.9,384.1 116.5,384.1 117,384.2 117.6,384.1 118.1,384.4 118.7,384.6 119.2,384.7 119.8,384.4 120.3,384.2 120.9,384.2 121.4,384.3 122,384 122.5,383.9 123.1,384 123.6,384.4 124.2,384.6 124.7,384.5 125.3,384.4 125.8,384.5 126.4,384.6 126.9,384.3 127.5,384 128.1,383.8 128.6,384.1 129.2,384.2 129.7,384.3 130.3,384.2 130.8,384.5 131.4,384.6 131.9,384.7 132.5,384.2 133,384.2 133.6,384.1 134.1,384.3 134.7,384 135.2,384 135.8,384.1 136.3,384.6 136.9,384.6 137.4,384.6 138,384.3 138.5,384.5 139.1,384.3 139.6,384.3 140.2,383.8 140.7,384 141.3,384.1 141.8,384.5 142.4,384.3 142.9,384.4 143.5,384.4 144,384.8 144.6,384.4 145.1,384.3 145.7,383.9 146.2,384.2 146.8,384.1 147.3,384.2 147.9,384 148.4,384.4 149,384.5 149.5,384.8 150.1,384.4 150.6,384.4 151.2,384.2 151.7,384.4 152.3,384 152.8,384 153.4,383.9 154,384.4 154.5,384.4 155.1,384.6 155.6,384.3 156.2,384.6 156.7,384.5 157.3,384.5 157.8,384 158.4,384 158.9,384 159.5,384.3 160,384.2 160.6,384.3 161.1,384.4 161.7,384.7 162.2,384.6 162.8,384.4 163.3,384.1 163.9,384.2 164.4,384.2 165,384.1 165.5,383.9 166.1,384.1 166.6,384.4 167.2,384.6 167.7,384.5 168.3,384.4 168.8,384.4 169.4,384.4 169.9,384.3 170.5,383.9 171,383.9 171.6,384.1 172.1,384.4 172.7,384.3 173.2,384.3 173.8,384.4 174.3,384.7 174.9,384.5 175.4,384.3 176,383.9 176.5,384.1 177.1,384.1 177.6,384.1 178.2,383.9 178.7,384.3 179.3,384.5 179.8,384.7 180.4,384.4 181,384.3 181.5,384.2 182.1,384.4 182.6,384 183.2,383.9 183.7,383.8 184.3,384.3 184.8,384.3 185.4,384.5 185.9,384.2 186.5,384.5 187,384.4 187.6,384.5 188.1,383.9 188.7,383.9 189.2,383.8 189.8,384.2 190.3,384 190.9,384.1 191.4,384.1 192,384.6 192.5,384.4 193.1,384.4 193.6,383.9 194.2,384.1 194.7,384 195.3,384 195.8,383.6 196.4,383.9 196.9,384.1 197.5,384.5 198,384.2 198.6,384.3 199.1,384.1 199.7,384.4 200.2,384 200.8,383.8 201.3,383.5 201.9,383.9 202.4,383.9 203,384.1 203.5,383.9 204.1,384.2 204.6,384.3 205.2,384.4 205.7,383.9 206.3,383.8 206.9,383.7 207.4,383.9 208,383.7 208.5,383.7 209.1,383.7 209.6,384.1 210.2,384.3 210.7,384.2 211.3,383.9 211.8,383.9 212.4,383.9 212.9,383.8 213.5,383.5 214,383.4 214.6,383.7 215.1,383.9 215.7,384 216.2,383.9 216.8,384 217.3,384.1 217.9,384 218.4,383.6 219,383.4 219.5,383.4 220.1,383.7 220.6,383.5 221.2,383.6 221.7,383.6 222.3,384.1 222.8,384 223.4,383.9 223.9,383.5 224.5,383.6 225,383.5 225.6,383.5 226.1,383.1 226.7,383.3 227.2,383.5 227.8,383.9 228.3,383.7 228.9,383.7 229.4,383.6 230,383.8 230.5,383.5 231.1,383.3 231.6,382.9 232.2,383.2 232.7,383.2 233.3,383.4 233.9,383.2 234.4,383.5 235,383.5 235.5,383.8 236.1,383.2 236.6,383.2 237.2,382.9 237.7,383.2 238.3,382.9 238.8,382.9 239.4,382.8 239.9,383.3 240.5,383.3 241,383.4 241.6,383 242.1,383.1 242.7,383 243.2,383 243.8,382.5 244.3,382.5 244.9,382.5 245.4,383 246,382.8 246.5,382.9 247.1,382.8 247.6,383.1 248.2,382.9 248.7,382.7 249.3,382.2 249.8,382.3 250.4,382.3 250.9,382.4 251.5,382.2 252,382.4 252.6,382.6 253.1,382.8 253.7,382.5 254.2,382.3 254.8,382.1 255.3,382.2 255.9,382 256.4,381.7 257,381.6 257.5,381.9 258.1,382.1 258.6,382.1 259.2,381.9 259.8,381.9 260.3,382 260.9,381.8 261.4,381.4 262,381.1 262.5,381.2 263.1,381.2 263.6,381.3 264.2,381.1 264.7,381.2 265.3,381.3 265.8,381.4 266.4,381 266.9,380.8 267.5,380.5 268,380.6 268.6,380.3 269.1,380.2 269.7,380 270.2,380.4 270.8,380.4 271.3,380.5 271.9,380 272.4,380.1 273,379.9 273.5,379.8 274.1,379.2 274.6,379.1 275.2,378.9 275.7,379.3 276.3,379 276.8,379 277.4,378.8 277.9,379 278.5,378.7 279,378.5 279.6,377.8 280.1,377.8 280.7,377.6 281.2,377.6 281.8,377.1 282.3,377.3 282.9,377.2 283.4,377.5 284,377 284.5,376.8 285.1,376.3 285.7,376.4 286.2,375.9 286.8,375.6 287.3,375.1 287.9,375.3 288.4,375.2 289,375.2 289.5,374.6 290.1,374.6 290.6,374.3 291.2,374.1 291.7,373.3 292.3,372.9 292.8,372.5 293.4,372.5 293.9,372 294.5,371.8 295,371.4 295.6,371.5 296.1,371.1 296.7,370.6 297.2,369.8 297.8,369.4 298.3,369 298.9,368.5 299.4,367.8 300,367.4 300.5,367.2 301.1,367.1 301.6,366.5 302.2,365.9 302.7,365.4 303.3,365 303.8,364.4 304.4,363.5 304.9,362.8 305.5,362.4 306,362.1 306.6,361.5 307.1,360.9 307.7,360.3 308.2,360 308.8,359.3 309.3,358.3 309.9,357.2 310.4,356.4 311,355.5 311.5,354.6 312.1,353.3 312.7,352.3 313.2,351.3 313.8,350.4 314.3,348.9 314.9,347.5 315.4,345.9 316,344.7 316.5,343 317.1,341.5 317.6,339.7 318.2,338.7 318.7,337.4 319.3,336.3 319.8,334.5 320.4,333.3 320.9,331.8 321.5,330.4 322,328.4 322.6,326.7 323.1,324.9 323.7,323.7 324.2,321.9 324.8,320.4 325.3,318.6 325.9,317.5 326.4,315.9 327,314.4 327.5,312.2 328.1,310.7 328.6,308.9 329.2,307.4 329.7,305.3 330.3,303.7 330.8,302.1 331.4,301 331.9,299.1 332.5,297.5 333,295.5 333.6,294.1 334.1,292.1 334.7,290.2 335.2,288.1 335.8,286.8 336.3,285.1 336.9,283.5 337.4,281.3 338,279.5 338.6,277.2 339.1,275 339.7,272.2 340.2,269.8 340.8,267.5 341.3,265.7 341.9,263.6 342.4,261.7 343,259.6 343.5,257.8 344.1,255.6 344.6,253 345.2,249.3 345.7,244.5 346.3,236.6 346.8,225.2 347.4,213.6 347.9,204.8 348.5,199.2 349,195.2 349.6,191 350.1,186.8 350.7,183 351.2,179.6 351.8,176.7 352.3,173.9 352.9,171.4 353.4,169.2 354,167.4 354.5,165.2 355.1,163.1 355.6,161 356.2,159.3 356.7,157.3 357.3,155.1 357.8,152.5 358.4,150.2 358.9,147.9 359.5,145.8 360,143.3 360.6,141.3 361.1,139.3 361.7,137.8 362.2,135.7 362.8,133.9 363.3,131.7 363.9,130.2 364.4,128.1 365,126.2 365.6,124 366.1,122.5 366.7,120.8 367.2,119.4 367.8,117.6 368.3,116.1 368.9,114.5 369.4,113.1 370,111 370.5,109.1 371.1,107.1 371.6,105.6 372.2,103.7 372.7,102 373.3,100.1 373.8,98.9 374.4,97.3 374.9,95.9 375.5,93.9 376,92.4 376.6,90.6 377.1,89.1 377.7,87 378.2,85.3 378.8,83.6 379.3,82.4 379.9,80.7 380.4,79.3 381,77.6 381.5,76.4 382.1,74.8 382.6,73.2 383.2,71.2 383.7,69.8 384.3,68.3 384.8,67.1 385.4,65.4 385.9,64.1 386.5,62.8 387,61.8 387.6,60.3 388.1,58.7 388.7,57.1 389.2,56 389.8,54.5 390.3,53.1 390.9,51.8 391.5,50.9 392,50.2 392.6,49.5 393.1,48.5 393.7,47.8 394.2,47.2 394.8,46.5 395.3,45.6 395.9,44.6 396.4,43.9 397,43.5 397.5,43.1 398.1,42.4 398.6,42 399.2,41.7 399.7,41.5 400.3,40.8 400.8,40.1 401.4,39.4 401.9,39 402.5,38.4 403,37.8 403.6,37.2 404.1,37.1 404.7,36.9 405.2,36.7 405.8,36 406.3,35.6 406.9,35.2 407.4,34.9 408,34.1 408.5,33.6 409.1,33.2 409.6,33.3 410.2,32.9 410.7,32.7 411.3,32.3 411.8,32.4 412.4,32.1 412.9,31.8 413.5,31 414,30.8 414.6,30.4 415.1,30.4 415.7,29.8 416.2,29.8 416.8,29.7 417.3,30 417.9,29.6 418.5,29.4 419,28.9 419.6,29 420.1,28.6 420.7,28.4 421.2,27.8 421.8,27.9 422.3,27.9 422.9,28.1 423.4,27.7 424,27.7 424.5,27.5 425.1,27.6 425.6,27.1 426.2,26.8 426.7,26.4 427.3,26.6 427.8,26.4 428.4,26.3 428.9,26.1 429.5,26.4 430,26.4 430.6,26.4 431.1,25.9 431.7,25.7 432.2,25.6 432.8,25.6 433.3,25.2 433.9,25 434.4,25 435,25.4 435.5,25.4 436.1,25.3 436.6,25.1 437.2,25.2 437.7,25 438.3,24.8 438.8,24.3 439.4,24.3 439.9,24.4 440.5,24.5 441,24.4 441.6,24.3 442.1,24.5 442.7,24.7 443.2,24.5 443.8,24.1 444.4,23.9 444.9,23.9 445.5,23.9 446,23.6 446.6,23.6 447.1,23.7 447.7,24.1 448.2,24.1 448.8,24 449.3,23.7 449.9,23.8 450.4,23.6 451,23.5 451.5,23.1 452.1,23.2 452.6,23.4 453.2,23.7 453.7,23.4 454.3,23.6 454.8,23.5 455.4,23.8 455.9,23.4 456.5,23.2 457,22.9 457.6,23.2 458.1,23 458.7,23.1 459.2,22.9 459.8,23.3 460.3,23.4 460.9,23.6 461.4,23.1 462,23.1 462.5,22.9 463.1,23.1 463.6,22.6 464.2,22.7 464.7,22.6 465.3,23.1 465.8,23 466.4,23.1 466.9,22.9 467.5,23.2 468,23 468.6,23 469.1,22.4 469.7,22.5 470.3,22.5 470.8,22.8 471.4,22.6 471.9,22.7 472.5,22.8 473,23.2 473.6,22.9 474.1,22.8 474.7,22.4 475.2,22.6 475.8,22.4 476.3,22.4 476.9,22.2 477.4,22.5 478,22.7 478.5,22.9 479.1,22.7 479.6,22.6 480.2,22.6 480.7,22.7 481.3,22.4 481.8,22.1 482.4,22 482.9,22.3 483.5,22.5 484,22.5 484.6,22.4 485.1,22.6 485.7,22.8 486.2,22.6 486.8,22.3 487.3,22.1 487.9,22.2 488.4,22.2 489,22.2 489.5,22 490.1,22.3 490.6,22.6 491.2,22.7 491.7,22.4 492.3,22.3 492.8,22.2 493.4,22.3 493.9,22 494.5,21.9 495,21.8 495.6,22.3 496.1,22.3 496.7,22.4 497.3,22.2 497.8,22.5 498.4,22.4 498.9,22.4 499.5,21.8 500,21.9 500.6,21.8 501.1,22.2 501.7,21.9 502.2,22.1 502.8,22.1 503.3,22.6 503.9,22.4 504.4,22.3 505,21.9 505.5,22.1 506.1,21.9 506.6,21.9 507.2,21.6 507.7,21.9 508.3,22.1 508.8,22.5 509.4,22.1 509.9,22.2 510.5,22.1 511,22.3 511.6,21.9 512.1,21.8 512.7,21.5 513.2,21.9 513.8,21.9 514.3,22.1 514.9,21.9 515.4,22.3 516,22.3 516.5,22.4 517.1,21.8 517.6,21.8 518.2,21.7 518.7,21.9 519.3,21.6 519.8,21.7 520.4,21.8 520.9,22.3 521.5,22.2 522,22.2 522.6,21.9 523.2,22 523.7,21.9 524.3,21.8 524.8,21.5 525.4,21.6 525.9,21.8 526.5,22.1 527,22 527.6,22 528.1,22.1 528.7,22.3 529.2,22.1 529.8,21.7 530.3,21.5 530.9,21.7 531.4,21.8 532,21.7 532.5,21.7 533.1,21.9 533.6,22.2 534.2,22.3 534.7,22.1 535.3,21.8 535.8,21.9 536.4,21.8 536.9,21.7 537.5,21.4 538,21.6 538.6,21.9 539.1,22.2 539.7,22 540.2,22.1 540.8,22 541.3,22.2 541.9,21.9 542.4,21.7 543,21.4 543.5,21.7 544.1,21.8 544.6,21.9 545.2,21.7 545.7,22.1 546.3,22.2 546.8,22.3 547.4,21.8 547.9,21.8 548.5,21.6 549,21.9 549.6,21.6 550.2,21.7 550.7,21.6 551.3,22.2 551.8,22.1 552.4,22.2 552.9,21.8 553.5,22.1 554,21.9 554.6,21.9 555.1,21.4 555.7,21.6 556.2,21.6 556.8,22.1 557.3,21.9 557.9,22 558.4,22 559,22.4 559.5,22.1 560.1,21.9 560.6,21.5 561.2,21.7 561.7,21.7 562.3,21.8 562.8,21.6 563.4,21.9 563.9,22.1 564.5,22.4 565,22 565.6,21.9 566.1,21.8 566.7,22 567.2,21.7 567.8,21.6 568.3,21.5 568.9,21.9 569.4,22.1 570,22.1 570.5,21.9 571.1,22.1 571.6,22.1 572.2,22.1 572.7,21.6 573.3,21.5 573.8,21.6 574.4,21.8 574.9,21.8 575.5,21.8 576.1,22 576.6,22.2 577.2,22.3 577.7,22 578.3,21.8 578.8,21.7 579.4,21.8 579.9,21.7 580.5,21.6 581,21.6 581.6,22 582.1,22.2 582.7,22.2 583.2,21.9 583.8,22.1 584.3,22 584.9,21.9 585.4,21.5 586,21.5 586.5,21.6 587.1,22 587.6,21.9 588.2,22 588.7,22 589.3,22.3 589.8,22.1 590.4,22 590.9,21.5 591.5,21.7 592,21.7 592.6,21.8 593.1,21.5 593.7,21.9 594.2,22 594.8,22.4 595.3,22 595.9,22 596.4,21.8 597,22 597.5,21.7 598.1,21.6 598.6,21.4 599.2,21.9 599.2,22 598.6,21.9 598.1,21.5 597.5,21.5 597,21.7 596.4,21.9 595.9,21.8 595.3,21.9 594.8,22.1 594.2,22.3 593.7,22.1 593.1,21.8 592.6,21.7 592,21.7 591.5,21.8 590.9,21.6 590.4,21.6 589.8,21.8 589.3,22.2 588.7,22.2 588.2,22.1 587.6,21.9 587.1,22 586.5,21.9 586,21.8 585.4,21.4 584.9,21.6 584.3,21.8 583.8,22.1 583.2,21.9 582.7,22 582.1,22.1 581.6,22.3 581,22 580.5,21.8 579.9,21.5 579.4,21.8 578.8,21.7 578.3,21.8 577.7,21.6 577.2,22.1 576.6,22.2 576.1,22.4 575.5,21.9 574.9,21.9 574.4,21.8 573.8,22 573.3,21.5 572.7,21.6 572.2,21.5 571.6,22.1 571.1,22 570.5,22.2 570,21.9 569.4,22.2 568.9,22 568.3,22 567.8,21.5 567.2,21.6 566.7,21.6 566.1,22 565.6,21.7 565,21.9 564.5,22 563.9,22.4 563.4,22.1 562.8,22 562.3,21.6 561.7,21.8 561.2,21.7 560.6,21.7 560.1,21.5 559.5,21.8 559,22 558.4,22.3 557.9,22 557.3,22 556.8,21.9 556.2,22.1 555.7,21.7 555.1,21.5 554.6,21.4 554,21.8 553.5,21.9 552.9,22 552.4,21.9 551.8,22.1 551.3,22.2 550.7,22.1 550.2,21.7 549.6,21.6 549,21.7 548.5,21.8 547.9,21.7 547.4,21.7 546.8,21.9 546.3,22.2 545.7,22.3 545.2,22 544.6,21.9 544.1,21.9 543.5,21.9 543,21.7 542.4,21.5 541.9,21.5 541.3,21.9 540.8,22.1 540.2,22.1 539.7,21.9 539.1,22.2 538.6,22.1 538,22 537.5,21.6 536.9,21.6 536.4,21.6 535.8,21.9 535.3,21.7 534.7,21.9 534.2,21.9 533.6,22.4 533.1,22.2 532.5,22.1 532,21.7 531.4,21.9 530.9,21.7 530.3,21.8 529.8,21.4 529.2,21.8 528.7,21.9 528.1,22.3 527.6,22 527,22.1 526.5,21.9 525.9,22.2 525.4,21.8 524.8,21.7 524.3,21.4 523.7,21.9 523.2,21.9 522.6,22.1 522,21.8 521.5,22.2 520.9,22.2 520.4,22.3 519.8,21.8 519.3,21.8 518.7,21.6 518.2,21.9 517.6,21.7 517.1,21.8 516.5,21.8 516,22.3 515.4,22.3 514.9,22.3 514.3,21.9 513.8,22.1 513.2,22 512.7,21.9 512.1,21.5 511.6,21.7 511,21.9 510.5,22.3 509.9,22.1 509.4,22.2 508.8,22.2 508.3,22.4 507.7,22.2 507.2,21.9 506.6,21.7 506.1,21.9 505.5,22 505,22 504.4,21.9 503.9,22.2 503.3,22.5 502.8,22.5 502.2,22.3 501.7,22 501.1,22.1 500.6,22.1 500,22 499.5,21.8 498.9,21.9 498.4,22.2 497.8,22.5 497.3,22.4 496.7,22.4 496.1,22.3 495.6,22.5 495,22.2 494.5,22 493.9,21.8 493.4,22.1 492.8,22.2 492.3,22.3 491.7,22.2 491.2,22.5 490.6,22.6 490.1,22.7 489.5,22.3 489,22.2 488.4,22.1 487.9,22.3 487.3,22.1 486.8,22.2 486.2,22.1 485.7,22.7 485.1,22.7 484.6,22.8 484,22.4 483.5,22.6 482.9,22.4 482.4,22.5 481.8,22 481.3,22.2 480.7,22.2 480.2,22.7 479.6,22.5 479.1,22.7 478.5,22.6 478,23 477.4,22.7 476.9,22.6 476.3,22.2 475.8,22.5 475.2,22.4 474.7,22.6 474.1,22.3 473.6,22.7 473,22.9 472.5,23.2 471.9,22.8 471.4,22.8 470.8,22.6 470.3,22.8 469.7,22.5 469.1,22.5 468.6,22.4 468,22.9 467.5,23 466.9,23.1 466.4,22.9 465.8,23.1 465.3,23.1 464.7,23.1 464.2,22.7 463.6,22.6 463.1,22.7 462.5,23 462,23 461.4,23 460.9,23.2 460.3,23.5 459.8,23.5 459.2,23.3 458.7,23 458.1,23.1 457.6,23.1 457,23.1 456.5,23 455.9,23.1 455.4,23.5 454.8,23.7 454.3,23.7 453.7,23.5 453.2,23.6 452.6,23.6 452.1,23.5 451.5,23.2 451,23.2 450.4,23.4 449.9,23.8 449.3,23.7 448.8,23.8 448.2,23.9 447.7,24.2 447.1,24.1 446.6,23.9 446,23.6 445.5,23.8 444.9,23.8 444.4,24 443.8,23.8 443.2,24.2 442.7,24.4 442.1,24.8 441.6,24.5 441,24.5 440.5,24.4 439.9,24.7 439.4,24.4 438.8,24.4 438.3,24.3 437.7,24.9 437.2,25 436.6,25.3 436.1,25.1 435.5,25.4 435,25.4 434.4,25.6 433.9,25.1 433.3,25.2 432.8,25.2 432.2,25.7 431.7,25.6 431.1,25.8 430.6,25.9 430,26.5 429.5,26.5 428.9,26.6 428.4,26.2 427.8,26.5 427.3,26.5 426.7,26.7 426.2,26.5 425.6,26.9 425.1,27.2 424.5,27.8 424,27.7 423.4,27.9 422.9,27.9 422.3,28.2 421.8,28.1 421.2,28.1 420.7,28 420.1,28.5 419.6,28.8 419,29.1 418.5,29.1 417.9,29.6 417.3,29.9 416.8,30.2 416.2,30 415.7,30 415.1,30.2 414.6,30.6 414,30.8 413.5,30.9 412.9,31.3 412.4,31.9 411.8,32.4 411.3,32.6 410.7,32.7 410.2,33 409.6,33.4 409.1,33.5 408.5,33.6 408,33.9 407.4,34.5 406.9,35.2 406.3,35.7 405.8,35.9 405.2,36.5 404.7,37 404.1,37.5 403.6,37.5 403,37.8 402.5,38.2 401.9,39 401.4,39.4 400.8,39.9 400.3,40.4 399.7,41.4 399.2,41.9 398.6,42.4 398.1,42.5 397.5,43.1 397,43.6 396.4,44.2 395.9,44.4 395.3,45.3 394.8,46.1 394.2,47.3 393.7,47.8 393.1,48.6 392.6,49.3 392,50.5 391.5,51.2 390.9,52.1 390.3,52.8 389.8,54.4 389.2,55.7 388.7,57.3 388.1,58.4 387.6,60.1 387,61.6 386.5,63.3 385.9,64.3 385.4,65.6 384.8,66.8 384.3,68.5 383.7,69.7 383.2,71.2 382.6,72.6 382.1,74.7 381.5,76.3 381,78 380.4,79.2 379.9,80.9 379.3,82.4 378.8,84.1 378.2,85.3 377.7,86.9 377.1,88.6 376.6,90.7 376,92.3 375.5,94 374.9,95.6 374.4,97.6 373.8,99.1 373.3,100.6 372.7,101.9 372.2,103.7 371.6,105.5 371.1,107.3 370.5,108.8 370,110.7 369.4,112.8 368.9,114.8 368.3,116.3 367.8,117.7 367.2,119 366.7,120.7 366.1,122.3 365.6,123.9 365,125.8 364.4,128 363.9,130.7 363.3,132.9 362.8,135.1 362.2,137.5 361.7,140.3 361.1,143.1 360.6,146.1 360,149.4 359.5,153.6 358.9,158.4 358.4,163.6 357.8,168.7 357.3,174.2 356.7,179.9 356.2,186.2 355.6,191.8 355.1,197.6 354.5,204.9 354,211.9 353.4,217 352.9,221.3 352.3,224.2 351.8,227 351.2,229.5 350.7,231.9 350.1,233.7 349.6,236.1 349,238.4 348.5,241.1 347.9,243.1 347.4,245.5 346.8,247.5 346.3,250.1 345.7,251.9 345.2,254 344.6,255.7 344.1,258 343.5,259.8 343,261.8 342.4,263.3 341.9,265.6 341.3,267.6 340.8,269.9 340.2,271.6 339.7,273.9 339.1,276.2 338.6,278.8 338,280.5 337.4,282.3 336.9,283.8 336.3,285.7 335.8,287 335.2,288.5 334.7,289.8 334.1,291.9 333.6,293.8 333,295.8 332.5,297.3 331.9,299.1 331.4,300.8 330.8,302.7 330.3,303.9 329.7,305.4 329.2,307 328.6,309 328.1,310.6 327.5,312.3 327,313.9 326.4,315.9 325.9,317.6 325.3,319.1 324.8,320.4 324.2,322 323.7,323.6 323.1,325.2 322.6,326.6 322,328.1 321.5,330 320.9,331.8 320.4,333.4 319.8,334.7 319.3,336.1 318.7,337.6 318.2,339 317.6,340 317.1,341.3 316.5,342.8 316,344.5 315.4,346 314.9,347.4 314.3,348.7 313.8,350.3 313.2,351.6 312.7,352.7 312.1,353.4 311.5,354.5 311,355.5 310.4,356.5 309.9,357.1 309.3,358 308.8,358.9 308.2,360.1 307.7,360.5 307.1,361.1 306.6,361.4 306,362.3 305.5,362.6 304.9,363 304.4,363.2 303.8,364.1 303.3,364.8 302.7,365.6 302.2,365.8 301.6,366.5 301.1,366.9 300.5,367.7 300,367.6 299.4,368 298.9,368.2 298.3,369 297.8,369.3 297.2,369.9 296.7,370.2 296.1,371.1 295.6,371.5 295,371.9 294.5,371.8 293.9,372.2 293.4,372.4 292.8,372.9 292.3,372.8 291.7,373.2 291.2,373.5 290.6,374.4 290.1,374.5 289.5,374.9 289,374.9 288.4,375.4 287.9,375.5 287.3,375.6 286.8,375.4 286.2,375.8 285.7,376.1 285.1,376.5 284.5,376.5 284,376.9 283.4,377.2 282.9,377.6 282.3,377.5 281.8,377.4 281.2,377.4 280.7,377.7 280.1,377.8 279.6,377.9 279,378 278.5,378.5 277.9,378.9 277.4,379.1 276.8,379 276.3,379.1 275.7,379.2 275.2,379.3 274.6,379.2 274.1,379.1 273.5,379.4 273,379.8 272.4,380 271.9,380.1 271.3,380.2 270.8,380.4 270.2,380.7 269.7,380.5 269.1,380.3 268.6,380.2 268,380.5 267.5,380.6 266.9,380.7 266.4,380.7 265.8,381.2 265.3,381.4 264.7,381.5 264.2,381.2 263.6,381.3 263.1,381.2 262.5,381.4 262,381.1 261.4,381.2 260.9,381.3 260.3,381.9 259.8,381.9 259.2,382.1 258.6,381.9 258.1,382.2 257.5,382.1 257,382.1 256.4,381.6 255.9,381.9 255.3,381.9 254.8,382.3 254.2,382.1 253.7,382.4 253.1,382.4 252.6,382.9 252,382.6 251.5,382.5 250.9,382.2 250.4,382.5 249.8,382.3 249.3,382.4 248.7,382.2 248.2,382.7 247.6,382.8 247.1,383.1 246.5,382.8 246,382.9 245.4,382.8 244.9,383 244.3,382.6 243.8,382.6 243.2,382.5 242.7,383 242.1,383 241.6,383.1 241,383 240.5,383.4 239.9,383.4 239.4,383.3 238.8,382.9 238.3,382.9 237.7,382.9 237.2,383.1 236.6,383 236.1,383.1 235.5,383.3 235,383.7 234.4,383.7 233.9,383.5 233.3,383.3 232.7,383.4 232.2,383.4 231.6,383.2 231.1,383 230.5,383.2 230,383.5 229.4,383.7 228.9,383.7 228.3,383.6 227.8,383.8 227.2,383.8 226.7,383.6 226.1,383.3 225.6,383.3 225,383.4 224.5,383.6 223.9,383.5 223.4,383.6 222.8,383.8 222.3,384.2 221.7,384 221.2,383.8 220.6,383.5 220.1,383.7 219.5,383.6 219,383.6 218.4,383.3 217.9,383.7 217.3,383.9 216.8,384.2 216.2,383.9 215.7,384 215.1,383.9 214.6,384.1 214,383.7 213.5,383.6 212.9,383.4 212.4,383.8 211.8,383.8 211.3,384 210.7,383.8 210.2,384.2 209.6,384.2 209.1,384.3 208.5,383.7 208,383.8 207.4,383.7 206.9,383.9 206.3,383.6 205.7,383.8 205.2,383.8 204.6,384.4 204.1,384.3 203.5,384.3 203,383.9 202.4,384.2 201.9,384 201.3,383.9 200.8,383.5 200.2,383.8 199.7,383.9 199.1,384.3 198.6,384.1 198,384.3 197.5,384.2 196.9,384.5 196.4,384.1 195.8,384 195.3,383.7 194.7,384 194.2,384 193.6,384.1 193.1,383.9 192.5,384.3 192,384.5 191.4,384.6 190.9,384.2 190.3,384.1 189.8,384.1 189.2,384.2 188.7,383.9 188.1,383.8 187.6,383.9 187,384.3 186.5,384.5 185.9,384.4 185.4,384.3 184.8,384.4 184.3,384.4 183.7,384.2 183.2,383.9 182.6,383.8 182.1,384.1 181.5,384.2 181,384.3 180.4,384.2 179.8,384.5 179.3,384.6 178.7,384.6 178.2,384.2 177.6,384.1 177.1,384 176.5,384.2 176,384 175.4,384 174.9,384.1 174.3,384.6 173.8,384.6 173.2,384.6 172.7,384.3 172.1,384.4 171.6,384.3 171,384.2 170.5,383.8 169.9,384 169.4,384.1 168.8,384.5 168.3,384.3 167.7,384.5 167.2,384.4 166.6,384.7 166.1,384.4 165.5,384.2 165,383.8 164.4,384.2 163.9,384.1 163.3,384.2 162.8,384 162.2,384.4 161.7,384.5 161.1,384.8 160.6,384.3 160,384.3 159.5,384.1 158.9,384.4 158.4,384 157.8,384 157.3,383.9 156.7,384.4 156.2,384.4 155.6,384.6 155.1,384.3 154.5,384.6 154,384.5 153.4,384.4 152.8,383.9 152.3,384 151.7,384 151.2,384.3 150.6,384.2 150.1,384.3 149.5,384.4 149,384.7 148.4,384.6 147.9,384.4 147.3,384 146.8,384.2 146.2,384.1 145.7,384.1 145.1,383.9 144.6,384.1 144,384.4 143.5,384.7 142.9,384.5 142.4,384.4 141.8,384.4 141.3,384.4 140.7,384.2 140.2,383.9 139.6,383.9 139.1,384.1 138.5,384.4 138,384.4 137.4,384.3 136.9,384.5 136.3,384.7 135.8,384.5 135.2,384.2 134.7,384 134.1,384.1 133.6,384.1 133,384.2 132.5,384 131.9,384.3 131.4,384.5 130.8,384.7 130.3,384.4 129.7,384.3 129.2,384.2 128.6,384.4 128.1,384.1 127.5,384 126.9,383.9 126.4,384.3 125.8,384.4 125.3,384.6 124.7,384.3 124.2,384.6 123.6,384.5 123.1,384.5 122.5,384 122,384 121.4,383.9 120.9,384.3 120.3,384.1 119.8,384.3 119.2,384.3 118.7,384.8 118.1,384.6 117.6,384.5 117,384.1 116.5,384.3 115.9,384.1 115.4,384.2 114.8,383.8 114.3,384.1 113.7,384.3 113.2,384.7 112.6,384.4 112.1,384.5 111.5,384.3 111,384.6 110.4,384.2 109.9,384.1 109.3,383.8 108.8,384.2 108.2,384.2 107.7,384.4 107.1,384.2 106.6,384.5 106,384.6 105.5,384.7 104.9,384.2 104.4,384.1 103.8,384" fill="none" stroke="#008000" stroke-width="3.6" stroke-linejoin="round" stroke-linecap="butt" />
<polyline points="103.8,384.3 105.3,384 106.8,384.2 108.3,383.9 109.8,384 111.3,384.2 112.8,383.8 114.3,384.4 115.8,383.9 117.3,384.3 118.9,384.2 120.4,384 121.9,384.2 123.4,383.9 124.9,384.1 126.4,384 127.9,384.2 129.4,384 130.9,384.3 132.4,384.2 133.9,384 135.4,384.4 136.9,383.7 138.4,384.3 139.9,383.9 141.4,384 142.9,384.3 144.4,384 145.9,384.3 147.4,384.1 149,384.2 150.5,384 152,384.2 153.5,383.9 155,384 156.5,384.2 158,383.8 159.5,384.5 161,383.9 162.5,384.3 164,384.2 165.5,383.9 167,384.3 168.5,383.9 170,384.1 171.5,384 173,384.2 174.5,384 176,384.2 177.5,384.1 179,383.9 180.6,384.2 182.1,383.6 183.6,384.1 185.1,383.7 186.6,383.7 188.1,384 189.6,383.6 191.1,383.9 192.6,383.6 194.1,383.6 195.6,383.3 197.1,383.3 198.6,382.9 200.1,382.9 201.6,382.9 203.1,382.3 204.6,382.8 206,382 207.5,382.2 209,381.9 210.5,381.6 212,381.5 213.4,381.1 214.9,380.9 216.4,380.4 217.8,380.6 219.3,379.7 220.7,379.7 222.2,379.2 223.6,378.9 225,378.4 226.5,378.2 227.9,377.9 229.4,377.1 230.8,377.2 232.2,376.5 233.7,376.2 235.1,375.5 236.5,375.5 238,374.4 239.4,374.2 240.8,373.7 242.2,373.2 243.6,372.6 245.1,372.2 246.5,371.9 247.9,371.1 249.3,370.9 250.7,370.2 252.1,370 253.6,368.9 255,368.9 256.4,368 257.8,367.7 259.2,366.9 260.6,366.8 262.1,366 263.5,365.5 264.9,365.2 266.3,364.7 267.7,364.2 269.1,363.5 270.6,363.4 272,362.4 273.4,362 274.8,361.3 276.2,361.2 277.6,360.1 279,360 280.4,359.3 281.8,359 283.2,358 284.6,357.7 286,357.1 287.4,356.4 288.8,355.7 290.1,355.3 291.5,355 292.9,354.1 294.3,353.5 295.7,352.7 297,352.4 298.4,351.3 299.8,350.9 301.1,350 302.5,349.6 303.9,348.3 305.2,347.9 306.5,346.9 307.9,346.6 309.2,345.3 310.5,344.8 311.9,343.7 313.2,343.2 314.5,342.1 315.8,341.8 317.2,340.7 318.5,340.2 319.8,339.2 321.2,339.1 322.5,338 323.9,337.6 325.3,336.5 326.6,336.4 328,335.4 329.4,335.1 330.7,334.1 332.1,333.9 333.5,332.9 334.8,332.4 336.2,331.6 337.5,331.3 338.9,330.3 340.2,329.7 341.5,328.8 342.8,328.4 344.2,327.4 345.5,327 346.8,325.9 348.1,325.2 349.3,324.1 350.6,323.8 351.8,322.5 353,322.1 354.2,320.8 355.3,320 356.4,319 357.5,317.9 358.6,317 359.6,315.5 360.7,314.7 361.6,313.4 362.6,312 363.6,311.1 364.5,309.7 365.4,308.6 366.3,307.8 367.3,306.3 368.2,305.1 369.2,304.1 370.2,302.5 371.1,301.6 371.9,300.6 372.5,298.9 373.1,297.5 373.6,296.1 374,295.1 374.4,293.5 374.7,291.8 375,290.5 375.2,288.8 375.4,287.3 375.5,285.5 375.7,284 375.8,282.6 375.9,281.2 376,279.7 376.1,278.2 376.1,276.7 376.2,275.3 376.2,273.8 376.2,272.4 376.3,270.9 376.3,269.5 376.4,268 376.4,266.4 376.5,264.9 376.5,263.3 376.6,261.8 376.6,260.2 376.6,258.7 376.7,257.3 376.7,255.8 376.8,254.3 376.8,252.9 376.8,251.4 376.9,249.9 376.9,248.4 377,246.9 377,245.4 377,243.9 377.1,242.4 377.1,240.9 377.2,239.4 377.2,237.9 377.2,236.5 377.3,235 377.3,233.5 377.3,232 377.4,230.5 377.4,228.9 377.5,227.3 377.5,225.8 377.5,224.2 377.6,222.6 377.6,221.1 377.6,219.6 377.7,218 377.7,216.5 377.7,215 377.8,213.5 377.8,212 377.8,210.5 377.9,208.9 377.9,207.4 377.9,205.9 378,204.3 378,202.8 378.1,201.3 378.1,199.8 378.1,198.3 378.2,196.8 378.2,195.4 378.2,193.9 378.3,192.5 378.3,191 378.3,189.5 378.3,188 378.4,186.5 378.4,185 378.4,183.4 378.5,181.9 378.5,180.4 378.5,178.8 378.6,177.3 378.6,175.8 378.6,174.3 378.7,172.9 378.7,171.4 378.7,169.9 378.8,168.4 378.8,166.9 378.8,165.4 378.9,163.9 378.9,162.3 378.9,160.8 378.9,159.3 379,157.8 379,156.3 379,154.8 379.1,153.3 379.1,151.8 379.1,150.4 379.2,148.9 379.2,147.5 379.2,146.1 379.3,144.6 379.3,143.1 379.3,141.6 379.4,140.1 379.4,138.6 379.4,137.1 379.5,135.6 379.5,134.1 379.5,132.6 379.6,131.1 379.6,129.6 379.6,128.1 379.7,126.6 379.7,125.1 379.7,123.6 379.8,122.1 379.8,120.6 379.8,119 379.9,117.5 379.9,115.9 379.9,114.3 379.9,112.8 380,111.2 380,109.7 380,108.2 380.1,106.7 380.1,105.2 380.1,103.7 380.2,102.3 380.2,100.8 380.2,99.3 380.3,97.8 380.3,96.3 380.3,94.7 380.4,93.2 380.4,91.7 380.5,90.1 380.5,88.6 380.5,87.1 380.6,85.7 380.6,84.2 380.7,82.7 380.7,81.2 380.8,79.7 380.8,78.1 380.9,76.5 380.9,74.9 381,73.3 381,71.8 381.1,70.3 381.2,69 381.6,67.7 382.2,66.6 383.3,65.4 384.7,65.1 386.3,64.2 387.8,63.8 389.1,63 390.5,63 391.8,62 393.2,61.5 394.5,60.6 395.9,60.6 397.2,59.8 398.6,59.3 399.9,58.3 401.3,58.1 402.6,57.5 404,57.1 405.4,56.1 406.7,55.7 408.1,55.2 409.4,54.7 410.8,53.9 412.2,53.3 413.5,52.7 414.9,52 416.3,51.4 417.7,50.7 419,50.5 420.4,49.6 421.8,49 423.2,48.2 424.6,48.1 426,47.1 427.3,46.9 428.7,46 430.1,45.9 431.5,44.8 432.9,44.4 434.3,43.7 435.7,43.5 437.1,42.6 438.5,42.3 439.9,41.8 441.3,41.2 442.7,40.5 444.1,39.8 445.5,39.5 446.9,38.7 448.3,38.3 449.7,37.6 451.1,37.5 452.5,36.4 453.9,36.2 455.3,35.3 456.7,35.1 458.1,34 459.5,33.9 460.9,33.2 462.3,32.9 463.7,32 465.1,31.7 466.5,31.1 467.9,30.4 469.2,29.7 470.6,29.2 472,28.8 473.4,27.8 474.8,27.3 476.2,26.6 477.6,26.3 479,25.2 480.5,25.1 481.9,24.4 483.4,24.2 484.9,23.7 486.4,23.8 487.9,23.3 489.4,23.2 490.9,23.2 492.4,22.5 493.9,23 495.4,22.3 496.9,22.3 498.4,22.4 499.9,22 501.4,22.4 502.9,22.1 504.4,22.3 505.9,22.1 507.4,22.3 508.9,21.9 510.4,22.1 511.9,22 513.4,21.7 514.9,22.2 516.4,21.6 517.9,22.1 519.4,21.9 520.9,21.8 522.4,22 524,21.6 525.5,21.8 527,21.6 528.5,21.7 530,21.5 531.5,21.8 533,21.7 534.5,21.7 536,22 537.5,21.4 539,22 540.5,21.4 542,21.7 543.5,21.7 545,21.5 546.5,21.9 548,21.6 549.5,21.9 551,21.7 552.5,21.8 554,21.6 555.6,21.7 557.1,21.7 558.6,21.4 560.1,22 561.6,21.4 563.1,22 564.6,21.7 566.1,21.6 567.6,21.9 569.1,21.5 570.6,21.8 572.1,21.5 573.6,21.7 575.1,21.6 576.6,21.8 578.1,21.7 579.6,21.7 581.1,21.9 582.6,21.4 584.1,22 585.7,21.4 587.2,21.7 588.7,21.8 590.2,21.5 591.7,22 593.2,21.6 594.7,21.9 596.2,21.7 597.7,21.8 599.2,21.6 599.2,21.5 597.7,21.8 596.2,21.6 594.7,21.9 593.2,21.8 591.7,21.6 590.2,22 588.7,21.4 587.2,21.9 585.7,21.5 584.1,21.6 582.6,21.8 581.1,21.6 579.6,21.9 578.1,21.7 576.6,21.8 575.1,21.6 573.6,21.8 572.1,21.5 570.6,21.6 569.1,21.8 567.6,21.4 566.1,22.1 564.6,21.5 563.1,21.9 561.6,21.8 560.1,21.5 558.6,21.8 557.1,21.5 555.6,21.7 554,21.6 552.5,21.8 551,21.6 549.5,21.9 548,21.8 546.5,21.6 545,22 543.5,21.3 542,21.9 540.5,21.5 539,21.6 537.5,21.9 536,21.5 534.5,21.9 533,21.7 531.5,21.8 530,21.6 528.5,21.8 527,21.6 525.5,21.7 524,21.9 522.4,21.6 520.9,22.2 519.4,21.7 517.9,22.1 516.4,22.1 514.9,21.8 513.4,22.2 511.9,21.9 510.4,22.2 508.9,22.2 507.4,22.5 505.9,22.5 504.4,22.9 502.9,22.9 501.4,22.9 499.9,23.5 498.4,23 497,23.8 495.5,23.6 494,23.9 492.5,24.2 491,24.3 489.6,24.7 488.1,24.9 486.6,25.4 485.2,25.2 483.7,26.1 482.3,26.1 480.8,26.6 479.4,26.9 478,27.4 476.5,27.6 475.1,27.9 473.6,28.7 472.2,28.6 470.8,29.3 469.3,29.6 467.9,30.3 466.5,30.3 465,31.4 463.6,31.6 462.2,32.1 460.8,32.6 459.4,33.2 457.9,33.6 456.5,33.9 455.1,34.7 453.7,34.9 452.3,35.6 450.9,35.8 449.4,36.9 448,36.9 446.6,37.8 445.2,38.1 443.8,38.9 442.4,39 440.9,39.8 439.5,40.3 438.1,40.6 436.7,41.1 435.3,41.6 433.9,42.3 432.4,42.4 431,43.4 429.6,43.8 428.2,44.5 426.8,44.6 425.4,45.7 424,45.8 422.6,46.5 421.2,46.8 419.8,47.8 418.4,48.1 417,48.7 415.6,49.4 414.2,50.1 412.9,50.5 411.5,50.8 410.1,51.7 408.7,52.3 407.3,53.1 406,53.4 404.6,54.5 403.2,54.9 401.9,55.8 400.5,56.2 399.1,57.5 397.8,57.9 396.5,58.9 395.1,59.2 393.8,60.5 392.5,61 391.1,62.1 389.8,62.6 388.5,63.7 387.2,64 385.8,65.1 384.5,65.6 383.2,66.6 381.8,66.7 380.5,67.8 379.1,68.2 377.7,69.3 376.4,69.4 375,70.4 373.6,70.7 372.3,71.7 370.9,71.9 369.5,72.9 368.2,73.4 366.8,74.2 365.5,74.5 364.1,75.5 362.8,76.1 361.5,77 360.2,77.4 358.8,78.4 357.5,78.8 356.2,79.9 354.9,80.6 353.7,81.7 352.4,82 351.2,83.3 350,83.7 348.8,85 347.7,85.8 346.6,86.8 345.5,87.9 344.4,88.8 343.4,90.3 342.3,91.1 341.4,92.4 340.4,93.8 339.4,94.7 338.5,96.1 337.6,97.2 336.7,98 335.7,99.5 334.8,100.7 333.8,101.7 332.8,103.3 331.9,104.2 331.1,105.2 330.5,106.9 329.9,108.3 329.4,109.7 329,110.7 328.6,112.3 328.3,114 328,115.3 327.8,117 327.6,118.5 327.5,120.3 327.3,121.8 327.2,123.2 327.1,124.6 327,126.1 326.9,127.6 326.9,129.1 326.8,130.5 326.8,132 326.8,133.4 326.7,134.9 326.7,136.3 326.6,137.8 326.6,139.4 326.5,140.9 326.5,142.5 326.4,144 326.4,145.6 326.4,147.1 326.3,148.5 326.3,150 326.2,151.5 326.2,152.9 326.2,154.4 326.1,155.9 326.1,157.4 326,158.9 326,160.4 326,161.9 325.9,163.4 325.9,164.9 325.8,166.4 325.8,167.9 325.8,169.3 325.7,170.8 325.7,172.3 325.7,173.8 325.6,175.3 325.6,176.9 325.5,178.5 325.5,180 325.5,181.6 325.4,183.2 325.4,184.7 325.4,186.2 325.3,187.8 325.3,189.3 325.3,190.8 325.2,192.3 325.2,193.8 325.2,195.3 325.1,196.9 325.1,198.4 325.1,199.9 325,201.5 325,203 324.9,204.5 324.9,206 324.9,207.5 324.8,209 324.8,210.4 324.8,211.9 324.7,213.3 324.7,214.8 324.7,216.3 324.7,217.8 324.6,219.3 324.6,220.8 324.6,222.4 324.5,223.9 324.5,225.4 324.5,227 324.4,228.5 324.4,230 324.4,231.5 324.3,232.9 324.3,234.4 324.3,235.9 324.2,237.4 324.2,238.9 324.2,240.4 324.1,241.9 324.1,243.5 324.1,245 324.1,246.5 324,248 324,249.5 324,251 323.9,252.5 323.9,254 323.9,255.4 323.8,256.9 323.8,258.3 323.8,259.7 323.7,261.2 323.7,262.7 323.7,264.2 323.6,265.7 323.6,267.2 323.6,268.7 323.5,270.2 323.5,271.7 323.5,273.2 323.4,274.7 323.4,276.2 323.4,277.7 323.3,279.2 323.3,280.7 323.3,282.2 323.2,283.7 323.2,285.2 323.2,286.8 323.1,288.3 323.1,289.9 323.1,291.5 323.1,293 323,294.6 323,296.1 323,297.6 322.9,299.1 322.9,300.6 322.9,302.1 322.8,303.5 322.8,305 322.8,306.5 322.7,308 322.7,309.5 322.7,311.1 322.6,312.6 322.6,314.1 322.5,315.7 322.5,317.2 322.5,318.7 322.4,320.1 322.4,321.6 322.3,323.1 322.3,324.6 322.2,326.1 322.2,327.7 322.1,329.3 322.1,330.9 322,332.5 322,334 321.9,335.5 321.8,336.8 321.4,338.1 320.8,339.2 319.7,340.4 318.3,340.7 316.7,341.6 315.2,342 313.9,342.8 312.5,342.8 311.2,343.8 309.8,344.3 308.5,345.2 307.1,345.2 305.8,346 304.4,346.5 303.1,347.5 301.7,347.7 300.4,348.3 299,348.7 297.6,349.7 296.3,350.1 294.9,350.6 293.6,351.1 292.2,351.9 290.8,352.5 289.5,353.1 288.1,353.8 286.7,354.4 285.3,355.1 284,355.3 282.6,356.2 281.2,356.8 279.8,357.6 278.4,357.7 277,358.7 275.7,358.9 274.3,359.8 272.9,359.9 271.5,361 270.1,361.4 268.7,362.1 267.3,362.3 265.9,363.2 264.5,363.5 263.1,364 261.7,364.6 260.3,365.3 258.9,366 257.5,366.3 256.1,367.1 254.7,367.5 253.3,368.2 251.9,368.3 250.5,369.4 249.1,369.6 247.7,370.5 246.3,370.7 244.9,371.8 243.5,371.9 242.1,372.6 240.7,372.9 239.3,373.8 237.9,374.1 236.5,374.7 235.1,375.4 233.8,376.1 232.4,376.6 231,377 229.6,378 228.2,378.5 226.8,379.2 225.4,379.5 224,380.6 222.5,380.7 221.1,381.4 219.6,381.6 218.1,382.1 216.6,382 215.1,382.5 213.6,382.6 212.1,382.6 210.6,383.3 209.1,382.8 207.6,383.5 206.1,383.5 204.6,383.4 203.1,383.8 201.6,383.4 200.1,383.7 198.6,383.5 197.1,383.7 195.6,383.5 194.1,383.9 192.6,383.7 191.1,383.8 189.6,384.1 188.1,383.6 186.6,384.2 185.1,383.7 183.6,383.9 182.1,384 180.6,383.8 179,384.2 177.5,384 176,384.2 174.5,384.1 173,384.3 171.5,384 170,384.1 168.5,384.1 167,383.8 165.5,384.4 164,383.8 162.5,384.4 161,384.1 159.5,384.1 158,384.3 156.5,383.9 155,384.2 153.5,383.9 152,384.1 150.5,384 149,384.2 147.4,384.1 145.9,384.1 144.4,384.4 142.9,383.8 141.4,384.4 139.9,383.8 138.4,384.1 136.9,384.2 135.4,383.9 133.9,384.3 132.4,384 130.9,384.3 129.4,384.1 127.9,384.2 126.4,384 124.9,384.1 123.4,384.1 121.9,383.9 120.4,384.4 118.9,383.8 117.3,384.4 115.8,384.1 114.3,384 112.8,384.3 111.3,383.8 109.8,384.2 108.3,383.9 106.8,384.1 105.3,384 103.8,384.2" fill="none" stroke="#ff8000" stroke-width="3.0" stroke-linejoin="round" stroke-linecap="butt" />
</g>
<text x="95.6" y="31.9" font-size="34.2" text-anchor="end" font-weight="bold" font-style="normal" fill="#000" >1.0</text>
<text x="95.6" y="122.5" font-size="34.2" text-anchor="end" font-weight="bold" font-style="normal" fill="#000" >0.5</text>
<text x="95.6" y="213.1" font-size="34.2" text-anchor="end" font-weight="bold" font-style="normal" fill="#000" >0.0</text>
<text x="95.6" y="303.7" font-size="34.2" text-anchor="end" font-weight="bold" font-style="normal" fill="#000" >-0.5</text>
<text x="95.6" y="394.3" font-size="34.2" text-anchor="end" font-weight="bold" font-style="normal" fill="#000" >-1.0</text>
<text x="106.4" y="438" font-size="34.2" text-anchor="middle" font-weight="bold" font-style="normal" fill="#000" >-150</text>
<text x="189" y="438" font-size="34.2" text-anchor="middle" font-weight="bold" font-style="normal" fill="#000" >-100</text>
<text x="271.5" y="438" font-size="34.2" text-anchor="middle" font-weight="bold" font-style="normal" fill="#000" >-50</text>
<text x="354.1" y="438" font-size="34.2" text-anchor="middle" font-weight="bold" font-style="normal" fill="#000" >0</text>
<text x="436.7" y="438" font-size="34.2" text-anchor="middle" font-weight="bold" font-style="normal" fill="#000" >50</text>
<text x="519.2" y="438" font-size="34.2" text-anchor="middle" font-weight="bold" font-style="normal" fill="#000" >100</text>
<text x="601.8" y="438" font-size="34.2" text-anchor="middle" font-weight="bold" font-style="normal" fill="#000" >150</text>
<text x="351.5" y="481.3" font-size="33.6" text-anchor="middle" font-weight="bold" font-style="italic" fill="#000" >Applied Field - H (Oe)</text>
<text transform="translate(27.5,239.6) rotate(-90)" font-size="34.3" font-weight="bold" font-style="italic">B/B<tspan font-size="27" dy="8">S</tspan></text>
<line x1="126" y1="34.9" x2="168.8" y2="34.9" stroke="#000000" stroke-width="3.6" stroke-linecap="butt"/>
<text x="174" y="40.9" font-size="18.8" text-anchor="start" font-weight="bold" font-style="italic" fill="#000" >P = 1.6 mTorr</text>
<line x1="126" y1="58.5" x2="168.8" y2="58.5" stroke="#0000ff" stroke-width="3.6" stroke-linecap="butt"/>
<text x="174" y="64.5" font-size="18.8" text-anchor="start" font-weight="bold" font-style="italic" fill="#000" >P = 2.2 mTorr</text>
<line x1="126" y1="82.1" x2="168.8" y2="82.1" stroke="#808000" stroke-width="3.6" stroke-linecap="butt"/>
<text x="174" y="88.1" font-size="18.8" text-anchor="start" font-weight="bold" font-style="italic" fill="#000" >P = 3.0 mTorr</text>
<line x1="126" y1="105.8" x2="168.8" y2="105.8" stroke="#ff0000" stroke-width="3.6" stroke-linecap="butt"/>
<text x="174" y="111.8" font-size="18.8" text-anchor="start" font-weight="bold" font-style="italic" fill="#000" >P = 3.5 mTorr</text>
<line x1="126" y1="129.4" x2="168.8" y2="129.4" stroke="#9400d3" stroke-width="3.6" stroke-linecap="butt"/>
<text x="174" y="135.4" font-size="18.8" text-anchor="start" font-weight="bold" font-style="italic" fill="#000" >P = 3.75 mTorr</text>
<line x1="126" y1="153" x2="168.8" y2="153" stroke="#008000" stroke-width="3.6" stroke-linecap="butt"/>
<text x="174" y="159" font-size="18.8" text-anchor="start" font-weight="bold" font-style="italic" fill="#000" >P = 4.0 mTorr</text>
<line x1="126" y1="176.6" x2="168.8" y2="176.6" stroke="#ff8000" stroke-width="3.6" stroke-linecap="butt"/>
<text x="174" y="182.6" font-size="18.8" text-anchor="start" font-weight="bold" font-style="italic" fill="#000" >P = 6.2 mTorr</text>
<text transform="translate(112.5,247.8) scale(0.92,1)" font-size="49" font-weight="normal" stroke="#000" stroke-width="0.35">(a)</text>
<g id="inset">
<rect x="421.2" y="228" width="162" height="128.4" fill="#fff" stroke="none"/>
<line x1="502.2" y1="228" x2="502.2" y2="356.4" stroke="#000" stroke-width="1.3" stroke-linecap="butt"/>
<line x1="421.2" y1="291.9" x2="583.2" y2="291.9" stroke="#000" stroke-width="1.3" stroke-linecap="butt"/>
<polyline points="583.2,240.3 550,240.4 530,240.9 511.4,242.1 502.1,243.6 500.9,247 500.6,253.6 498.6,292.1 496.9,336.4 495,338.6 493.8,340.6 492.4,341.6 481.4,342.9 460,343.6 421.2,343.9 421.2,343.9 460,343.7 481.4,343.2 492.9,342.1 501.4,340.4 502.6,338.4 502.9,336.4 504.3,292.1 506.2,250 506.6,247.6 507.9,245.7 509.3,245 510,243.6 510.9,242.2 530,241 550,240.5 583.2,240.3" fill="none" stroke="#0000ff" stroke-width="1.5" stroke-linejoin="round" stroke-linecap="butt" />
<rect x="421.2" y="228" width="162" height="128.4" fill="none" stroke="#000" stroke-width="1.4"/>
<line x1="441.4" y1="356.4" x2="441.4" y2="354.6" stroke="#000" stroke-width="1.2" stroke-linecap="butt"/>
<line x1="441.4" y1="228" x2="441.4" y2="229.8" stroke="#000" stroke-width="1.2" stroke-linecap="butt"/>
<line x1="461.7" y1="356.4" x2="461.7" y2="353.4" stroke="#000" stroke-width="1.2" stroke-linecap="butt"/>
<line x1="461.7" y1="228" x2="461.7" y2="231" stroke="#000" stroke-width="1.2" stroke-linecap="butt"/>
<line x1="481.9" y1="356.4" x2="481.9" y2="354.6" stroke="#000" stroke-width="1.2" stroke-linecap="butt"/>
<line x1="481.9" y1="228" x2="481.9" y2="229.8" stroke="#000" stroke-width="1.2" stroke-linecap="butt"/>
<line x1="502.2" y1="356.4" x2="502.2" y2="353.4" stroke="#000" stroke-width="1.2" stroke-linecap="butt"/>
<line x1="502.2" y1="228" x2="502.2" y2="231" stroke="#000" stroke-width="1.2" stroke-linecap="butt"/>
<line x1="522.5" y1="356.4" x2="522.5" y2="354.6" stroke="#000" stroke-width="1.2" stroke-linecap="butt"/>
<line x1="522.5" y1="228" x2="522.5" y2="229.8" stroke="#000" stroke-width="1.2" stroke-linecap="butt"/>
<line x1="542.7" y1="356.4" x2="542.7" y2="353.4" stroke="#000" stroke-width="1.2" stroke-linecap="butt"/>
<line x1="542.7" y1="228" x2="542.7" y2="231" stroke="#000" stroke-width="1.2" stroke-linecap="butt"/>
<line x1="563" y1="356.4" x2="563" y2="354.6" stroke="#000" stroke-width="1.2" stroke-linecap="butt"/>
<line x1="563" y1="228" x2="563" y2="229.8" stroke="#000" stroke-width="1.2" stroke-linecap="butt"/>
<line x1="421.2" y1="343.4" x2="424.2" y2="343.4" stroke="#000" stroke-width="1.2" stroke-linecap="butt"/>
<line x1="583.2" y1="343.4" x2="580.2" y2="343.4" stroke="#000" stroke-width="1.2" stroke-linecap="butt"/>
<line x1="421.2" y1="330.5" x2="423" y2="330.5" stroke="#000" stroke-width="1.2" stroke-linecap="butt"/>
<line x1="583.2" y1="330.5" x2="581.4" y2="330.5" stroke="#000" stroke-width="1.2" stroke-linecap="butt"/>
<line x1="421.2" y1="317.6" x2="424.2" y2="317.6" stroke="#000" stroke-width="1.2" stroke-linecap="butt"/>
<line x1="583.2" y1="317.6" x2="580.2" y2="317.6" stroke="#000" stroke-width="1.2" stroke-linecap="butt"/>
<line x1="421.2" y1="304.8" x2="423" y2="304.8" stroke="#000" stroke-width="1.2" stroke-linecap="butt"/>
<line x1="583.2" y1="304.8" x2="581.4" y2="304.8" stroke="#000" stroke-width="1.2" stroke-linecap="butt"/>
<line x1="421.2" y1="291.9" x2="424.2" y2="291.9" stroke="#000" stroke-width="1.2" stroke-linecap="butt"/>
<line x1="583.2" y1="291.9" x2="580.2" y2="291.9" stroke="#000" stroke-width="1.2" stroke-linecap="butt"/>
<line x1="421.2" y1="279" x2="423" y2="279" stroke="#000" stroke-width="1.2" stroke-linecap="butt"/>
<line x1="583.2" y1="279" x2="581.4" y2="279" stroke="#000" stroke-width="1.2" stroke-linecap="butt"/>
<line x1="421.2" y1="266.1" x2="424.2" y2="266.1" stroke="#000" stroke-width="1.2" stroke-linecap="butt"/>
<line x1="583.2" y1="266.1" x2="580.2" y2="266.1" stroke="#000" stroke-width="1.2" stroke-linecap="butt"/>
<line x1="421.2" y1="253.3" x2="423" y2="253.3" stroke="#000" stroke-width="1.2" stroke-linecap="butt"/>
<line x1="583.2" y1="253.3" x2="581.4" y2="253.3" stroke="#000" stroke-width="1.2" stroke-linecap="butt"/>
<line x1="421.2" y1="240.4" x2="424.2" y2="240.4" stroke="#000" stroke-width="1.2" stroke-linecap="butt"/>
<line x1="583.2" y1="240.4" x2="580.2" y2="240.4" stroke="#000" stroke-width="1.2" stroke-linecap="butt"/>
<text x="417.9" y="245" font-size="13.4" text-anchor="end" font-weight="bold" font-style="normal" fill="#000" >1.0</text>
<text x="417.9" y="270.8" font-size="13.4" text-anchor="end" font-weight="bold" font-style="normal" fill="#000" >0.5</text>
<text x="417.9" y="296.5" font-size="13.4" text-anchor="end" font-weight="bold" font-style="normal" fill="#000" >0.0</text>
<text x="417.9" y="322.2" font-size="13.4" text-anchor="end" font-weight="bold" font-style="normal" fill="#000" >-0.5</text>
<text x="417.9" y="348" font-size="13.4" text-anchor="end" font-weight="bold" font-style="normal" fill="#000" >-1.0</text>
<text x="422" y="371" font-size="13.4" text-anchor="middle" font-weight="bold" font-style="normal" fill="#000" >-100</text>
<text x="462.5" y="371" font-size="13.4" text-anchor="middle" font-weight="bold" font-style="normal" fill="#000" >-50</text>
<text x="503" y="371" font-size="13.4" text-anchor="middle" font-weight="bold" font-style="normal" fill="#000" >0</text>
<text x="543.5" y="371" font-size="13.4" text-anchor="middle" font-weight="bold" font-style="normal" fill="#000" >50</text>
<text x="584" y="371" font-size="13.4" text-anchor="middle" font-weight="bold" font-style="normal" fill="#000" >100</text>
<text x="502.5" y="385.2" font-size="14.7" text-anchor="middle" font-weight="bold" font-style="italic" fill="#000" >Applied Field - H (Oe)</text>
<text transform="translate(393.2,307.2) rotate(-90)" font-size="14.5" font-weight="bold" font-style="italic">B/B<tspan font-size="11" dy="2.6">S</tspan></text>
</g>
</g>
<g id="panel-b">
<line x1="354.2" y1="506.4" x2="354.2" y2="907.1" stroke="#000" stroke-width="3" stroke-linecap="butt"/>
<line x1="104.9" y1="706.8" x2="603.5" y2="706.8" stroke="#000" stroke-width="3" stroke-linecap="butt"/>
<line x1="167.2" y1="907.1" x2="167.2" y2="902.5" stroke="#000" stroke-width="3" stroke-linecap="butt"/>
<line x1="167.2" y1="506.4" x2="167.2" y2="511" stroke="#000" stroke-width="3" stroke-linecap="butt"/>
<line x1="229.5" y1="907.1" x2="229.5" y2="899.1" stroke="#000" stroke-width="3" stroke-linecap="butt"/>
<line x1="229.5" y1="506.4" x2="229.5" y2="514.4" stroke="#000" stroke-width="3" stroke-linecap="butt"/>
<line x1="291.9" y1="907.1" x2="291.9" y2="902.5" stroke="#000" stroke-width="3" stroke-linecap="butt"/>
<line x1="291.9" y1="506.4" x2="291.9" y2="511" stroke="#000" stroke-width="3" stroke-linecap="butt"/>
<line x1="354.2" y1="907.1" x2="354.2" y2="899.1" stroke="#000" stroke-width="3" stroke-linecap="butt"/>
<line x1="354.2" y1="506.4" x2="354.2" y2="514.4" stroke="#000" stroke-width="3" stroke-linecap="butt"/>
<line x1="416.5" y1="907.1" x2="416.5" y2="902.5" stroke="#000" stroke-width="3" stroke-linecap="butt"/>
<line x1="416.5" y1="506.4" x2="416.5" y2="511" stroke="#000" stroke-width="3" stroke-linecap="butt"/>
<line x1="478.9" y1="907.1" x2="478.9" y2="899.1" stroke="#000" stroke-width="3" stroke-linecap="butt"/>
<line x1="478.9" y1="506.4" x2="478.9" y2="514.4" stroke="#000" stroke-width="3" stroke-linecap="butt"/>
<line x1="541.2" y1="907.1" x2="541.2" y2="902.5" stroke="#000" stroke-width="3" stroke-linecap="butt"/>
<line x1="541.2" y1="506.4" x2="541.2" y2="511" stroke="#000" stroke-width="3" stroke-linecap="butt"/>
<line x1="104.9" y1="806.9" x2="109.5" y2="806.9" stroke="#000" stroke-width="3" stroke-linecap="butt"/>
<line x1="603.5" y1="806.9" x2="598.9" y2="806.9" stroke="#000" stroke-width="3" stroke-linecap="butt"/>
<line x1="104.9" y1="606.6" x2="109.5" y2="606.6" stroke="#000" stroke-width="3" stroke-linecap="butt"/>
<line x1="603.5" y1="606.6" x2="598.9" y2="606.6" stroke="#000" stroke-width="3" stroke-linecap="butt"/>
<rect x="104.9" y="506.4" width="498.6" height="400.7" fill="none" stroke="#000" stroke-width="3"/>
<g clip-path="url(#cb)">
<polyline points="99.9,821.2 101.9,820.2 103.8,819.2 105.8,818 107.8,816.6 109.7,815.3 111.7,814.1 113.7,812.9 115.6,811.9 117.6,810.8 119.5,809.7 121.5,808.5 123.5,807.4 125.4,806.3 127.4,805.3 129.4,804.4 131.3,803.4 133.3,802.5 135.3,801.4 137.2,800.2 139.2,799.1 141.1,797.9 143.1,796.9 145.1,795.9 147,794.9 149,793.9 151,792.9 152.9,791.8 154.9,790.7 156.9,789.7 158.8,788.8 160.8,788 162.7,787.1 164.7,786.2 166.7,785.1 168.6,784 170.6,782.9 172.6,781.9 174.5,780.8 176.5,779.9 178.5,778.9 180.4,777.8 182.4,776.7 184.3,775.6 186.3,774.5 188.3,773.5 190.2,772.7 192.2,771.9 194.2,771.1 196.1,770.2 198.1,769.3 200.1,768.3 202,767.4 204,766.5 205.9,765.7 207.9,764.9 209.9,764.1 211.8,763.1 213.8,762.1 215.8,761.1 217.7,760.2 219.7,759.4 221.7,758.7 223.6,758 225.6,757.2 227.5,756.4 229.5,755.6 231.5,754.7 233.4,753.9 235.4,753.2 237.4,752.5 239.3,751.7 241.3,750.9 243.3,749.9 245.2,748.9 247.2,747.9 249.1,747 251.1,746.1 253.1,745.3 255,744.4 257,743.6 259,742.6 260.9,741.6 262.9,740.7 264.9,739.8 266.8,739 268.8,738.2 270.7,737.4 272.7,736.4 274.7,735.4 276.6,734.3 278.6,733.2 280.6,732.2 282.5,731.3 284.5,730.4 286.5,729.5 288.4,728.5 290.4,727.5 292.3,726.5 294.3,725.6 296.3,724.8 298.2,724.1 300.2,723.4 302.2,722.6 304.1,721.8 306.1,720.9 308.1,719.9 310,719.1 312,718.3 313.9,717.5 315.9,716.7 317.9,715.8 319.8,714.9 321.8,713.9 323.8,712.9 325.7,712.1 327.7,711.3 329.7,710.6 331.6,709.9 333.6,709.1 335.5,708.2 337.5,707.3 339.5,706.4 341.4,705.5 343.4,704.7 345.4,703.9 347.3,702.9 349.3,701.9 351.3,700.9 353.2,699.8 355.2,698.7 357.1,697.7 359.1,696.9 361.1,696 363,695.1 365,694.2 367,693.2 368.9,692.3 370.9,691.4 372.9,690.5 374.8,689.7 376.8,688.9 378.7,688 380.7,687 382.7,686 384.6,684.9 386.6,683.9 388.6,683 390.5,682.2 392.5,681.4 394.5,680.5 396.4,679.6 398.4,678.7 400.3,677.8 402.3,677 404.3,676.3 406.2,675.6 408.2,674.8 410.2,674 412.1,673.1 414.1,672 416.1,671 418,670.1 420,669.2 421.9,668.3 423.9,667.4 425.9,666.4 427.8,665.3 429.8,664.2 431.8,663.2 433.7,662.3 435.7,661.5 437.7,660.6 439.6,659.8 441.6,658.8 443.5,657.7 445.5,656.6 447.5,655.5 449.4,654.5 451.4,653.6 453.4,652.6 455.3,651.6 457.3,650.5 459.3,649.3 461.2,648.2 463.2,647.2 465.1,646.3 467.1,645.5 469.1,644.7 471,643.9 473,643 475,642.1 476.9,641.2 478.9,640.4 480.9,639.6 482.8,638.9 484.8,638.1 486.7,637.2 488.7,636.2 490.7,635.2 492.6,634.3 494.6,633.4 496.6,632.6 498.5,631.8 500.5,631 502.5,630.1 504.4,629.2 506.4,628.2 508.3,627.3 510.3,626.4 512.3,625.6 514.2,624.8 516.2,623.8 518.2,622.8 520.1,621.6 522.1,620.5 524.1,619.3 526,618.3 528,617.3 529.9,616.3 531.9,615.2 533.9,614.2 535.8,613.1 537.8,612 539.8,611 541.7,610.2 543.7,609.4 545.7,608.5 547.6,607.7 549.6,606.7 551.5,605.7 553.5,604.7 555.5,603.7 557.4,602.9 559.4,602 561.4,601.1 563.3,600.2 565.3,599.2 567.3,598.2 569.2,597.3 571.2,596.5 573.1,595.7 575.1,595 577.1,594.2 579,593.4 581,592.5 583,591.5 584.9,590.6 586.9,589.7 588.9,588.9 590.8,588.1 592.8,587.1 594.7,586.1 596.7,585.1 598.7,584 600.6,583.1 602.6,582.2 604.6,581.4 606.5,580.6 608.5,579.7" fill="none" stroke="#000000" stroke-width="2.6" stroke-linejoin="round" stroke-linecap="butt" />
<polyline points="99.9,833.5 101.9,832.6 103.8,831.7 105.8,830.5 107.8,829.2 109.7,828.1 111.7,827 113.7,826 115.6,824.9 117.6,823.8 119.5,822.7 121.5,821.4 123.5,820.2 125.4,819.1 127.4,818 129.4,816.9 131.3,815.8 133.3,814.6 135.3,813.3 137.2,812.1 139.2,810.9 141.1,809.8 143.1,808.9 145.1,808 147,807 149,806.1 151,805.1 152.9,804.1 154.9,803.2 156.9,802.4 158.8,801.6 160.8,800.8 162.7,799.9 164.7,799 166.7,798 168.6,797 170.6,796 172.6,795.2 174.5,794.4 176.5,793.6 178.5,792.8 180.4,791.9 182.4,790.9 184.3,790 186.3,789.1 188.3,788.3 190.2,787.5 192.2,786.6 194.2,785.6 196.1,784.5 198.1,783.4 200.1,782.2 202,781.1 204,780.1 205.9,779.1 207.9,778.1 209.9,777 211.8,775.8 213.8,774.7 215.8,773.7 217.7,772.7 219.7,771.9 221.7,771 223.6,770.1 225.6,769.2 227.5,768.1 229.5,767.1 231.5,766.1 233.4,765.1 235.4,764.2 237.4,763.3 239.3,762.4 241.3,761.4 243.3,760.4 245.2,759.4 247.2,758.5 249.1,757.7 251.1,757 253.1,756.3 255,755.5 257,754.7 259,753.9 260.9,753 262.9,752.2 264.9,751.5 266.8,750.8 268.8,750 270.7,749.2 272.7,748.3 274.7,747.4 276.6,746.5 278.6,745.7 280.6,745 282.5,744.4 284.5,743.7 286.5,743 288.4,742.2 290.4,741.4 292.3,740.6 294.3,739.8 296.3,739.1 298.2,738.4 300.2,737.6 302.2,736.6 304.1,735.6 306.1,734.5 308.1,733.5 310,732.6 312,731.7 313.9,730.8 315.9,729.9 317.9,728.9 319.8,727.9 321.8,726.9 323.8,726 325.7,725.2 327.7,724.4 329.7,723.6 331.6,722.7 333.6,721.7 335.5,720.6 337.5,719.6 339.5,718.6 341.4,717.7 343.4,716.8 345.4,715.9 347.3,714.9 349.3,713.9 351.3,712.9 353.2,712 355.2,711.2 357.1,710.4 359.1,709.7 361.1,709 363,708.1 365,707.2 367,706.2 368.9,705.3 370.9,704.4 372.9,703.5 374.8,702.7 376.8,701.7 378.7,700.7 380.7,699.7 382.7,698.7 384.6,697.7 386.6,696.9 388.6,696.2 390.5,695.4 392.5,694.7 394.5,693.8 396.4,693 398.4,692.1 400.3,691.3 402.3,690.5 404.3,689.8 406.2,689 408.2,688.2 410.2,687.2 412.1,686.3 414.1,685.3 416.1,684.5 418,683.7 420,683.1 421.9,682.4 423.9,681.6 425.9,680.8 427.8,680 429.8,679.3 431.8,678.5 433.7,677.9 435.7,677.2 437.7,676.5 439.6,675.7 441.6,674.8 443.5,673.9 445.5,672.9 447.5,672.1 449.4,671.3 451.4,670.6 453.4,669.8 455.3,668.9 457.3,668 459.3,667.1 461.2,666.3 463.2,665.5 465.1,664.8 467.1,664.1 469.1,663.3 471,662.3 473,661.4 475,660.3 476.9,659.4 478.9,658.5 480.9,657.6 482.8,656.7 484.8,655.8 486.7,654.7 488.7,653.7 490.7,652.7 492.6,651.8 494.6,651 496.6,650.2 498.5,649.3 500.5,648.4 502.5,647.4 504.4,646.3 506.4,645.2 508.3,644.1 510.3,643.1 512.3,642.1 514.2,641 516.2,639.9 518.2,638.7 520.1,637.4 522.1,636.3 524.1,635.2 526,634.2 528,633.2 529.9,632.2 531.9,631 533.9,629.8 535.8,628.6 537.8,627.5 539.8,626.4 541.7,625.3 543.7,624.1 545.7,622.9 547.6,621.7 549.6,620.3 551.5,619 553.5,617.7 555.5,616.6 557.4,615.5 559.4,614.4 561.4,613.3 563.3,612.2 565.3,611 567.3,609.9 569.2,608.8 571.2,607.9 573.1,606.9 575.1,605.9 577.1,604.8 579,603.7 581,602.5 583,601.3 584.9,600.2 586.9,599.1 588.9,598.1 590.8,597.1 592.8,596 594.7,594.9 596.7,593.8 598.7,592.8 600.6,591.8 602.6,590.9 604.6,590.1 606.5,589.3 608.5,588.4" fill="none" stroke="#000000" stroke-width="2.6" stroke-linejoin="round" stroke-linecap="butt" />
<polyline points="99.9,859 101.9,857.9 103.8,856.8 105.8,855.8 107.8,854.9 109.7,854 111.7,853.1 113.7,852.1 115.6,851.1 117.6,850.2 119.5,849.2 121.5,848.3 123.5,847.5 125.4,846.7 127.4,845.7 129.4,844.7 131.3,843.6 133.3,842.4 135.3,841.4 137.2,840.4 139.2,839.5 141.1,838.6 143.1,837.6 145.1,836.6 147,835.5 149,834.5 151,833.5 152.9,832.6 154.9,831.7 156.9,830.7 158.8,829.7 160.8,828.5 162.7,827.3 164.7,826.1 166.7,824.9 168.6,823.8 170.6,822.8 172.6,821.7 174.5,820.5 176.5,819.3 178.5,818.2 180.4,817.1 182.4,816.1 184.3,815.2 186.3,814.3 188.3,813.4 190.2,812.5 192.2,811.4 194.2,810.4 196.1,809.4 198.1,808.5 200.1,807.5 202,806.6 204,805.5 205.9,804.4 207.9,803.3 209.9,802.1 211.8,801.1 213.8,800.1 215.8,799.2 217.7,798.3 219.7,797.2 221.7,796 223.6,794.6 225.6,793.2 227.5,791.7 229.5,790.1 231.5,788.4 233.4,786.6 235.4,784.6 237.4,782.4 239.3,780.3 241.3,778.2 243.3,776.1 245.2,774.3 247.2,772.4 249.1,770.5 251.1,768.5 253.1,766.4 255,764.3 257,762.3 259,760.3 260.9,758.4 262.9,756.6 264.9,754.6 266.8,752.6 268.8,750.5 270.7,748.4 272.7,746.3 274.7,744.4 276.6,742.5 278.6,740.6 280.6,738.7 282.5,736.7 284.5,734.7 286.5,732.6 288.4,730.6 290.4,728.6 292.3,726.6 294.3,724.7 296.3,722.7 298.2,720.7 300.2,718.8 302.2,717 304.1,715.5 306.1,714.2 308.1,712.9 310,711.7 312,710.5 313.9,709.3 315.9,708.2 317.9,707 319.8,706 321.8,705.1 323.8,704.2 325.7,703.2 327.7,702 329.7,700.8 331.6,699.5 333.6,698.2 335.5,697 337.5,695.8 339.5,694.6 341.4,693.3 343.4,692 345.4,690.6 347.3,689.2 349.3,687.9 351.3,686.7 353.2,685.7 355.2,684.6 357.1,683.5 359.1,682.4 361.1,681.2 363,680 365,678.9 367,677.9 368.9,676.9 370.9,675.9 372.9,674.7 374.8,673.5 376.8,672.3 378.7,671.1 380.7,670 382.7,668.9 384.6,667.9 386.6,666.9 388.6,665.9 390.5,664.8 392.5,663.7 394.5,662.6 396.4,661.6 398.4,660.7 400.3,659.7 402.3,658.7 404.3,657.6 406.2,656.4 408.2,655.2 410.2,654 412.1,652.8 414.1,651.7 416.1,650.7 418,649.6 420,648.4 421.9,647.2 423.9,646 425.9,644.9 427.8,643.9 429.8,643 431.8,642 433.7,640.9 435.7,639.8 437.7,638.6 439.6,637.4 441.6,636.2 443.5,635.1 445.5,634.1 447.5,633 449.4,631.8 451.4,630.6 453.4,629.4 455.3,628.3 457.3,627.2 459.3,626.3 461.2,625.4 463.2,624.5 465.1,623.6 467.1,622.5 469.1,621.5 471,620.4 473,619.4 475,618.5 476.9,617.6 478.9,616.6 480.9,615.6 482.8,614.4 484.8,613.3 486.7,612.3 488.7,611.3 490.7,610.4 492.6,609.5 494.6,608.6 496.6,607.7 498.5,606.7 500.5,605.6 502.5,604.7 504.4,603.8 506.4,602.9 508.3,601.9 510.3,600.9 512.3,599.8 514.2,598.6 516.2,597.4 518.2,596.3 520.1,595.3 522.1,594.3 524.1,593.4 526,592.4 528,591.3 529.9,590.3 531.9,589.3 533.9,588.4 535.8,587.5 537.8,586.7 539.8,585.8 541.7,584.9 543.7,583.8 545.7,582.8 547.6,581.7 549.6,580.8 551.5,579.9 553.5,579 555.5,578.1 557.4,577.1 559.4,576.1 561.4,575.1 563.3,574.2 565.3,573.4 567.3,572.6 569.2,571.8 571.2,571 573.1,570.1 575.1,569.1 577.1,568.1 579,567.1 581,566.1 583,565.2 584.9,564.3 586.9,563.3 588.9,562.3 590.8,561.2 592.8,560.1 594.7,559.2 596.7,558.3 598.7,557.6 600.6,556.8 602.6,556 604.6,555 606.5,554 608.5,553" fill="none" stroke="#0000ff" stroke-width="2.6" stroke-linejoin="round" stroke-linecap="butt" />
<polyline points="99.9,860.8 101.9,859.7 103.8,858.8 105.8,858 107.8,857.1 109.7,856.3 111.7,855.3 113.7,854.2 115.6,853.1 117.6,852 119.5,851 121.5,850 123.5,849 125.4,847.9 127.4,846.8 129.4,845.6 131.3,844.5 133.3,843.4 135.3,842.5 137.2,841.6 139.2,840.7 141.1,839.8 143.1,838.8 145.1,837.8 147,836.7 149,835.8 151,834.8 152.9,833.9 154.9,832.9 156.9,831.9 158.8,830.8 160.8,829.6 162.7,828.5 164.7,827.4 166.7,826.4 168.6,825.5 170.6,824.6 172.6,823.6 174.5,822.6 176.5,821.5 178.5,820.5 180.4,819.5 182.4,818.6 184.3,817.7 186.3,816.7 188.3,815.6 190.2,814.4 192.2,813.2 194.2,812 196.1,810.9 198.1,809.8 200.1,808.8 202,807.8 204,806.7 205.9,805.6 207.9,804.5 209.9,803.5 211.8,802.6 213.8,801.7 215.8,800.8 217.7,799.9 219.7,798.8 221.7,797.8 223.6,796.7 225.6,795.7 227.5,794.8 229.5,793.9 231.5,793.1 233.4,792.2 235.4,791.2 237.4,790.3 239.3,789.4 241.3,788.5 243.3,787.8 245.2,787 247.2,786.3 249.1,785.4 251.1,784.5 253.1,783.5 255,782.5 257,781.5 259,780.6 260.9,779.6 262.9,778.6 264.9,777.4 266.8,776.1 268.8,774.8 270.7,773.5 272.7,772.3 274.7,771.1 276.6,770 278.6,768.8 280.6,767.6 282.5,766.4 284.5,765.3 286.5,764.2 288.4,763.2 290.4,762.2 292.3,761.2 294.3,760.2 296.3,759.1 298.2,757.9 300.2,756.8 302.2,755.7 304.1,754.7 306.1,753.8 308.1,752.9 310,751.9 312,751 313.9,750 315.9,749 317.9,748.1 319.8,747.3 321.8,746.4 323.8,745.6 325.7,744.6 327.7,743.4 329.7,742.3 331.6,741.1 333.6,740 335.5,738.9 337.5,737.9 339.5,736.8 341.4,735.6 343.4,734.4 345.4,733.3 347.3,732.1 349.3,731.1 351.3,730.1 353.2,729.1 355.2,728 357.1,726.9 359.1,725.7 361.1,724.5 363,723.3 365,722.1 367,721 368.9,719.8 370.9,718.5 372.9,717.1 374.8,715.6 376.8,714 378.7,712.4 380.7,710.8 382.7,709.2 384.6,707.5 386.6,705.7 388.6,703.8 390.5,701.8 392.5,699.7 394.5,697.7 396.4,695.7 398.4,693.6 400.3,691.4 402.3,689 404.3,686.6 406.2,684 408.2,681.5 410.2,679 412.1,676.6 414.1,674.3 416.1,671.7 418,668.9 420,666 421.9,663 423.9,660 425.9,657.1 427.8,654.3 429.8,651.7 431.8,649.2 433.7,646.9 435.7,644.6 437.7,642.4 439.6,640.3 441.6,638.4 443.5,636.6 445.5,634.9 447.5,633.3 449.4,631.7 451.4,630.3 453.4,628.9 455.3,627.8 457.3,626.8 459.3,626 461.2,625.1 463.2,624.3 465.1,623.3 467.1,622.4 469.1,621.4 471,620.5 473,619.6 475,618.7 476.9,617.7 478.9,616.8 480.9,615.8 482.8,614.7 484.8,613.8 486.7,612.9 488.7,612.1 490.7,611.4 492.6,610.6 494.6,609.6 496.6,608.6 498.5,607.6 500.5,606.6 502.5,605.6 504.4,604.7 506.4,603.8 508.3,602.8 510.3,601.8 512.3,600.7 514.2,599.6 516.2,598.6 518.2,597.6 520.1,596.8 522.1,595.9 524.1,595 526,594 528,592.9 529.9,591.8 531.9,590.7 533.9,589.7 535.8,588.8 537.8,587.7 539.8,586.6 541.7,585.5 543.7,584.3 545.7,583.1 547.6,582.1 549.6,581.1 551.5,580.3 553.5,579.4 555.5,578.5 557.4,577.5 559.4,576.5 561.4,575.6 563.3,574.7 565.3,573.9 567.3,573.1 569.2,572.3 571.2,571.3 573.1,570.3 575.1,569.3 577.1,568.3 579,567.4 581,566.5 583,565.8 584.9,564.9 586.9,564.1 588.9,563.1 590.8,562.2 592.8,561.4 594.7,560.7 596.7,560 598.7,559.2 600.6,558.4 602.6,557.5 604.6,556.4 606.5,555.3 608.5,554.2" fill="none" stroke="#0000ff" stroke-width="2.6" stroke-linejoin="round" stroke-linecap="butt" />
<polyline points="99.9,884.4 101.9,883.9 103.8,883.3 105.8,882.6 107.8,881.7 109.7,880.8 111.7,879.9 113.7,879.1 115.6,878.3 117.6,877.3 119.5,876.3 121.5,875.1 123.5,873.9 125.4,872.8 127.4,871.6 129.4,870.6 131.3,869.5 133.3,868.4 135.3,867.2 137.2,865.9 139.2,864.6 141.1,863.4 143.1,862.1 145.1,860.9 147,859.6 149,858.2 151,856.7 152.9,855 154.9,853.3 156.9,851.7 158.8,850.1 160.8,848.6 162.7,847 164.7,845.3 166.7,843.5 168.6,841.7 170.6,839.9 172.6,838.1 174.5,836.5 176.5,834.9 178.5,833.3 180.4,831.8 182.4,830.2 184.3,828.6 186.3,827 188.3,825.5 190.2,824.1 192.2,822.8 194.2,821.4 196.1,819.9 198.1,818.4 200.1,816.9 202,815.4 204,813.9 205.9,812.5 207.9,811.1 209.9,809.6 211.8,807.9 213.8,806.3 215.8,804.6 217.7,803 219.7,801.6 221.7,800.3 223.6,799 225.6,797.7 227.5,796.3 229.5,795 231.5,793.6 233.4,792.3 235.4,791 237.4,789.8 239.3,788.5 241.3,787.2 243.3,785.8 245.2,784.3 247.2,782.8 249.1,781.4 251.1,779.9 253.1,778.4 255,776.8 257,775 259,773.1 260.9,771.1 262.9,769 264.9,767 266.8,765.2 268.8,763.3 270.7,761.6 272.7,759.8 274.7,758 276.6,756.1 278.6,754.3 280.6,752.7 282.5,751 284.5,749.5 286.5,747.9 288.4,746.2 290.4,744.5 292.3,742.9 294.3,741.3 296.3,739.8 298.2,738.4 300.2,737 302.2,735.6 304.1,734.1 306.1,732.5 308.1,731 310,729.6 312,728.2 313.9,726.9 315.9,725.5 317.9,724.1 319.8,722.5 321.8,720.9 323.8,719.3 325.7,717.8 327.7,716.4 329.7,715 331.6,713.5 333.6,712 335.5,710.4 337.5,708.7 339.5,707 341.4,705.3 343.4,703.4 345.4,701.5 347.3,699.5 349.3,697.5 351.3,695.5 353.2,693.7 355.2,692.2 357.1,690.9 359.1,689.7 361.1,688.5 363,687.4 365,686.2 367,685 368.9,683.9 370.9,682.8 372.9,681.8 374.8,680.9 376.8,679.9 378.7,678.9 380.7,677.8 382.7,676.6 384.6,675.4 386.6,674.3 388.6,673.2 390.5,672.2 392.5,671.1 394.5,669.9 396.4,668.6 398.4,667.2 400.3,665.9 402.3,664.6 404.3,663.4 406.2,662.3 408.2,661.1 410.2,659.9 412.1,658.7 414.1,657.5 416.1,656.3 418,655.1 420,654.1 421.9,653.1 423.9,652 425.9,650.8 427.8,649.6 429.8,648.3 431.8,647 433.7,645.8 435.7,644.7 437.7,643.6 439.6,642.5 441.6,641.3 443.5,640 445.5,638.8 447.5,637.7 449.4,636.7 451.4,635.7 453.4,634.7 455.3,633.7 457.3,632.6 459.3,631.5 461.2,630.3 463.2,629.2 465.1,628.1 467.1,627.1 469.1,626.1 471,625.1 473,624 475,622.8 476.9,621.8 478.9,620.8 480.9,619.9 482.8,619 484.8,618.1 486.7,617.2 488.7,616.1 490.7,615 492.6,613.9 494.6,612.9 496.6,611.8 498.5,610.8 500.5,609.7 502.5,608.5 504.4,607.2 506.4,605.9 508.3,604.7 510.3,603.6 512.3,602.6 514.2,601.6 516.2,600.6 518.2,599.6 520.1,598.6 522.1,597.5 524.1,596.6 526,595.7 528,594.8 529.9,594 531.9,593 533.9,592 535.8,590.9 537.8,589.8 539.8,588.8 541.7,587.9 543.7,587 545.7,586.1 547.6,585.2 549.6,584.2 551.5,583.2 553.5,582.2 555.5,581.4 557.4,580.5 559.4,579.7 561.4,578.9 563.3,577.9 565.3,576.9 567.3,575.8 569.2,574.7 571.2,573.7 573.1,572.7 575.1,571.8 577.1,570.8 579,569.8 581,568.7 583,567.7 584.9,566.7 586.9,565.8 588.9,565 590.8,564.3 592.8,563.5 594.7,562.6 596.7,561.6 598.7,560.7 600.6,559.7 602.6,558.9 604.6,558.1 606.5,557.3 608.5,556.4" fill="none" stroke="#808000" stroke-width="2.6" stroke-linejoin="round" stroke-linecap="butt" />
<polyline points="99.9,853.6 101.9,852.7 103.8,851.7 105.8,850.6 107.8,849.4 109.7,848.3 111.7,847.3 113.7,846.3 115.6,845.2 117.6,844.2 119.5,843.1 121.5,842 123.5,840.9 125.4,840 127.4,839.2 129.4,838.4 131.3,837.6 133.3,836.7 135.3,835.8 137.2,834.8 139.2,833.8 141.1,833 143.1,832.1 145.1,831.3 147,830.4 149,829.5 151,828.5 152.9,827.5 154.9,826.5 156.9,825.7 158.8,825 160.8,824.3 162.7,823.5 164.7,822.7 166.7,821.8 168.6,820.9 170.6,820.1 172.6,819.3 174.5,818.5 176.5,817.7 178.5,816.8 180.4,815.8 182.4,814.8 184.3,813.8 186.3,812.9 188.3,812.2 190.2,811.5 192.2,810.8 194.2,810.1 196.1,809.3 198.1,808.5 200.1,807.8 202,807.1 204,806.5 205.9,805.9 207.9,805.3 209.9,804.5 211.8,803.6 213.8,802.7 215.8,801.9 217.7,801.1 219.7,800.3 221.7,799.5 223.6,798.7 225.6,797.9 227.5,796.9 229.5,796 231.5,795.1 233.4,794.2 235.4,793.4 237.4,792.6 239.3,791.6 241.3,790.6 243.3,789.4 245.2,788.2 247.2,787 249.1,785.9 251.1,784.8 253.1,783.7 255,782.4 257,781.1 259,779.8 260.9,778.5 262.9,777.3 264.9,776.1 266.8,775 268.8,773.8 270.7,772.5 272.7,771.1 274.7,769.7 276.6,768.2 278.6,766.8 280.6,765.4 282.5,764 284.5,762.5 286.5,761 288.4,759.4 290.4,757.8 292.3,756.3 294.3,754.9 296.3,753.6 298.2,752.4 300.2,751.1 302.2,749.9 304.1,748.5 306.1,747.3 308.1,746 310,744.9 312,743.8 313.9,742.7 315.9,741.6 317.9,740.3 319.8,739 321.8,737.7 323.8,736.5 325.7,735.4 327.7,734.3 329.7,733.2 331.6,732.1 333.6,730.8 335.5,729.6 337.5,728.3 339.5,727.1 341.4,725.9 343.4,724.7 345.4,723.4 347.3,722 349.3,720.4 351.3,718.8 353.2,717.1 355.2,715.4 357.1,713.6 359.1,711.8 361.1,709.8 363,708 365,706.2 367,704.7 368.9,703.3 370.9,702 372.9,700.9 374.8,699.7 376.8,698.5 378.7,697 380.7,695.3 382.7,693.5 384.6,691.7 386.6,689.9 388.6,688.1 390.5,686.4 392.5,684.6 394.5,682.7 396.4,680.9 398.4,679 400.3,677.3 402.3,675.6 404.3,674.1 406.2,672.5 408.2,670.9 410.2,669.1 412.1,667.4 414.1,665.6 416.1,663.9 418,662.2 420,660.5 421.9,658.8 423.9,656.9 425.9,655 427.8,653 429.8,651 431.8,649.2 433.7,647.5 435.7,645.8 437.7,644.2 439.6,642.6 441.6,640.9 443.5,639.2 445.5,637.6 447.5,636.1 449.4,634.6 451.4,633.1 453.4,631.5 455.3,629.8 457.3,628.1 459.3,626.4 461.2,624.8 463.2,623.3 465.1,622 467.1,620.8 469.1,619.6 471,618.4 473,617.2 475,616.1 476.9,615 478.9,614 480.9,613 482.8,612 484.8,610.9 486.7,609.8 488.7,608.5 490.7,607.3 492.6,606.1 494.6,604.9 496.6,603.8 498.5,602.6 500.5,601.4 502.5,600.1 504.4,598.8 506.4,597.5 508.3,596.4 510.3,595.3 512.3,594.3 514.2,593.2 516.2,592.1 518.2,590.8 520.1,589.5 522.1,588.3 524.1,587 526,585.8 528,584.6 529.9,583.3 531.9,582 533.9,580.6 535.8,579.3 537.8,578 539.8,576.8 541.7,575.8 543.7,574.7 545.7,573.6 547.6,572.5 549.6,571.3 551.5,570.1 553.5,569 555.5,568 557.4,567 559.4,565.9 561.4,564.8 563.3,563.6 565.3,562.4 567.3,561.2 569.2,560.1 571.2,559 573.1,558.1 575.1,557.1 577.1,556.1 579,555 581,553.9 583,552.9 584.9,551.9 586.9,550.9 588.9,550 590.8,549 592.8,547.9 594.7,546.7 596.7,545.4 598.7,544.2 600.6,543.1 602.6,542.1 604.6,541.2 606.5,540.4 608.5,539.6" fill="none" stroke="#808000" stroke-width="2.6" stroke-linejoin="round" stroke-linecap="butt" />
<polyline points="99.9,886.2 101.9,885.2 103.8,884.3 105.8,883.4 107.8,882.6 109.7,881.8 111.7,880.9 113.7,879.9 115.6,878.9 117.6,877.9 119.5,877 121.5,876.2 123.5,875.4 125.4,874.6 127.4,873.8 129.4,872.8 131.3,871.8 133.3,870.8 135.3,869.9 137.2,869 139.2,868.1 141.1,867.2 143.1,866.1 145.1,865 147,863.8 149,862.6 151,861.6 152.9,860.6 154.9,859.6 156.9,858.6 158.8,857.6 160.8,856.5 162.7,855.4 164.7,854.4 166.7,853.5 168.6,852.6 170.6,851.7 172.6,850.8 174.5,849.7 176.5,848.6 178.5,847.5 180.4,846.5 182.4,845.5 184.3,844.7 186.3,843.8 188.3,842.9 190.2,841.9 192.2,840.9 194.2,839.9 196.1,839.1 198.1,838.3 200.1,837.5 202,836.7 204,835.8 205.9,834.8 207.9,833.8 209.9,832.7 211.8,831.7 213.8,830.8 215.8,829.8 217.7,828.8 219.7,827.8 221.7,826.7 223.6,825.5 225.6,824.5 227.5,823.4 229.5,822.4 231.5,821.4 233.4,820.2 235.4,818.8 237.4,817.3 239.3,815.7 241.3,814 243.3,812.3 245.2,810.6 247.2,808.8 249.1,806.7 251.1,804.3 253.1,801.6 255,798.4 257,795 259,791.5 260.9,787.8 262.9,783.7 264.9,779.1 266.8,774.4 268.8,769.8 270.7,765.1 272.7,760.5 274.7,755.9 276.6,751.6 278.6,747.4 280.6,743.2 282.5,739.1 284.5,735.1 286.5,731.5 288.4,728.2 290.4,725.1 292.3,722.1 294.3,719.1 296.3,716 298.2,712.7 300.2,709.5 302.2,706.4 304.1,703.6 306.1,701.2 308.1,698.9 310,696.6 312,694.3 313.9,691.9 315.9,689.7 317.9,687.6 319.8,685.6 321.8,683.8 323.8,682.1 325.7,680.4 327.7,678.8 329.7,677.3 331.6,675.9 333.6,674.6 335.5,673.6 337.5,672.6 339.5,671.7 341.4,670.7 343.4,669.6 345.4,668.5 347.3,667.4 349.3,666.3 351.3,665.2 353.2,664.1 355.2,663 357.1,661.7 359.1,660.3 361.1,658.9 363,657.5 365,656.2 367,655 368.9,653.8 370.9,652.6 372.9,651.3 374.8,650 376.8,648.6 378.7,647.3 380.7,646.1 382.7,645 384.6,643.8 386.6,642.5 388.6,641.2 390.5,639.8 392.5,638.4 394.5,637.1 396.4,635.9 398.4,634.8 400.3,633.7 402.3,632.6 404.3,631.4 406.2,630.2 408.2,629.1 410.2,628 412.1,626.9 414.1,625.9 416.1,624.9 418,623.8 420,622.7 421.9,621.4 423.9,620.2 425.9,619.1 427.8,618.1 429.8,617.1 431.8,616.1 433.7,615.1 435.7,614 437.7,612.9 439.6,611.9 441.6,611 443.5,610.1 445.5,609.3 447.5,608.4 449.4,607.4 451.4,606.2 453.4,605.1 455.3,603.9 457.3,602.8 459.3,601.8 461.2,600.7 463.2,599.6 465.1,598.3 467.1,597 469.1,595.7 471,594.5 473,593.3 475,592.1 476.9,591 478.9,589.8 480.9,588.5 482.8,587.1 484.8,585.8 486.7,584.5 488.7,583.2 490.7,582.1 492.6,580.9 494.6,579.7 496.6,578.5 498.5,577.2 500.5,576.1 502.5,575 504.4,574.1 506.4,573.2 508.3,572.3 510.3,571.4 512.3,570.4 514.2,569.4 516.2,568.4 518.2,567.4 520.1,566.5 522.1,565.6 524.1,564.6 526,563.6 528,562.4 529.9,561.3 531.9,560.2 533.9,559.2 535.8,558.2 537.8,557.3 539.8,556.3 541.7,555.3 543.7,554.2 545.7,553.2 547.6,552.2 549.6,551.2 551.5,550.3 553.5,549.3 555.5,548.3 557.4,547.1 559.4,545.8 561.4,544.6 563.3,543.3 565.3,542.2 567.3,541.2 569.2,540.2 571.2,539.2 573.1,538.2 575.1,537.1 577.1,536.2 579,535.3 581,534.6 583,533.9 584.9,533.2 586.9,532.4 588.9,531.5 590.8,530.6 592.8,529.7 594.7,529 596.7,528.3 598.7,527.6 600.6,526.9 602.6,526.2 604.6,525.3 606.5,524.3 608.5,523.4" fill="none" stroke="#ff0000" stroke-width="2.6" stroke-linejoin="round" stroke-linecap="butt" />
<polyline points="99.9,894.8 101.9,893.8 103.8,892.8 105.8,891.9 107.8,891 109.7,890.1 111.7,889.2 113.7,888.2 115.6,887.3 117.6,886.5 119.5,885.7 121.5,885 123.5,884.3 125.4,883.4 127.4,882.5 129.4,881.6 131.3,880.6 133.3,879.6 135.3,878.8 137.2,877.9 139.2,877 141.1,876.1 143.1,875.1 145.1,874 147,873.1 149,872.2 151,871.3 152.9,870.5 154.9,869.7 156.9,868.8 158.8,867.7 160.8,866.6 162.7,865.6 164.7,864.6 166.7,863.6 168.6,862.6 170.6,861.5 172.6,860.4 174.5,859.2 176.5,858 178.5,856.9 180.4,855.9 182.4,855 184.3,854.1 186.3,853.2 188.3,852.3 190.2,851.3 192.2,850.3 194.2,849.4 196.1,848.6 198.1,847.7 200.1,846.9 202,846 204,845 205.9,843.9 207.9,842.9 209.9,841.9 211.8,841.1 213.8,840.2 215.8,839.4 217.7,838.5 219.7,837.5 221.7,836.5 223.6,835.5 225.6,834.6 227.5,833.7 229.5,832.7 231.5,831.8 233.4,830.6 235.4,829.4 237.4,828.1 239.3,826.8 241.3,825.6 243.3,824.4 245.2,823.3 247.2,822 249.1,820.7 251.1,819.4 253.1,818 255,816.8 257,815.6 259,814.4 260.9,813.3 262.9,812 264.9,810.7 266.8,809.3 268.8,807.9 270.7,806.5 272.7,805.1 274.7,803.8 276.6,802.4 278.6,801 280.6,799.5 282.5,798 284.5,796.5 286.5,795.2 288.4,793.9 290.4,792.7 292.3,791.4 294.3,790.1 296.3,788.8 298.2,787.3 300.2,786 302.2,784.6 304.1,783.3 306.1,782 308.1,780.7 310,779.3 312,777.8 313.9,776.2 315.9,774.8 317.9,773.4 319.8,772.1 321.8,770.8 323.8,769.5 325.7,768.1 327.7,766.7 329.7,765.2 331.6,763.8 333.6,762.4 335.5,761.1 337.5,759.7 339.5,758.2 341.4,756.7 343.4,755 345.4,753.3 347.3,751.7 349.3,750.2 351.3,748.7 353.2,747.3 355.2,745.8 357.1,744.2 359.1,742.6 361.1,741.1 363,739.7 365,738.3 367,736.9 368.9,735.4 370.9,733.7 372.9,731.9 374.8,730 376.8,728.1 378.7,726.2 380.7,724.2 382.7,722 384.6,719.6 386.6,716.6 388.6,713.1 390.5,709.5 392.5,706 394.5,702.9 396.4,699.9 398.4,697 400.3,694 402.3,690.9 404.3,687.8 406.2,684.6 408.2,681.4 410.2,678.3 412.1,675.1 414.1,672 416.1,668.7 418,665.5 420,662.3 421.9,659.2 423.9,656.2 425.9,653.4 427.8,650.6 429.8,647.9 431.8,645.3 433.7,642.6 435.7,639.9 437.7,637.3 439.6,634.9 441.6,632.5 443.5,630.2 445.5,627.9 447.5,625.6 449.4,623.3 451.4,621 453.4,618.8 455.3,616.8 457.3,614.9 459.3,613.2 461.2,611.4 463.2,609.6 465.1,607.7 467.1,605.9 469.1,604.2 471,602.5 473,600.9 475,599.3 476.9,597.7 478.9,596 480.9,594.2 482.8,592.4 484.8,590.7 486.7,589.2 488.7,587.6 490.7,586.2 492.6,584.7 494.6,583.2 496.6,581.7 498.5,580.2 500.5,578.9 502.5,577.6 504.4,576.4 506.4,575.1 508.3,573.7 510.3,572.3 512.3,570.7 514.2,569.2 516.2,567.8 518.2,566.4 520.1,565 522.1,563.7 524.1,562.2 526,560.7 528,559.3 529.9,557.9 531.9,556.6 533.9,555.4 535.8,554.2 537.8,553 539.8,551.7 541.7,550.3 543.7,549 545.7,547.6 547.6,546.4 549.6,545.2 551.5,544.1 553.5,542.9 555.5,541.6 557.4,540.3 559.4,538.9 561.4,537.7 563.3,536.6 565.3,535.6 567.3,534.7 569.2,533.9 571.2,533 573.1,532.2 575.1,531.4 577.1,530.7 579,530.1 581,529.5 583,528.9 584.9,528.1 586.9,527.4 588.9,526.6 590.8,525.9 592.8,525.3 594.7,524.8 596.7,524.4 598.7,524.1 600.6,523.8 602.6,523.5 604.6,522.8 606.5,521.8 608.5,520.9" fill="none" stroke="#ff0000" stroke-width="2.6" stroke-linejoin="round" stroke-linecap="butt" />
<polyline points="99.9,881.2 101.9,880.2 103.8,879.1 105.8,878.4 107.8,878.1 109.7,877.8 111.7,877.5 113.7,877.2 115.6,876.7 117.6,876.1 119.5,875.4 121.5,874.6 123.5,873.8 125.4,873.1 127.4,872.3 129.4,871.5 131.3,870.5 133.3,869.5 135.3,868.4 137.2,867.3 139.2,866.4 141.1,865.5 143.1,864.7 145.1,863.8 147,862.8 149,861.6 151,860.3 152.9,858.9 154.9,857.5 156.9,856.2 158.8,854.8 160.8,853.3 162.7,851.7 164.7,850.2 166.7,848.6 168.6,847 170.6,845.5 172.6,844.1 174.5,842.7 176.5,841.2 178.5,839.7 180.4,838.1 182.4,836.5 184.3,835 186.3,833.7 188.3,832.4 190.2,831.1 192.2,829.7 194.2,828.1 196.1,826.4 198.1,824.6 200.1,822.7 202,820.7 204,818.5 205.9,816.2 207.9,813.7 209.9,811.1 211.8,808.6 213.8,806.2 215.8,803.9 217.7,801.7 219.7,799.3 221.7,796.7 223.6,793.8 225.6,790.7 227.5,787.5 229.5,784.2 231.5,780.9 233.4,777.5 235.4,774.1 237.4,770.7 239.3,767.3 241.3,763.8 243.3,760.3 245.2,756.8 247.2,753.6 249.1,750.6 251.1,748 253.1,745.7 255,743.5 257,741.4 259,739.5 260.9,737.7 262.9,736.2 264.9,734.8 266.8,733.5 268.8,732.2 270.7,730.9 272.7,729.7 274.7,728.4 276.6,727.2 278.6,726 280.6,724.7 282.5,723.2 284.5,721.5 286.5,719.8 288.4,718 290.4,716.4 292.3,715 294.3,713.7 296.3,712.5 298.2,711.3 300.2,710 302.2,708.7 304.1,707.3 306.1,705.9 308.1,704.6 310,703.3 312,701.9 313.9,700.6 315.9,699.2 317.9,697.7 319.8,696.3 321.8,694.9 323.8,693.7 325.7,692.5 327.7,691.3 329.7,690.1 331.6,688.8 333.6,687.5 335.5,686.1 337.5,684.9 339.5,683.6 341.4,682.5 343.4,681.3 345.4,680.1 347.3,678.8 349.3,677.5 351.3,676.2 353.2,675 355.2,673.9 357.1,672.7 359.1,671.5 361.1,670.2 363,668.8 365,667.3 367,665.9 368.9,664.5 370.9,663.1 372.9,661.8 374.8,660.4 376.8,659.1 378.7,657.7 380.7,656.3 382.7,655 384.6,653.9 386.6,652.8 388.6,651.9 390.5,650.8 392.5,649.8 394.5,648.7 396.4,647.5 398.4,646.4 400.3,645.4 402.3,644.4 404.3,643.4 406.2,642.2 408.2,641 410.2,639.7 412.1,638.5 414.1,637.3 416.1,636.2 418,635.1 420,634.1 421.9,633 423.9,631.8 425.9,630.7 427.8,629.5 429.8,628.4 431.8,627.3 433.7,626.3 435.7,625.2 437.7,624 439.6,622.8 441.6,621.4 443.5,620.1 445.5,618.8 447.5,617.7 449.4,616.5 451.4,615.3 453.4,614.1 455.3,612.9 457.3,611.6 459.3,610.4 461.2,609.3 463.2,608.3 465.1,607.2 467.1,606.2 469.1,605 471,603.7 473,602.4 475,601.2 476.9,600 478.9,598.9 480.9,597.8 482.8,596.7 484.8,595.6 486.7,594.4 488.7,593.3 490.7,592.3 492.6,591.4 494.6,590.7 496.6,589.9 498.5,589.1 500.5,588.2 502.5,587.3 504.4,586.4 506.4,585.6 508.3,584.8 510.3,584 512.3,583.2 514.2,582.3 516.2,581.3 518.2,580.2 520.1,579.2 522.1,578.2 524.1,577.3 526,576.4 528,575.5 529.9,574.5 531.9,573.3 533.9,572.2 535.8,571 537.8,569.9 539.8,568.9 541.7,567.8 543.7,566.7 545.7,565.4 547.6,564.1 549.6,562.9 551.5,561.7 553.5,560.6 555.5,559.6 557.4,558.7 559.4,557.7 561.4,556.7 563.3,555.6 565.3,554.6 567.3,553.6 569.2,552.8 571.2,551.9 573.1,551.1 575.1,550.1 577.1,549.1 579,548 581,546.9 583,545.9 584.9,545 586.9,544.2 588.9,543.3 590.8,542.4 592.8,541.4 594.7,540.5 596.7,539.6 598.7,538.8 600.6,538 602.6,537.3 604.6,536.5 606.5,535.6 608.5,534.6" fill="none" stroke="#9400d3" stroke-width="2.6" stroke-linejoin="round" stroke-linecap="butt" />
<polyline points="99.9,888.6 101.9,887.7 103.8,886.8 105.8,886.1 107.8,885.6 109.7,885.1 111.7,884.6 113.7,883.9 115.6,883.1 117.6,882.2 119.5,881.3 121.5,880.3 123.5,879.5 125.4,878.6 127.4,877.7 129.4,876.8 131.3,875.8 133.3,874.7 135.3,873.6 137.2,872.6 139.2,871.6 141.1,870.7 143.1,869.7 145.1,868.6 147,867.3 149,865.9 151,864.5 152.9,863 154.9,861.5 156.9,860.1 158.8,858.5 160.8,857 162.7,855.4 164.7,853.8 166.7,852.3 168.6,850.9 170.6,849.5 172.6,848.2 174.5,846.8 176.5,845.4 178.5,843.9 180.4,842.5 182.4,841.1 184.3,839.8 186.3,838.6 188.3,837.4 190.2,836.2 192.2,835 194.2,833.7 196.1,832.4 198.1,831.3 200.1,830.2 202,829.2 204,828.2 205.9,827.2 207.9,826 209.9,824.7 211.8,823.4 213.8,822.2 215.8,821.1 217.7,820 219.7,818.9 221.7,817.8 223.6,816.6 225.6,815.5 227.5,814.6 229.5,813.7 231.5,813.1 233.4,812.5 235.4,811.8 237.4,811.1 239.3,810.4 241.3,809.5 243.3,808.6 245.2,807.6 247.2,806.6 249.1,805.4 251.1,804 253.1,802.5 255,800.8 257,799.2 259,797.6 260.9,796.2 262.9,795 264.9,793.9 266.8,792.9 268.8,791.8 270.7,790.8 272.7,789.9 274.7,789.1 276.6,788.3 278.6,787.6 280.6,786.7 282.5,785.8 284.5,784.7 286.5,783.4 288.4,782 290.4,780.5 292.3,779.1 294.3,777.7 296.3,776.2 298.2,774.7 300.2,773.2 302.2,771.7 304.1,770.4 306.1,769.2 308.1,768.1 310,767.1 312,766.1 313.9,765.1 315.9,764 317.9,762.8 319.8,761.7 321.8,760.6 323.8,759.5 325.7,758.3 327.7,757.1 329.7,755.8 331.6,754.3 333.6,752.9 335.5,751.5 337.5,750.2 339.5,749 341.4,747.9 343.4,746.6 345.4,745.4 347.3,744.1 349.3,742.8 351.3,741.6 353.2,740.4 355.2,739.4 357.1,738.3 359.1,737.2 361.1,736 363,734.7 365,733.5 367,732.3 368.9,731.2 370.9,730.1 372.9,728.9 374.8,727.6 376.8,726.3 378.7,724.8 380.7,723.4 382.7,722 384.6,720.6 386.6,719.2 388.6,717.7 390.5,716.1 392.5,714.3 394.5,712.4 396.4,710.5 398.4,708.5 400.3,706.6 402.3,704.6 404.3,702.5 406.2,700.3 408.2,698.1 410.2,695.9 412.1,693.7 414.1,691.7 416.1,689.7 418,687.5 420,685.3 421.9,683 423.9,680.6 425.9,678.2 427.8,676 429.8,673.9 431.8,672 433.7,670.3 435.7,668.6 437.7,667 439.6,665.5 441.6,664 443.5,662.7 445.5,661.6 447.5,660.5 449.4,659.4 451.4,658.2 453.4,656.9 455.3,655.5 457.3,654.2 459.3,652.9 461.2,651.7 463.2,650.5 465.1,649.2 467.1,647.8 469.1,646.3 471,644.7 473,643.2 475,641.7 476.9,640.2 478.9,638.8 480.9,637.3 482.8,635.7 484.8,634 486.7,632.4 488.7,630.7 490.7,629.1 492.6,627.5 494.6,625.9 496.6,624.1 498.5,622.2 500.5,620.2 502.5,618.2 504.4,616.3 506.4,614.4 508.3,612.6 510.3,610.9 512.3,609.2 514.2,607.5 516.2,605.9 518.2,604.3 520.1,602.8 522.1,601.5 524.1,600.2 526,598.8 528,597.4 529.9,595.9 531.9,594.2 533.9,592.6 535.8,591 537.8,589.5 539.8,587.9 541.7,586.3 543.7,584.6 545.7,582.9 547.6,581.3 549.6,579.7 551.5,578.2 553.5,576.9 555.5,575.6 557.4,574.3 559.4,572.9 561.4,571.5 563.3,570 565.3,568.6 567.3,567.3 569.2,566 571.2,564.7 573.1,563.3 575.1,561.9 577.1,560.4 579,559 581,557.7 583,556.5 584.9,555.4 586.9,554.3 588.9,553.3 590.8,552.2 592.8,551.2 594.7,550.2 596.7,549.3 598.7,548.6 600.6,547.9 602.6,547.2 604.6,546.3 606.5,545.2 608.5,544" fill="none" stroke="#9400d3" stroke-width="2.6" stroke-linejoin="round" stroke-linecap="butt" />
<polyline points="99.9,900.3 101.9,899.3 103.8,898.5 105.8,897.8 107.8,897.1 109.7,896.4 111.7,895.5 113.7,894.6 115.6,893.6 117.6,892.6 119.5,891.7 121.5,890.8 123.5,889.8 125.4,888.8 127.4,887.7 129.4,886.6 131.3,885.5 133.3,884.5 135.3,883.5 137.2,882.7 139.2,881.8 141.1,880.8 143.1,879.8 145.1,878.7 147,877.6 149,876.5 151,875.5 152.9,874.4 154.9,873.2 156.9,871.9 158.8,870.5 160.8,869.1 162.7,867.8 164.7,866.5 166.7,865.3 168.6,864.2 170.6,863 172.6,861.8 174.5,860.6 176.5,859.3 178.5,858.2 180.4,857.1 182.4,856.1 184.3,855.1 186.3,854 188.3,852.8 190.2,851.5 192.2,850.2 194.2,849 196.1,847.9 198.1,846.9 200.1,845.8 202,844.8 204,843.6 205.9,842.5 207.9,841.4 209.9,840.4 211.8,839.5 213.8,838.7 215.8,837.8 217.7,836.8 219.7,835.7 221.7,834.6 223.6,833.4 225.6,832.3 227.5,831.2 229.5,830.1 231.5,829 233.4,827.7 235.4,826.4 237.4,825.1 239.3,823.9 241.3,822.8 243.3,821.7 245.2,820.6 247.2,819.4 249.1,818 251.1,816.4 253.1,814.7 255,813 257,811.1 259,809.2 260.9,807 262.9,804.6 264.9,801.8 266.8,798.7 268.8,795.2 270.7,791.4 272.7,787.3 274.7,782.4 276.6,777 278.6,771.3 280.6,765.5 282.5,759.2 284.5,752.8 286.5,746.5 288.4,740.7 290.4,735 292.3,729.6 294.3,724.5 296.3,719.8 298.2,715.3 300.2,711.2 302.2,707.7 304.1,704.6 306.1,701.9 308.1,699.4 310,697 312,694.7 313.9,692.4 315.9,690.3 317.9,688.2 319.8,686.1 321.8,684 323.8,681.8 325.7,679.6 327.7,677.3 329.7,675 331.6,672.9 333.6,670.8 335.5,668.9 337.5,666.9 339.5,664.9 341.4,662.9 343.4,660.9 345.4,658.9 347.3,657.1 349.3,655.4 351.3,653.8 353.2,652.4 355.2,650.9 357.1,649.4 359.1,647.8 361.1,646.4 363,645 365,643.7 367,642.4 368.9,641.2 370.9,639.9 372.9,638.6 374.8,637.4 376.8,636.2 378.7,635.1 380.7,634.1 382.7,633.2 384.6,632.2 386.6,631.1 388.6,630 390.5,628.8 392.5,627.7 394.5,626.6 396.4,625.5 398.4,624.5 400.3,623.4 402.3,622.2 404.3,621 406.2,619.8 408.2,618.7 410.2,617.7 412.1,616.8 414.1,615.9 416.1,614.9 418,613.9 420,612.8 421.9,611.7 423.9,610.7 425.9,609.7 427.8,608.7 429.8,607.7 431.8,606.5 433.7,605.3 435.7,604 437.7,602.6 439.6,601.4 441.6,600.2 443.5,599.1 445.5,598 447.5,596.8 449.4,595.5 451.4,594.2 453.4,593 455.3,591.9 457.3,590.8 459.3,589.7 461.2,588.6 463.2,587.3 465.1,586 467.1,584.7 469.1,583.4 471,582.2 473,581.1 475,580.1 476.9,579 478.9,577.8 480.9,576.7 482.8,575.5 484.8,574.5 486.7,573.5 488.7,572.7 490.7,571.8 492.6,570.8 494.6,569.8 496.6,568.7 498.5,567.6 500.5,566.5 502.5,565.5 504.4,564.5 506.4,563.5 508.3,562.4 510.3,561.3 512.3,560.2 514.2,559.1 516.2,558 518.2,557.1 520.1,556.2 522.1,555.3 524.1,554.4 526,553.3 528,552.2 529.9,551.1 531.9,550.1 533.9,549.1 535.8,548.1 537.8,547.1 539.8,546 541.7,544.8 543.7,543.6 545.7,542.5 547.6,541.5 549.6,540.7 551.5,539.8 553.5,538.9 555.5,538 557.4,537.1 559.4,536.1 561.4,535.2 563.3,534.4 565.3,533.7 567.3,532.9 569.2,532 571.2,531 573.1,530 575.1,529 577.1,528.1 579,527.2 581,526.5 583,525.7 584.9,524.9 586.9,524 588.9,523.2 590.8,522.3 592.8,521.6 594.7,520.9 596.7,520.2 598.7,519.5 600.6,518.6 602.6,517.7 604.6,516.7 606.5,515.6 608.5,514.6" fill="none" stroke="#008000" stroke-width="2.6" stroke-linejoin="round" stroke-linecap="butt" />
<polyline points="99.9,900.1 101.9,899.3 103.8,898.5 105.8,897.8 107.8,897.1 109.7,896.4 111.7,895.5 113.7,894.6 115.6,893.7 117.6,892.9 119.5,892.2 121.5,891.5 123.5,890.7 125.4,889.8 127.4,888.9 129.4,888 131.3,887.1 133.3,886.4 135.3,885.6 137.2,884.8 139.2,883.8 141.1,882.8 143.1,881.7 145.1,880.6 147,879.5 149,878.4 151,877.4 152.9,876.4 154.9,875.2 156.9,874 158.8,872.8 160.8,871.7 162.7,870.6 164.7,869.6 166.7,868.7 168.6,867.7 170.6,866.6 172.6,865.4 174.5,864.2 176.5,863.1 178.5,862 180.4,861 182.4,860 184.3,859 186.3,857.9 188.3,856.7 190.2,855.5 192.2,854.5 194.2,853.5 196.1,852.6 198.1,851.7 200.1,850.8 202,849.8 204,848.7 205.9,847.6 207.9,846.6 209.9,845.5 211.8,844.5 213.8,843.5 215.8,842.3 217.7,841.1 219.7,839.8 221.7,838.5 223.6,837.3 225.6,836.3 227.5,835.2 229.5,834.2 231.5,833.1 233.4,832 235.4,830.9 237.4,829.8 239.3,828.8 241.3,827.9 243.3,827 245.2,826 247.2,825 249.1,823.9 251.1,822.7 253.1,821.6 255,820.6 257,819.7 259,818.8 260.9,817.9 262.9,816.9 264.9,815.8 266.8,814.8 268.8,813.9 270.7,813 272.7,812.2 274.7,811.3 276.6,810.4 278.6,809.4 280.6,808.2 282.5,807.1 284.5,806 286.5,804.9 288.4,803.9 290.4,802.8 292.3,801.6 294.3,800.3 296.3,799 298.2,797.7 300.2,796.5 302.2,795.3 304.1,794.1 306.1,792.9 308.1,791.6 310,790.1 312,788.7 313.9,787.2 315.9,785.8 317.9,784.5 319.8,783.2 321.8,781.9 323.8,780.5 325.7,779.1 327.7,777.8 329.7,776.5 331.6,775.3 333.6,774.3 335.5,773.3 337.5,772.2 339.5,771.1 341.4,770 343.4,768.8 345.4,767.7 347.3,766.6 349.3,765.5 351.3,764.4 353.2,763.2 355.2,761.9 357.1,760.6 359.1,759.3 361.1,758 363,756.9 365,755.7 367,754.5 368.9,753.2 370.9,751.8 372.9,750.2 374.8,748.4 376.8,746.5 378.7,744.5 380.7,742.3 382.7,739.9 384.6,737.2 386.6,734.5 388.6,731.5 390.5,728.5 392.5,725.3 394.5,722.1 396.4,718.7 398.4,714.9 400.3,710.7 402.3,706.4 404.3,702.2 406.2,698.3 408.2,694.8 410.2,691.6 412.1,688.6 414.1,685.7 416.1,682.7 418,679.6 420,676.5 421.9,673.3 423.9,670.1 425.9,666.9 427.8,663.8 429.8,660.6 431.8,657.3 433.7,654.1 435.7,651.1 437.7,648.2 439.6,645.5 441.6,643 443.5,640.4 445.5,637.8 447.5,635.2 449.4,632.4 451.4,629.7 453.4,626.9 455.3,624.2 457.3,621.5 459.3,618.8 461.2,616 463.2,613.2 465.1,610.5 467.1,607.9 469.1,605.4 471,603 473,600.7 475,598.5 476.9,596.2 478.9,594 480.9,591.8 482.8,589.7 484.8,587.7 486.7,585.9 488.7,584 490.7,582.2 492.6,580.3 494.6,578.3 496.6,576.5 498.5,574.7 500.5,573.1 502.5,571.5 504.4,570.1 506.4,568.6 508.3,567.2 510.3,565.7 512.3,564.3 514.2,563 516.2,561.8 518.2,560.7 520.1,559.6 522.1,558.4 524.1,557.1 526,555.8 528,554.5 529.9,553.4 531.9,552.3 533.9,551.2 535.8,550.1 537.8,548.9 539.8,547.6 541.7,546.4 543.7,545.1 545.7,544 547.6,543 549.6,542 551.5,541 553.5,539.9 555.5,538.8 557.4,537.7 559.4,536.5 561.4,535.5 563.3,534.5 565.3,533.5 567.3,532.4 569.2,531.3 571.2,530.2 573.1,529.1 575.1,528.1 577.1,527.2 579,526.4 581,525.6 583,524.8 584.9,523.9 586.9,523.1 588.9,522.2 590.8,521.4 592.8,520.6 594.7,520 596.7,519.3 598.7,518.5 600.6,517.7 602.6,516.9 604.6,516 606.5,515 608.5,514.2" fill="none" stroke="#008000" stroke-width="2.6" stroke-linejoin="round" stroke-linecap="butt" />
</g>
<text x="96.4" y="516.2" font-size="34.2" text-anchor="end" font-weight="bold" font-style="normal" fill="#000" >0.5</text>
<text x="96.4" y="716.5" font-size="34.2" text-anchor="end" font-weight="bold" font-style="normal" fill="#000" >0.0</text>
<text x="96.4" y="916.9" font-size="34.2" text-anchor="end" font-weight="bold" font-style="normal" fill="#000" >-0.5</text>
<text x="107.4" y="942.9" font-size="34.2" text-anchor="middle" font-weight="bold" font-style="normal" fill="#000" >-10</text>
<text x="232" y="942.9" font-size="34.2" text-anchor="middle" font-weight="bold" font-style="normal" fill="#000" >-5</text>
<text x="356.7" y="942.9" font-size="34.2" text-anchor="middle" font-weight="bold" font-style="normal" fill="#000" >0</text>
<text x="481.4" y="942.9" font-size="34.2" text-anchor="middle" font-weight="bold" font-style="normal" fill="#000" >5</text>
<text x="606" y="942.9" font-size="34.2" text-anchor="middle" font-weight="bold" font-style="normal" fill="#000" >10</text>
<text x="353.4" y="984.1" font-size="33.9" text-anchor="middle" font-weight="bold" font-style="italic" fill="#000" >Applied Field - H (Oe)</text>
<text transform="translate(30.4,755.2) rotate(-90)" font-size="34.3" font-weight="bold" font-style="italic">B/B<tspan font-size="27" dy="8">S</tspan></text>
<line x1="115.2" y1="531.7" x2="157.8" y2="531.7" stroke="#000000" stroke-width="3.6" stroke-linecap="butt"/>
<text x="164" y="538" font-size="18.9" text-anchor="start" font-weight="bold" font-style="italic" fill="#000" >P = 1.6 mTorr</text>
<line x1="115.2" y1="555.6" x2="157.8" y2="555.6" stroke="#0000ff" stroke-width="3.6" stroke-linecap="butt"/>
<text x="164" y="561.9" font-size="18.9" text-anchor="start" font-weight="bold" font-style="italic" fill="#000" >P = 2.2 mTorr</text>
<line x1="115.2" y1="579.5" x2="157.8" y2="579.5" stroke="#808000" stroke-width="3.6" stroke-linecap="butt"/>
<text x="164" y="585.8" font-size="18.9" text-anchor="start" font-weight="bold" font-style="italic" fill="#000" >P = 3.0 mTorr</text>
<line x1="115.2" y1="603.4" x2="157.8" y2="603.4" stroke="#ff0000" stroke-width="3.6" stroke-linecap="butt"/>
<text x="164" y="609.7" font-size="18.9" text-anchor="start" font-weight="bold" font-style="italic" fill="#000" >P = 3.5 mTorr</text>
<line x1="115.2" y1="627.3" x2="157.8" y2="627.3" stroke="#9400d3" stroke-width="3.6" stroke-linecap="butt"/>
<text x="164" y="633.6" font-size="18.9" text-anchor="start" font-weight="bold" font-style="italic" fill="#000" >P = 3.75 mTorr</text>
<line x1="115.2" y1="651.2" x2="157.8" y2="651.2" stroke="#008000" stroke-width="3.6" stroke-linecap="butt"/>
<text x="164" y="657.5" font-size="18.9" text-anchor="start" font-weight="bold" font-style="italic" fill="#000" >P = 4.0 mTorr</text>
<text transform="translate(106.8,754.0) scale(0.98,1)" font-size="49" font-weight="normal" stroke="#000" stroke-width="0.35">(b)</text>
</g>
<g id="panel-c">
<g clip-path="url(#cc)">
<line x1="170.6" y1="1042.4" x2="203.4" y2="1070.8" stroke="#000" stroke-width="3.5" stroke-linecap="butt"/>
<line x1="227.4" y1="1084.1" x2="272.6" y2="1098.1" stroke="#000" stroke-width="3.5" stroke-linecap="butt"/>
<line x1="294.2" y1="1113.6" x2="322.8" y2="1152.9" stroke="#000" stroke-width="3.5" stroke-linecap="butt"/>
<line x1="338" y1="1152.2" x2="346.5" y2="1137.7" stroke="#000" stroke-width="3.5" stroke-linecap="butt"/>
<line x1="360.5" y1="1137.7" x2="369" y2="1152.2" stroke="#000" stroke-width="3.5" stroke-linecap="butt"/>
<line x1="379.6" y1="1150.7" x2="570.4" y2="433.7" stroke="#000" stroke-width="3.5" stroke-linecap="butt"/>
</g>
<line x1="174" y1="1372.9" x2="200" y2="1372.9" stroke="#ff0000" stroke-width="3.5" stroke-linecap="butt"/>
<line x1="228" y1="1372.5" x2="272" y2="1371.4" stroke="#ff0000" stroke-width="3.5" stroke-linecap="butt"/>
<line x1="299.6" y1="1367.7" x2="317.4" y2="1363.4" stroke="#ff0000" stroke-width="3.5" stroke-linecap="butt"/>
<line x1="387.4" y1="1356.5" x2="562.6" y2="1231" stroke="#ff0000" stroke-width="3.5" stroke-linecap="butt"/>
<circle cx="160" cy="1033.2" r="10.0" fill="url(#gk)"/>
<circle cx="214" cy="1079.9" r="10.0" fill="url(#gk)"/>
<circle cx="286" cy="1102.3" r="10.0" fill="url(#gk)"/>
<circle cx="331" cy="1164.3" r="10.0" fill="url(#gk)"/>
<circle cx="353.5" cy="1125.6" r="10.0" fill="url(#gk)"/>
<circle cx="376" cy="1164.3" r="10.0" fill="url(#gk)"/>
<circle cx="160" cy="1372.9" r="10.0" fill="url(#gr)"/>
<circle cx="214" cy="1372.9" r="10.0" fill="url(#gr)"/>
<circle cx="286" cy="1371" r="10.0" fill="url(#gr)"/>
<circle cx="331" cy="1360" r="10.0" fill="url(#gr)"/>
<circle cx="353.5" cy="1357.1" r="10.0" fill="url(#gr)"/>
<circle cx="376" cy="1364.7" r="10.0" fill="url(#gr)"/>
<circle cx="574" cy="1222.9" r="10.0" fill="url(#gr)"/>
<rect x="106" y="1014.2" width="494.1" height="377.8" fill="none" stroke="#000" stroke-width="3"/>
<line x1="106" y1="1203.3" x2="600.1" y2="1203.3" stroke="#000" stroke-width="3" stroke-linecap="butt"/>
<line x1="151" y1="1392" x2="151" y2="1386.8" stroke="#000" stroke-width="3.2" stroke-linecap="butt"/>
<line x1="151" y1="1198.1" x2="151" y2="1208.5" stroke="#000" stroke-width="3.2" stroke-linecap="butt"/>
<line x1="151" y1="1014.2" x2="151" y2="1019.4" stroke="#000" stroke-width="3.2" stroke-linecap="butt"/>
<line x1="196" y1="1392" x2="196" y2="1381.7" stroke="#000" stroke-width="3.2" stroke-linecap="butt"/>
<line x1="196" y1="1193" x2="196" y2="1213.6" stroke="#000" stroke-width="3.2" stroke-linecap="butt"/>
<line x1="196" y1="1014.2" x2="196" y2="1024.5" stroke="#000" stroke-width="3.2" stroke-linecap="butt"/>
<line x1="241" y1="1392" x2="241" y2="1386.8" stroke="#000" stroke-width="3.2" stroke-linecap="butt"/>
<line x1="241" y1="1198.1" x2="241" y2="1208.5" stroke="#000" stroke-width="3.2" stroke-linecap="butt"/>
<line x1="241" y1="1014.2" x2="241" y2="1019.4" stroke="#000" stroke-width="3.2" stroke-linecap="butt"/>
<line x1="286" y1="1392" x2="286" y2="1381.7" stroke="#000" stroke-width="3.2" stroke-linecap="butt"/>
<line x1="286" y1="1193" x2="286" y2="1213.6" stroke="#000" stroke-width="3.2" stroke-linecap="butt"/>
<line x1="286" y1="1014.2" x2="286" y2="1024.5" stroke="#000" stroke-width="3.2" stroke-linecap="butt"/>
<line x1="331" y1="1392" x2="331" y2="1386.8" stroke="#000" stroke-width="3.2" stroke-linecap="butt"/>
<line x1="331" y1="1198.1" x2="331" y2="1208.5" stroke="#000" stroke-width="3.2" stroke-linecap="butt"/>
<line x1="331" y1="1014.2" x2="331" y2="1019.4" stroke="#000" stroke-width="3.2" stroke-linecap="butt"/>
<line x1="376" y1="1392" x2="376" y2="1381.7" stroke="#000" stroke-width="3.2" stroke-linecap="butt"/>
<line x1="376" y1="1193" x2="376" y2="1213.6" stroke="#000" stroke-width="3.2" stroke-linecap="butt"/>
<line x1="376" y1="1014.2" x2="376" y2="1024.5" stroke="#000" stroke-width="3.2" stroke-linecap="butt"/>
<line x1="421" y1="1392" x2="421" y2="1386.8" stroke="#000" stroke-width="3.2" stroke-linecap="butt"/>
<line x1="421" y1="1198.1" x2="421" y2="1208.5" stroke="#000" stroke-width="3.2" stroke-linecap="butt"/>
<line x1="421" y1="1014.2" x2="421" y2="1019.4" stroke="#000" stroke-width="3.2" stroke-linecap="butt"/>
<line x1="466" y1="1392" x2="466" y2="1381.7" stroke="#000" stroke-width="3.2" stroke-linecap="butt"/>
<line x1="466" y1="1193" x2="466" y2="1213.6" stroke="#000" stroke-width="3.2" stroke-linecap="butt"/>
<line x1="466" y1="1014.2" x2="466" y2="1024.5" stroke="#000" stroke-width="3.2" stroke-linecap="butt"/>
<line x1="511" y1="1392" x2="511" y2="1386.8" stroke="#000" stroke-width="3.2" stroke-linecap="butt"/>
<line x1="511" y1="1198.1" x2="511" y2="1208.5" stroke="#000" stroke-width="3.2" stroke-linecap="butt"/>
<line x1="511" y1="1014.2" x2="511" y2="1019.4" stroke="#000" stroke-width="3.2" stroke-linecap="butt"/>
<line x1="556" y1="1392" x2="556" y2="1381.7" stroke="#000" stroke-width="3.2" stroke-linecap="butt"/>
<line x1="556" y1="1193" x2="556" y2="1213.6" stroke="#000" stroke-width="3.2" stroke-linecap="butt"/>
<line x1="556" y1="1014.2" x2="556" y2="1024.5" stroke="#000" stroke-width="3.2" stroke-linecap="butt"/>
<line x1="106" y1="1184" x2="111.1" y2="1184" stroke="#000" stroke-width="3" stroke-linecap="butt"/>
<line x1="600.1" y1="1184" x2="595" y2="1184" stroke="#000" stroke-width="3" stroke-linecap="butt"/>
<line x1="106" y1="1159.7" x2="115.5" y2="1159.7" stroke="#000" stroke-width="3" stroke-linecap="butt"/>
<line x1="600.1" y1="1159.7" x2="590.6" y2="1159.7" stroke="#000" stroke-width="3" stroke-linecap="butt"/>
<line x1="106" y1="1135.4" x2="111.1" y2="1135.4" stroke="#000" stroke-width="3" stroke-linecap="butt"/>
<line x1="600.1" y1="1135.4" x2="595" y2="1135.4" stroke="#000" stroke-width="3" stroke-linecap="butt"/>
<line x1="106" y1="1111" x2="115.5" y2="1111" stroke="#000" stroke-width="3" stroke-linecap="butt"/>
<line x1="600.1" y1="1111" x2="590.6" y2="1111" stroke="#000" stroke-width="3" stroke-linecap="butt"/>
<line x1="106" y1="1086.7" x2="111.1" y2="1086.7" stroke="#000" stroke-width="3" stroke-linecap="butt"/>
<line x1="600.1" y1="1086.7" x2="595" y2="1086.7" stroke="#000" stroke-width="3" stroke-linecap="butt"/>
<line x1="106" y1="1062.4" x2="115.5" y2="1062.4" stroke="#000" stroke-width="3" stroke-linecap="butt"/>
<line x1="600.1" y1="1062.4" x2="590.6" y2="1062.4" stroke="#000" stroke-width="3" stroke-linecap="butt"/>
<line x1="106" y1="1038.1" x2="111.1" y2="1038.1" stroke="#000" stroke-width="3" stroke-linecap="butt"/>
<line x1="600.1" y1="1038.1" x2="595" y2="1038.1" stroke="#000" stroke-width="3" stroke-linecap="butt"/>
<line x1="106" y1="1377.6" x2="115.5" y2="1377.6" stroke="#000" stroke-width="3" stroke-linecap="butt"/>
<line x1="600.1" y1="1377.6" x2="590.6" y2="1377.6" stroke="#000" stroke-width="3" stroke-linecap="butt"/>
<line x1="106" y1="1358.2" x2="111.1" y2="1358.2" stroke="#000" stroke-width="3" stroke-linecap="butt"/>
<line x1="600.1" y1="1358.2" x2="595" y2="1358.2" stroke="#000" stroke-width="3" stroke-linecap="butt"/>
<line x1="106" y1="1338.8" x2="115.5" y2="1338.8" stroke="#000" stroke-width="3" stroke-linecap="butt"/>
<line x1="600.1" y1="1338.8" x2="590.6" y2="1338.8" stroke="#000" stroke-width="3" stroke-linecap="butt"/>
<line x1="106" y1="1319.4" x2="111.1" y2="1319.4" stroke="#000" stroke-width="3" stroke-linecap="butt"/>
<line x1="600.1" y1="1319.4" x2="595" y2="1319.4" stroke="#000" stroke-width="3" stroke-linecap="butt"/>
<line x1="106" y1="1300" x2="115.5" y2="1300" stroke="#000" stroke-width="3" stroke-linecap="butt"/>
<line x1="600.1" y1="1300" x2="590.6" y2="1300" stroke="#000" stroke-width="3" stroke-linecap="butt"/>
<line x1="106" y1="1280.6" x2="111.1" y2="1280.6" stroke="#000" stroke-width="3" stroke-linecap="butt"/>
<line x1="600.1" y1="1280.6" x2="595" y2="1280.6" stroke="#000" stroke-width="3" stroke-linecap="butt"/>
<line x1="106" y1="1261.2" x2="115.5" y2="1261.2" stroke="#000" stroke-width="3" stroke-linecap="butt"/>
<line x1="600.1" y1="1261.2" x2="590.6" y2="1261.2" stroke="#000" stroke-width="3" stroke-linecap="butt"/>
<line x1="106" y1="1241.8" x2="111.1" y2="1241.8" stroke="#000" stroke-width="3" stroke-linecap="butt"/>
<line x1="600.1" y1="1241.8" x2="595" y2="1241.8" stroke="#000" stroke-width="3" stroke-linecap="butt"/>
<line x1="106" y1="1222.4" x2="115.5" y2="1222.4" stroke="#000" stroke-width="3" stroke-linecap="butt"/>
<line x1="600.1" y1="1222.4" x2="590.6" y2="1222.4" stroke="#000" stroke-width="3" stroke-linecap="butt"/>
<text x="95.6" y="1023.6" font-size="32.5" text-anchor="end" font-weight="bold" font-style="normal" fill="#000" >35</text>
<text x="95.6" y="1072.3" font-size="32.5" text-anchor="end" font-weight="bold" font-style="normal" fill="#000" >30</text>
<text x="95.6" y="1121" font-size="32.5" text-anchor="end" font-weight="bold" font-style="normal" fill="#000" >25</text>
<text x="95.6" y="1169.6" font-size="32.5" text-anchor="end" font-weight="bold" font-style="normal" fill="#000" >20</text>
<text x="95.6" y="1232.2" font-size="32.5" text-anchor="end" font-weight="bold" font-style="normal" fill="#000" >16</text>
<text x="95.6" y="1271" font-size="32.5" text-anchor="end" font-weight="bold" font-style="normal" fill="#000" >12</text>
<text x="95.6" y="1309.8" font-size="32.5" text-anchor="end" font-weight="bold" font-style="normal" fill="#000" >8</text>
<text x="95.6" y="1348.6" font-size="32.5" text-anchor="end" font-weight="bold" font-style="normal" fill="#000" >4</text>
<text x="95.6" y="1387.4" font-size="32.5" text-anchor="end" font-weight="bold" font-style="normal" fill="#000" >0</text>
<text x="105.7" y="1428.1" font-size="32.3" text-anchor="middle" font-weight="bold" font-style="normal" fill="#000" >1</text>
<text x="195.7" y="1428.1" font-size="32.3" text-anchor="middle" font-weight="bold" font-style="normal" fill="#000" >2</text>
<text x="285.7" y="1428.1" font-size="32.3" text-anchor="middle" font-weight="bold" font-style="normal" fill="#000" >3</text>
<text x="375.7" y="1428.1" font-size="32.3" text-anchor="middle" font-weight="bold" font-style="normal" fill="#000" >4</text>
<text x="465.7" y="1428.1" font-size="32.3" text-anchor="middle" font-weight="bold" font-style="normal" fill="#000" >5</text>
<text x="555.7" y="1428.1" font-size="32.3" text-anchor="middle" font-weight="bold" font-style="normal" fill="#000" >6</text>
<text x="344" y="1474" font-size="41" text-anchor="middle" font-weight="bold" font-style="italic" fill="#000" >Sputtering Pressure (mTorr)</text>
<text transform="translate(42.9,1169.5) rotate(-90)" font-size="41" font-weight="bold" font-style="italic">H<tspan font-size="33" dy="8.8">K</tspan><tspan dy="-8.8"> (Oe</tspan><tspan dx="-4">)</tspan></text>
<text transform="translate(48.4,1370.8) rotate(-90)" font-size="41" font-weight="bold" font-style="italic">H<tspan font-size="31" dy="9.5">C</tspan><tspan dy="-9.5"> (Oe)</tspan></text>
<text x="412" y="1131" font-size="30.2" text-anchor="start" font-weight="bold" font-style="normal" fill="#000" >out-of-plane</text>
<line x1="491.4" y1="1096.5" x2="491.4" y2="1054" stroke="#000" stroke-width="3" stroke-linecap="butt"/>
<polygon points="491.4,1037 497.9,1057.5 484.9,1057.5" fill="#000"/>
<text transform="translate(117.6,1259.2) scale(0.915,1)" font-size="49" font-weight="normal" stroke="#000" stroke-width="0.35">(c)</text>
</g>
</svg></body></html>
